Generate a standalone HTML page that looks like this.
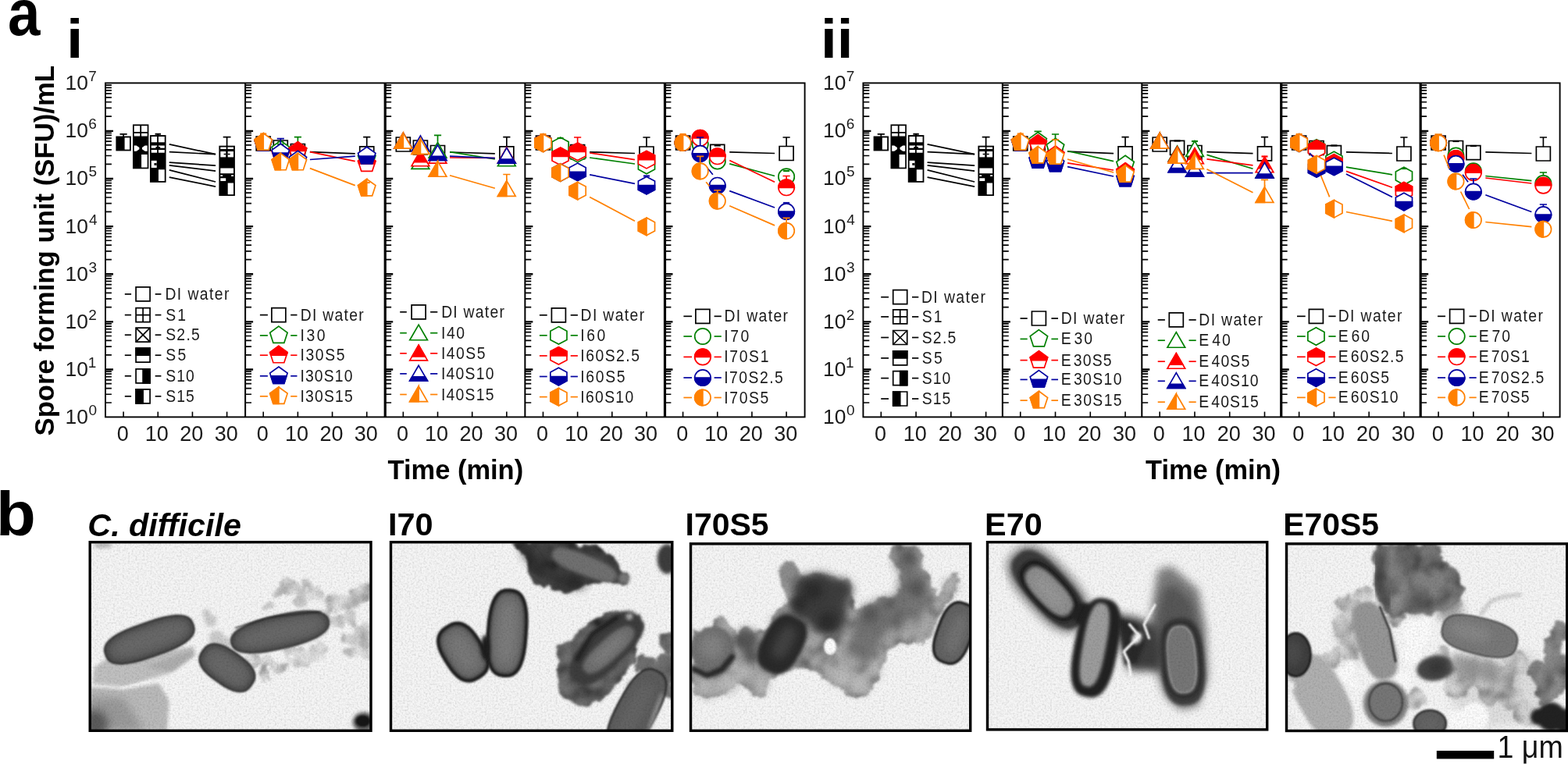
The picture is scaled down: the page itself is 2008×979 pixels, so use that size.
<!DOCTYPE html>
<html lang="en"><head><meta charset="utf-8"><title>Spore inactivation figure</title>
<style>html,body{margin:0;padding:0;background:#fff;overflow:hidden}svg{display:block;filter:blur(0.45px)}text{font-family:"Liberation Sans",sans-serif}</style>
</head><body>
<svg width="2008" height="979" viewBox="0 0 2008 979" font-family="Liberation Sans, sans-serif">
<rect width="2008" height="979" fill="#fff"/>
<text x="9.96" y="44.8" font-size="83" textLength="41.45" lengthAdjust="spacingAndGlyphs" fill="#000" style="font-weight:bold" xml:space="preserve">a</text>
<text x="-5.01" y="686.4" font-size="80" textLength="50.8" lengthAdjust="spacingAndGlyphs" fill="#000" style="font-weight:bold" xml:space="preserve">b</text>
<text x="85.11" y="74" font-size="71" textLength="21.41" lengthAdjust="spacingAndGlyphs" fill="#000" style="font-weight:bold" xml:space="preserve">i</text>
<text x="1050.97" y="74" font-size="71" textLength="41.51" lengthAdjust="spacingAndGlyphs" fill="#000" style="font-weight:bold" xml:space="preserve">ii</text>
<text x="-1.04" y="0" font-size="35.8" textLength="474.6" lengthAdjust="spacingAndGlyphs" fill="#000" style="font-weight:bold" transform="translate(68.6 557.5) rotate(-90)" xml:space="preserve">Spore forming unit (SFU)/mL</text>
<text x="496.56" y="614.3" font-size="35.3" textLength="173.59" lengthAdjust="spacingAndGlyphs" fill="#000" style="font-weight:bold" xml:space="preserve">Time (min)</text>
<text x="1467.06" y="614.3" font-size="35.3" textLength="172.98" lengthAdjust="spacingAndGlyphs" fill="#000" style="font-weight:bold" xml:space="preserve">Time (min)</text>
<text x="83.62" y="543.1" font-size="26.4" fill="#1a1a1a" xml:space="preserve">10<tspan x="113.57" y="532.2" font-size="19">0</tspan></text>
<text x="83.62" y="481.96" font-size="26.4" fill="#1a1a1a" xml:space="preserve">10<tspan x="112.69" y="471.06" font-size="19">1</tspan></text>
<text x="83.62" y="420.81" font-size="26.4" fill="#1a1a1a" xml:space="preserve">10<tspan x="113.32" y="409.91" font-size="19">2</tspan></text>
<text x="83.62" y="359.67" font-size="26.4" fill="#1a1a1a" xml:space="preserve">10<tspan x="113.57" y="348.77" font-size="19">3</tspan></text>
<text x="83.62" y="298.53" font-size="26.4" fill="#1a1a1a" xml:space="preserve">10<tspan x="113.91" y="287.63" font-size="19">4</tspan></text>
<text x="83.62" y="237.39" font-size="26.4" fill="#1a1a1a" xml:space="preserve">10<tspan x="113.57" y="226.49" font-size="19">5</tspan></text>
<text x="83.62" y="176.24" font-size="26.4" fill="#1a1a1a" xml:space="preserve">10<tspan x="113.33" y="165.34" font-size="19">6</tspan></text>
<text x="83.62" y="115.1" font-size="26.4" fill="#1a1a1a" xml:space="preserve">10<tspan x="113.32" y="104.2" font-size="19">7</tspan></text>
<g>
<line x1="216.77" y1="184.8" x2="276.11" y2="197.7" stroke="#000" stroke-width="1.7"/><line x1="216.77" y1="194.6" x2="276.11" y2="197.7" stroke="#000" stroke-width="1.7"/><line x1="216.77" y1="208.1" x2="276.11" y2="212.2" stroke="#000" stroke-width="1.7"/><line x1="216.77" y1="211.8" x2="276.11" y2="219.1" stroke="#000" stroke-width="1.7"/><line x1="216.77" y1="217.9" x2="276.11" y2="233" stroke="#000" stroke-width="1.7"/><line x1="216.77" y1="227.1" x2="276.11" y2="239.1" stroke="#000" stroke-width="1.7"/><path d="M158.1 175V171.8M153.5 171.8H162.7" stroke="#000" stroke-width="1.7" fill="none"/><rect x="148.4" y="174.5" width="19.4" height="18.9" fill="#000"/><rect x="159.6" y="176.4" width="6.4" height="15.2" fill="#fff"/><rect x="169.99" y="159.4" width="20.4" height="56.9" fill="#000"/><rect x="171.69" y="161.2" width="7.6" height="7.8" fill="#fff"/><rect x="171.69" y="170.8" width="7.6" height="3.7" fill="#fff"/><rect x="181.09" y="161.2" width="7.6" height="7.8" fill="#fff"/><rect x="181.09" y="170.8" width="7.6" height="3.7" fill="#fff"/><polygon points="171.69,186.5 174.69,186.5 178.38,189 178.38,191.3 174.69,193.8 171.69,193.8" fill="#fff"/><polygon points="188.69,186.5 185.69,186.5 181.99,189 181.99,191.3 185.69,193.8 188.69,193.8" fill="#fff"/><rect x="181.09" y="198" width="7.6" height="16.6" fill="#fff"/><path d="M202.27 174V171.8M198.57 171.8H205.97" stroke="#000" stroke-width="2" fill="none"/><rect x="191.97" y="173.1" width="20.6" height="60.7" fill="#000"/><rect x="193.77" y="175" width="7.4" height="7.3" fill="#fff"/><rect x="193.77" y="186.5" width="7.4" height="3.2" fill="#fff"/><rect x="193.77" y="192" width="7.4" height="3.7" fill="#fff"/><rect x="202.97" y="175" width="7.8" height="7.3" fill="#fff"/><rect x="202.97" y="186.5" width="7.8" height="3.2" fill="#fff"/><rect x="202.97" y="192" width="7.8" height="3.7" fill="#fff"/><path d="M200.27 188.1 Q202.27 192 204.27 188.1" stroke="#000" stroke-width="3" fill="none"/><rect x="193.77" y="205.8" width="6.9" height="9.2" fill="#fff"/><rect x="197.47" y="209" width="3.2" height="2.8" fill="#000"/><rect x="202.97" y="217.3" width="7.8" height="14.7" fill="#fff"/><path d="M290.61 188V175.6M285.71 175.6H295.51" stroke="#000" stroke-width="1.7" fill="none"/><rect x="280.41" y="186.7" width="20.5" height="64.3" fill="#000"/><rect x="282.31" y="188.5" width="16.7" height="2.5" fill="#fff"/><rect x="289.71" y="186.7" width="1.8" height="4.3" fill="#000"/><rect x="282.31" y="194" width="6.9" height="7.4" fill="#fff"/><rect x="291.71" y="194" width="7.3" height="7.4" fill="#fff"/><rect x="286.61" y="196.8" width="2.6" height="1.5" fill="#000"/><rect x="291.71" y="196.8" width="2.9" height="1.5" fill="#000"/><rect x="282.31" y="215.5" width="16.7" height="6.7" fill="#fff"/><rect x="282.31" y="224.3" width="2.8" height="1.7" fill="#fff"/><rect x="296.11" y="224.3" width="2.9" height="1.7" fill="#fff"/><rect x="282.31" y="228.3" width="6.9" height="3.7" fill="#fff"/><rect x="291.71" y="234.5" width="7.3" height="14.7" fill="#fff"/>
<line x1="159.8" y1="376.9" x2="168.1" y2="376.9" stroke="#000" stroke-width="1.7"/>
<line x1="198.7" y1="376.9" x2="206.4" y2="376.9" stroke="#000" stroke-width="1.7"/>
<polygon points="174.1,367.9 192.1,367.9 192.1,385.9 174.1,385.9" fill="#fff" stroke="#000" stroke-width="1.7"/>
<text transform="translate(213 383.9) scale(0.88 1)" x="-1.76" y="0" font-size="22" letter-spacing="1.594" fill="#1a1a1a" xml:space="preserve">DI water</text>
<line x1="159.8" y1="403.6" x2="168.1" y2="403.6" stroke="#000" stroke-width="1.7"/>
<line x1="198.7" y1="403.6" x2="206.4" y2="403.6" stroke="#000" stroke-width="1.7"/>
<polygon points="174.1,394.6 192.1,394.6 192.1,412.6 174.1,412.6" fill="#fff" stroke="#000" stroke-width="1.7"/><path d="M183.1 394.6V412.6M174.1 403.6H192.1" stroke="#000" stroke-width="1.7" fill="none"/>
<text transform="translate(213 410.6) scale(0.88 1)" x="-0.99" y="0" font-size="22" letter-spacing="2.413" fill="#1a1a1a" xml:space="preserve">S1</text>
<line x1="159.8" y1="429.2" x2="168.1" y2="429.2" stroke="#000" stroke-width="1.7"/>
<line x1="198.7" y1="429.2" x2="206.4" y2="429.2" stroke="#000" stroke-width="1.7"/>
<polygon points="174.1,420.2 192.1,420.2 192.1,438.2 174.1,438.2" fill="#fff" stroke="#000" stroke-width="1.7"/><path d="M174.1 420.2L192.1 438.2M192.1 420.2L174.1 438.2" stroke="#000" stroke-width="1.7" fill="none"/>
<text transform="translate(213 436.2) scale(0.88 1)" x="-0.99" y="0" font-size="22" letter-spacing="1.462" fill="#1a1a1a" xml:space="preserve">S2.5</text>
<line x1="159.8" y1="455.2" x2="168.1" y2="455.2" stroke="#000" stroke-width="1.7"/>
<line x1="198.7" y1="455.2" x2="206.4" y2="455.2" stroke="#000" stroke-width="1.7"/>
<polygon points="174.1,446.2 192.1,446.2 192.1,464.2 174.1,464.2" fill="#fff" stroke="#000" stroke-width="1.7"/><polygon points="174.1,446.2 192.1,446.2 192.1,455.2 174.1,455.2" fill="#000" stroke="#000" stroke-width="1.7" stroke-linejoin="miter"/>
<text transform="translate(213 462.2) scale(0.88 1)" x="-0.99" y="0" font-size="22" letter-spacing="2.871" fill="#1a1a1a" xml:space="preserve">S5</text>
<line x1="159.8" y1="481.8" x2="168.1" y2="481.8" stroke="#000" stroke-width="1.7"/>
<line x1="198.7" y1="481.8" x2="206.4" y2="481.8" stroke="#000" stroke-width="1.7"/>
<polygon points="174.1,472.8 192.1,472.8 192.1,490.8 174.1,490.8" fill="#fff" stroke="#000" stroke-width="1.7"/><polygon points="183.1,472.8 192.1,472.8 192.1,490.8 183.1,490.8" fill="#000" stroke="#000" stroke-width="1.7" stroke-linejoin="miter"/>
<text transform="translate(213 488.8) scale(0.88 1)" x="-0.99" y="0" font-size="22" letter-spacing="1.241" fill="#1a1a1a" xml:space="preserve">S10</text>
<line x1="159.8" y1="507.8" x2="168.1" y2="507.8" stroke="#000" stroke-width="1.7"/>
<line x1="198.7" y1="507.8" x2="206.4" y2="507.8" stroke="#000" stroke-width="1.7"/>
<polygon points="174.1,498.8 192.1,498.8 192.1,516.8 174.1,516.8" fill="#fff" stroke="#000" stroke-width="1.7"/><polygon points="174.1,498.8 183.1,498.8 183.1,516.8 174.1,516.8" fill="#000" stroke="#000" stroke-width="1.7" stroke-linejoin="miter"/>
<text transform="translate(213 514.8) scale(0.88 1)" x="-0.99" y="0" font-size="22" letter-spacing="1.241" fill="#1a1a1a" xml:space="preserve">S15</text>
</g>
<line x1="158.1" y1="534.4" x2="158.1" y2="527.6" stroke="#000" stroke-width="1.6"/>
<text x="149.71" y="564.5" font-size="27" textLength="15.02" lengthAdjust="spacingAndGlyphs" fill="#1a1a1a" xml:space="preserve">0</text>
<line x1="202.27" y1="534.4" x2="202.27" y2="527.6" stroke="#000" stroke-width="1.6"/>
<text x="185.84" y="564.5" font-size="27" textLength="30.03" lengthAdjust="spacingAndGlyphs" fill="#1a1a1a" xml:space="preserve">10</text>
<line x1="246.44" y1="534.4" x2="246.44" y2="527.6" stroke="#000" stroke-width="1.6"/>
<text x="230.35" y="564.5" font-size="27" textLength="30.03" lengthAdjust="spacingAndGlyphs" fill="#1a1a1a" xml:space="preserve">20</text>
<line x1="290.61" y1="534.4" x2="290.61" y2="527.6" stroke="#000" stroke-width="1.6"/>
<text x="274.66" y="564.5" font-size="27" textLength="30.03" lengthAdjust="spacingAndGlyphs" fill="#1a1a1a" xml:space="preserve">30</text>
<path d="M135 515.99h7.9M135 505.23h7.9M135 497.59h7.9M135 491.66h7.9M135 486.82h7.9M135 482.73h7.9M135 479.18h7.9M135 476.05h7.9M135 454.85h7.9M135 444.08h7.9M135 436.45h7.9M135 430.52h7.9M135 425.68h7.9M135 421.59h7.9M135 418.04h7.9M135 414.91h7.9M135 393.71h7.9M135 382.94h7.9M135 375.3h7.9M135 369.38h7.9M135 364.54h7.9M135 360.44h7.9M135 356.9h7.9M135 353.77h7.9M135 332.57h7.9M135 321.8h7.9M135 314.16h7.9M135 308.23h7.9M135 303.39h7.9M135 299.3h7.9M135 295.75h7.9M135 292.63h7.9M135 271.42h7.9M135 260.66h7.9M135 253.02h7.9M135 247.09h7.9M135 242.25h7.9M135 238.16h7.9M135 234.61h7.9M135 231.48h7.9M135 210.28h7.9M135 199.51h7.9M135 191.87h7.9M135 185.95h7.9M135 181.11h7.9M135 177.01h7.9M135 173.47h7.9M135 170.34h7.9M135 149.14h7.9M135 138.37h7.9M135 130.73h7.9M135 124.81h7.9M135 119.96h7.9M135 115.87h7.9M135 112.33h7.9M135 109.2h7.9" stroke="#000" stroke-width="1.7" fill="none"/>
<path d="M135 473.56h10M135 412.41h10M135 351.27h10M135 290.13h10M135 228.99h10M135 167.84h10" stroke="#000" stroke-width="2.4" fill="none"/>
<g>
<line x1="396.89" y1="194.7" x2="454.73" y2="196.8" stroke="#000" stroke-width="1.7"/>
<polygon points="328.22,175 346.22,175 346.22,193 328.22,193" fill="#fff" stroke="#000" stroke-width="1.7"/>
<polygon points="350.31,180 368.31,180 368.31,198 350.31,198" fill="#fff" stroke="#000" stroke-width="1.7"/>
<polygon points="372.39,184.5 390.39,184.5 390.39,202.5 372.39,202.5" fill="#fff" stroke="#000" stroke-width="1.7"/>
<polygon points="460.73,187.8 478.73,187.8 478.73,205.8 460.73,205.8" fill="#fff" stroke="#000" stroke-width="1.7"/>
<line x1="355.31" y1="182.5" x2="363.31" y2="182.5" stroke="#000" stroke-width="2.2"/>
<line x1="377.39" y1="187.5" x2="385.39" y2="187.5" stroke="#000" stroke-width="2.2"/>
<path d="M469.73 188V175.7M465.13 175.7H474.33" stroke="#000" stroke-width="1.7" fill="none"/>
<polygon points="337.22,171.2 348.44,179.35 344.16,192.55 330.28,192.55 326,179.35" fill="#fff" stroke="#008000" stroke-width="1.7"/>
<polygon points="359.31,180.2 370.53,188.35 366.24,201.55 352.37,201.55 348.08,188.35" fill="#fff" stroke="#008000" stroke-width="1.7"/>
<polygon points="381.39,182.2 392.61,190.35 388.33,203.55 374.45,203.55 370.17,190.35" fill="#fff" stroke="#008000" stroke-width="1.7"/>
<polygon points="469.73,191.2 480.95,199.35 476.67,212.55 462.79,212.55 458.51,199.35" fill="#fff" stroke="#008000" stroke-width="1.7"/>
<line x1="355.31" y1="185" x2="363.31" y2="185" stroke="#008000" stroke-width="2.2"/>
<path d="M381.39 182.4V175.7M376.79 175.7H385.99" stroke="#008000" stroke-width="1.7" fill="none"/>
<line x1="396.89" y1="194.7" x2="454.73" y2="206.6" stroke="#ff0000" stroke-width="1.7"/>
<polygon points="337.22,171.2 348.44,179.35 344.16,192.55 330.28,192.55 326,179.35" fill="#fff" stroke="#ff0000" stroke-width="1.7"/><polygon points="337.22,171.2 348.44,179.35 347.26,183 327.18,183 326,179.35" fill="#ff0000" stroke="#ff0000" stroke-width="1.7" stroke-linejoin="miter"/>
<polygon points="359.31,185.2 370.53,193.35 366.24,206.55 352.37,206.55 348.08,193.35" fill="#fff" stroke="#ff0000" stroke-width="1.7"/><polygon points="359.31,185.2 370.53,193.35 369.34,197 349.27,197 348.08,193.35" fill="#ff0000" stroke="#ff0000" stroke-width="1.7" stroke-linejoin="miter"/>
<polygon points="381.39,181.7 392.61,189.85 388.33,203.05 374.45,203.05 370.17,189.85" fill="#fff" stroke="#ff0000" stroke-width="1.7"/><polygon points="381.39,181.7 392.61,189.85 391.43,193.5 371.35,193.5 370.17,189.85" fill="#ff0000" stroke="#ff0000" stroke-width="1.7" stroke-linejoin="miter"/>
<polygon points="469.73,198.1 480.95,206.25 476.67,219.45 462.79,219.45 458.51,206.25" fill="#fff" stroke="#ff0000" stroke-width="1.7"/><polygon points="469.73,198.1 480.95,206.25 479.77,209.9 459.69,209.9 458.51,206.25" fill="#ff0000" stroke="#ff0000" stroke-width="1.7" stroke-linejoin="miter"/>
<line x1="355.31" y1="190" x2="363.31" y2="190" stroke="#ff0000" stroke-width="2.2"/>
<line x1="396.89" y1="204.5" x2="454.73" y2="200.2" stroke="#0000a0" stroke-width="1.7"/>
<polygon points="337.22,171.2 348.44,179.35 344.16,192.55 330.28,192.55 326,179.35" fill="#fff" stroke="#0000a0" stroke-width="1.7"/><polygon points="347.26,183 344.16,192.55 330.28,192.55 327.18,183" fill="#0000a0" stroke="#0000a0" stroke-width="1.7" stroke-linejoin="miter"/>
<polygon points="359.31,184.2 370.53,192.35 366.24,205.55 352.37,205.55 348.08,192.35" fill="#fff" stroke="#0000a0" stroke-width="1.7"/><polygon points="369.34,196 366.24,205.55 352.37,205.55 349.27,196" fill="#0000a0" stroke="#0000a0" stroke-width="1.7" stroke-linejoin="miter"/>
<polygon points="381.39,193.2 392.61,201.35 388.33,214.55 374.45,214.55 370.17,201.35" fill="#fff" stroke="#0000a0" stroke-width="1.7"/><polygon points="391.43,205 388.33,214.55 374.45,214.55 371.35,205" fill="#0000a0" stroke="#0000a0" stroke-width="1.7" stroke-linejoin="miter"/>
<polygon points="469.73,188.2 480.95,196.35 476.67,209.55 462.79,209.55 458.51,196.35" fill="#fff" stroke="#0000a0" stroke-width="1.7"/><polygon points="479.77,200 476.67,209.55 462.79,209.55 459.69,200" fill="#0000a0" stroke="#0000a0" stroke-width="1.7" stroke-linejoin="miter"/>
<path d="M359.31 184.4V177.6M354.7 177.6H363.91" stroke="#0000a0" stroke-width="1.7" fill="none"/>
<line x1="396.89" y1="215.6" x2="454.73" y2="237.6" stroke="#ff8000" stroke-width="1.7"/>
<polygon points="337.22,170.7 348.44,178.85 344.16,192.05 330.28,192.05 326,178.85" fill="#fff" stroke="#ff8000" stroke-width="1.7"/><polygon points="337.22,170.7 337.22,170.7 337.22,192.05 330.28,192.05 326,178.85" fill="#ff8000" stroke="#ff8000" stroke-width="1.7" stroke-linejoin="miter"/>
<polygon points="359.31,196.4 370.53,204.55 366.24,217.75 352.37,217.75 348.08,204.55" fill="#fff" stroke="#ff8000" stroke-width="1.7"/><polygon points="359.31,196.4 359.31,196.4 359.31,217.75 352.37,217.75 348.08,204.55" fill="#ff8000" stroke="#ff8000" stroke-width="1.7" stroke-linejoin="miter"/>
<polygon points="381.39,196.4 392.61,204.55 388.33,217.75 374.45,217.75 370.17,204.55" fill="#fff" stroke="#ff8000" stroke-width="1.7"/><polygon points="381.39,196.4 381.39,196.4 381.39,217.75 374.45,217.75 370.17,204.55" fill="#ff8000" stroke="#ff8000" stroke-width="1.7" stroke-linejoin="miter"/>
<polygon points="469.73,229.5 480.95,237.65 476.67,250.85 462.79,250.85 458.51,237.65" fill="#fff" stroke="#ff8000" stroke-width="1.7"/><polygon points="469.73,229.5 469.73,229.5 469.73,250.85 462.79,250.85 458.51,237.65" fill="#ff8000" stroke="#ff8000" stroke-width="1.7" stroke-linejoin="miter"/>
<line x1="333.22" y1="171.5" x2="341.22" y2="171.5" stroke="#ff8000" stroke-width="2.2"/>
<line x1="465.73" y1="234" x2="473.73" y2="234" stroke="#ff8000" stroke-width="2.2"/>
<line x1="332.9" y1="403.6" x2="342.9" y2="403.6" stroke="#000" stroke-width="1.7"/>
<line x1="372.2" y1="403.6" x2="380.5" y2="403.6" stroke="#000" stroke-width="1.7"/>
<polygon points="347.9,394.6 365.9,394.6 365.9,412.6 347.9,412.6" fill="#fff" stroke="#000" stroke-width="1.7"/>
<text transform="translate(386.2 410.6) scale(0.88 1)" x="-1.76" y="0" font-size="22" letter-spacing="1.464" fill="#1a1a1a" xml:space="preserve">DI water</text>
<line x1="332.9" y1="429.9" x2="342.9" y2="429.9" stroke="#008000" stroke-width="1.7"/>
<line x1="372.2" y1="429.9" x2="380.5" y2="429.9" stroke="#008000" stroke-width="1.7"/>
<polygon points="356.9,418.1 368.12,426.25 363.84,439.45 349.96,439.45 345.68,426.25" fill="#fff" stroke="#008000" stroke-width="1.7"/>
<text transform="translate(386.2 436.9) scale(0.88 1)" x="-1.98" y="0" font-size="22" letter-spacing="2.901" fill="#1a1a1a" xml:space="preserve">I30</text>
<line x1="332.9" y1="455.2" x2="342.9" y2="455.2" stroke="#ff0000" stroke-width="1.7"/>
<line x1="372.2" y1="455.2" x2="380.5" y2="455.2" stroke="#ff0000" stroke-width="1.7"/>
<polygon points="356.9,443.4 368.12,451.55 363.84,464.75 349.96,464.75 345.68,451.55" fill="#fff" stroke="#ff0000" stroke-width="1.7"/><polygon points="356.9,443.4 368.12,451.55 366.94,455.2 346.86,455.2 345.68,451.55" fill="#ff0000" stroke="#ff0000" stroke-width="1.7" stroke-linejoin="miter"/>
<text transform="translate(386.2 462.2) scale(0.88 1)" x="-1.98" y="0" font-size="22" letter-spacing="1.843" fill="#1a1a1a" xml:space="preserve">I30S5</text>
<line x1="332.9" y1="481.8" x2="342.9" y2="481.8" stroke="#0000a0" stroke-width="1.7"/>
<line x1="372.2" y1="481.8" x2="380.5" y2="481.8" stroke="#0000a0" stroke-width="1.7"/>
<polygon points="356.9,470 368.12,478.15 363.84,491.35 349.96,491.35 345.68,478.15" fill="#fff" stroke="#0000a0" stroke-width="1.7"/><polygon points="366.94,481.8 363.84,491.35 349.96,491.35 346.86,481.8" fill="#0000a0" stroke="#0000a0" stroke-width="1.7" stroke-linejoin="miter"/>
<text transform="translate(386.2 488.8) scale(0.88 1)" x="-1.98" y="0" font-size="22" letter-spacing="1.283" fill="#1a1a1a" xml:space="preserve">I30S10</text>
<line x1="332.9" y1="507.8" x2="342.9" y2="507.8" stroke="#ff8000" stroke-width="1.7"/>
<line x1="372.2" y1="507.8" x2="380.5" y2="507.8" stroke="#ff8000" stroke-width="1.7"/>
<polygon points="356.9,496 368.12,504.15 363.84,517.35 349.96,517.35 345.68,504.15" fill="#fff" stroke="#ff8000" stroke-width="1.7"/><polygon points="356.9,496 356.9,496 356.9,517.35 349.96,517.35 345.68,504.15" fill="#ff8000" stroke="#ff8000" stroke-width="1.7" stroke-linejoin="miter"/>
<text transform="translate(386.2 514.8) scale(0.88 1)" x="-1.98" y="0" font-size="22" letter-spacing="1.351" fill="#1a1a1a" xml:space="preserve">I30S15</text>
</g>
<line x1="337.22" y1="534.4" x2="337.22" y2="527.6" stroke="#000" stroke-width="1.6"/>
<text x="328.83" y="564.5" font-size="27" textLength="15.02" lengthAdjust="spacingAndGlyphs" fill="#1a1a1a" xml:space="preserve">0</text>
<line x1="381.39" y1="534.4" x2="381.39" y2="527.6" stroke="#000" stroke-width="1.6"/>
<text x="364.97" y="564.5" font-size="27" textLength="30.03" lengthAdjust="spacingAndGlyphs" fill="#1a1a1a" xml:space="preserve">10</text>
<line x1="425.56" y1="534.4" x2="425.56" y2="527.6" stroke="#000" stroke-width="1.6"/>
<text x="409.47" y="564.5" font-size="27" textLength="30.03" lengthAdjust="spacingAndGlyphs" fill="#1a1a1a" xml:space="preserve">20</text>
<line x1="469.73" y1="534.4" x2="469.73" y2="527.6" stroke="#000" stroke-width="1.6"/>
<text x="453.78" y="564.5" font-size="27" textLength="30.03" lengthAdjust="spacingAndGlyphs" fill="#1a1a1a" xml:space="preserve">30</text>
<path d="M314.12 515.99h7.9M314.12 505.23h7.9M314.12 497.59h7.9M314.12 491.66h7.9M314.12 486.82h7.9M314.12 482.73h7.9M314.12 479.18h7.9M314.12 476.05h7.9M314.12 454.85h7.9M314.12 444.08h7.9M314.12 436.45h7.9M314.12 430.52h7.9M314.12 425.68h7.9M314.12 421.59h7.9M314.12 418.04h7.9M314.12 414.91h7.9M314.12 393.71h7.9M314.12 382.94h7.9M314.12 375.3h7.9M314.12 369.38h7.9M314.12 364.54h7.9M314.12 360.44h7.9M314.12 356.9h7.9M314.12 353.77h7.9M314.12 332.57h7.9M314.12 321.8h7.9M314.12 314.16h7.9M314.12 308.23h7.9M314.12 303.39h7.9M314.12 299.3h7.9M314.12 295.75h7.9M314.12 292.63h7.9M314.12 271.42h7.9M314.12 260.66h7.9M314.12 253.02h7.9M314.12 247.09h7.9M314.12 242.25h7.9M314.12 238.16h7.9M314.12 234.61h7.9M314.12 231.48h7.9M314.12 210.28h7.9M314.12 199.51h7.9M314.12 191.87h7.9M314.12 185.95h7.9M314.12 181.11h7.9M314.12 177.01h7.9M314.12 173.47h7.9M314.12 170.34h7.9M314.12 149.14h7.9M314.12 138.37h7.9M314.12 130.73h7.9M314.12 124.81h7.9M314.12 119.96h7.9M314.12 115.87h7.9M314.12 112.33h7.9M314.12 109.2h7.9" stroke="#000" stroke-width="1.7" fill="none"/>
<path d="M314.12 473.56h10M314.12 412.41h10M314.12 351.27h10M314.12 290.13h10M314.12 228.99h10M314.12 167.84h10" stroke="#000" stroke-width="2.4" fill="none"/>
<line x1="314.12" y1="106.4" x2="314.12" y2="534.4" stroke="#000" stroke-width="2.0"/>
<g>
<line x1="576.01" y1="195" x2="633.85" y2="196.8" stroke="#000" stroke-width="1.7"/>
<polygon points="507.34,176 525.34,176 525.34,194 507.34,194" fill="#fff" stroke="#000" stroke-width="1.7"/>
<polygon points="529.43,180 547.43,180 547.43,198 529.43,198" fill="#fff" stroke="#000" stroke-width="1.7"/>
<polygon points="551.51,186.5 569.51,186.5 569.51,204.5 551.51,204.5" fill="#fff" stroke="#000" stroke-width="1.7"/>
<polygon points="639.85,187.8 657.85,187.8 657.85,205.8 639.85,205.8" fill="#fff" stroke="#000" stroke-width="1.7"/>
<path d="M648.85 188V175.7M644.25 175.7H653.45" stroke="#000" stroke-width="1.7" fill="none"/>
<line x1="576.01" y1="194.7" x2="633.85" y2="204" stroke="#008000" stroke-width="1.7"/>
<polygon points="516.34,170.4 527.68,190.05 505,190.05" fill="#fff" stroke="#008000" stroke-width="1.7"/>
<polygon points="538.43,196.8 549.77,216.45 527.08,216.45" fill="#fff" stroke="#008000" stroke-width="1.7"/>
<polygon points="560.51,182.5 571.85,202.15 549.17,202.15" fill="#fff" stroke="#008000" stroke-width="1.7"/>
<polygon points="648.85,193.1 660.19,212.75 637.51,212.75" fill="#fff" stroke="#008000" stroke-width="1.7"/>
<path d="M560.51 181.8V173.3M555.91 173.3H565.11" stroke="#008000" stroke-width="1.7" fill="none"/>
<line x1="534.43" y1="196" x2="542.43" y2="196" stroke="#008000" stroke-width="2.2"/>
<line x1="576.01" y1="202" x2="633.85" y2="202.5" stroke="#ff0000" stroke-width="1.7"/>
<polygon points="516.34,170.4 527.68,190.05 505,190.05" fill="#fff" stroke="#ff0000" stroke-width="1.7"/><polygon points="516.34,170.4 524.77,185 507.91,185" fill="#ff0000" stroke="#ff0000" stroke-width="1.7" stroke-linejoin="miter"/>
<polygon points="538.43,193.1 549.77,212.75 527.08,212.75" fill="#fff" stroke="#ff0000" stroke-width="1.7"/><polygon points="538.43,193.1 546.85,207.7 530,207.7" fill="#ff0000" stroke="#ff0000" stroke-width="1.7" stroke-linejoin="miter"/>
<polygon points="560.51,189.4 571.85,209.05 549.17,209.05" fill="#fff" stroke="#ff0000" stroke-width="1.7"/><polygon points="560.51,189.4 568.94,204 552.08,204" fill="#ff0000" stroke="#ff0000" stroke-width="1.7" stroke-linejoin="miter"/>
<polygon points="648.85,189.2 660.19,208.85 637.51,208.85" fill="#fff" stroke="#ff0000" stroke-width="1.7"/><polygon points="648.85,189.2 657.28,203.8 640.42,203.8" fill="#ff0000" stroke="#ff0000" stroke-width="1.7" stroke-linejoin="miter"/>
<line x1="534.43" y1="193" x2="542.43" y2="193" stroke="#ff0000" stroke-width="2.2"/>
<line x1="576.01" y1="200.2" x2="633.85" y2="202.7" stroke="#0000a0" stroke-width="1.7"/>
<polygon points="516.34,170.4 527.68,190.05 505,190.05" fill="#fff" stroke="#0000a0" stroke-width="1.7"/><polygon points="524.77,185 527.68,190.05 505,190.05 507.91,185" fill="#0000a0" stroke="#0000a0" stroke-width="1.7" stroke-linejoin="miter"/>
<polygon points="538.43,173.9 549.77,193.55 527.08,193.55" fill="#fff" stroke="#0000a0" stroke-width="1.7"/><polygon points="546.85,188.5 549.77,193.55 527.08,193.55 530,188.5" fill="#0000a0" stroke="#0000a0" stroke-width="1.7" stroke-linejoin="miter"/>
<polygon points="560.51,185.8 571.85,205.45 549.17,205.45" fill="#fff" stroke="#0000a0" stroke-width="1.7"/><polygon points="568.94,200.4 571.85,205.45 549.17,205.45 552.08,200.4" fill="#0000a0" stroke="#0000a0" stroke-width="1.7" stroke-linejoin="miter"/>
<polygon points="648.85,189.4 660.19,209.05 637.51,209.05" fill="#fff" stroke="#0000a0" stroke-width="1.7"/><polygon points="657.28,204 660.19,209.05 637.51,209.05 640.42,204" fill="#0000a0" stroke="#0000a0" stroke-width="1.7" stroke-linejoin="miter"/>
<line x1="576.01" y1="224.8" x2="633.85" y2="241.3" stroke="#ff8000" stroke-width="1.7"/>
<polygon points="516.34,170.4 527.68,190.05 505,190.05" fill="#fff" stroke="#ff8000" stroke-width="1.7"/><polygon points="516.34,170.4 516.34,170.4 516.34,190.05 505,190.05" fill="#ff8000" stroke="#ff8000" stroke-width="1.7" stroke-linejoin="miter"/>
<polygon points="538.43,177.8 549.77,197.45 527.08,197.45" fill="#fff" stroke="#ff8000" stroke-width="1.7"/><polygon points="538.43,177.8 538.43,177.8 538.43,197.45 527.08,197.45" fill="#ff8000" stroke="#ff8000" stroke-width="1.7" stroke-linejoin="miter"/>
<polygon points="560.51,206.6 571.85,226.25 549.17,226.25" fill="#fff" stroke="#ff8000" stroke-width="1.7"/><polygon points="560.51,206.6 560.51,206.6 560.51,226.25 549.17,226.25" fill="#ff8000" stroke="#ff8000" stroke-width="1.7" stroke-linejoin="miter"/>
<polygon points="648.85,231.7 660.19,251.35 637.51,251.35" fill="#fff" stroke="#ff8000" stroke-width="1.7"/><polygon points="648.85,231.7 648.85,231.7 648.85,251.35 637.51,251.35" fill="#ff8000" stroke="#ff8000" stroke-width="1.7" stroke-linejoin="miter"/>
<path d="M648.85 231V223.5M644.25 223.5H653.45" stroke="#ff8000" stroke-width="1.7" fill="none"/>
<line x1="512.2" y1="399.8" x2="520.8" y2="399.8" stroke="#000" stroke-width="1.7"/>
<line x1="551.1" y1="399.8" x2="560.3" y2="399.8" stroke="#000" stroke-width="1.7"/>
<polygon points="527.1,390.8 545.1,390.8 545.1,408.8 527.1,408.8" fill="#fff" stroke="#000" stroke-width="1.7"/>
<text transform="translate(566.7 406.8) scale(0.88 1)" x="-1.76" y="0" font-size="22" letter-spacing="1.399" fill="#1a1a1a" xml:space="preserve">DI water</text>
<line x1="512.2" y1="426.7" x2="520.8" y2="426.7" stroke="#008000" stroke-width="1.7"/>
<line x1="551.1" y1="426.7" x2="560.3" y2="426.7" stroke="#008000" stroke-width="1.7"/>
<polygon points="536.1,416.1 547.44,435.75 524.76,435.75" fill="#fff" stroke="#008000" stroke-width="1.7"/>
<text transform="translate(566.7 433.7) scale(0.88 1)" x="-1.98" y="0" font-size="22" letter-spacing="1.765" fill="#1a1a1a" xml:space="preserve">I40</text>
<line x1="512.2" y1="452.8" x2="520.8" y2="452.8" stroke="#ff0000" stroke-width="1.7"/>
<line x1="551.1" y1="452.8" x2="560.3" y2="452.8" stroke="#ff0000" stroke-width="1.7"/>
<polygon points="536.1,442.2 547.44,461.85 524.76,461.85" fill="#fff" stroke="#ff0000" stroke-width="1.7"/><polygon points="536.1,442.2 544.53,456.8 527.67,456.8" fill="#ff0000" stroke="#ff0000" stroke-width="1.7" stroke-linejoin="miter"/>
<text transform="translate(566.7 459.8) scale(0.88 1)" x="-1.98" y="0" font-size="22" letter-spacing="1.701" fill="#1a1a1a" xml:space="preserve">I40S5</text>
<line x1="512.2" y1="478.9" x2="520.8" y2="478.9" stroke="#0000a0" stroke-width="1.7"/>
<line x1="551.1" y1="478.9" x2="560.3" y2="478.9" stroke="#0000a0" stroke-width="1.7"/>
<polygon points="536.1,468.3 547.44,487.95 524.76,487.95" fill="#fff" stroke="#0000a0" stroke-width="1.7"/><polygon points="544.53,482.9 547.44,487.95 524.76,487.95 527.67,482.9" fill="#0000a0" stroke="#0000a0" stroke-width="1.7" stroke-linejoin="miter"/>
<text transform="translate(566.7 485.9) scale(0.88 1)" x="-1.98" y="0" font-size="22" letter-spacing="1.397" fill="#1a1a1a" xml:space="preserve">I40S10</text>
<line x1="512.2" y1="505.5" x2="520.8" y2="505.5" stroke="#ff8000" stroke-width="1.7"/>
<line x1="551.1" y1="505.5" x2="560.3" y2="505.5" stroke="#ff8000" stroke-width="1.7"/>
<polygon points="536.1,494.9 547.44,514.55 524.76,514.55" fill="#fff" stroke="#ff8000" stroke-width="1.7"/><polygon points="536.1,494.9 536.1,494.9 536.1,514.55 524.76,514.55" fill="#ff8000" stroke="#ff8000" stroke-width="1.7" stroke-linejoin="miter"/>
<text transform="translate(566.7 512.5) scale(0.88 1)" x="-1.98" y="0" font-size="22" letter-spacing="1.397" fill="#1a1a1a" xml:space="preserve">I40S15</text>
</g>
<line x1="516.34" y1="534.4" x2="516.34" y2="527.6" stroke="#000" stroke-width="1.6"/>
<text x="507.95" y="564.5" font-size="27" textLength="15.02" lengthAdjust="spacingAndGlyphs" fill="#1a1a1a" xml:space="preserve">0</text>
<line x1="560.51" y1="534.4" x2="560.51" y2="527.6" stroke="#000" stroke-width="1.6"/>
<text x="544.09" y="564.5" font-size="27" textLength="30.03" lengthAdjust="spacingAndGlyphs" fill="#1a1a1a" xml:space="preserve">10</text>
<line x1="604.68" y1="534.4" x2="604.68" y2="527.6" stroke="#000" stroke-width="1.6"/>
<text x="588.59" y="564.5" font-size="27" textLength="30.03" lengthAdjust="spacingAndGlyphs" fill="#1a1a1a" xml:space="preserve">20</text>
<line x1="648.85" y1="534.4" x2="648.85" y2="527.6" stroke="#000" stroke-width="1.6"/>
<text x="632.9" y="564.5" font-size="27" textLength="30.03" lengthAdjust="spacingAndGlyphs" fill="#1a1a1a" xml:space="preserve">30</text>
<path d="M493.24 515.99h7.9M493.24 505.23h7.9M493.24 497.59h7.9M493.24 491.66h7.9M493.24 486.82h7.9M493.24 482.73h7.9M493.24 479.18h7.9M493.24 476.05h7.9M493.24 454.85h7.9M493.24 444.08h7.9M493.24 436.45h7.9M493.24 430.52h7.9M493.24 425.68h7.9M493.24 421.59h7.9M493.24 418.04h7.9M493.24 414.91h7.9M493.24 393.71h7.9M493.24 382.94h7.9M493.24 375.3h7.9M493.24 369.38h7.9M493.24 364.54h7.9M493.24 360.44h7.9M493.24 356.9h7.9M493.24 353.77h7.9M493.24 332.57h7.9M493.24 321.8h7.9M493.24 314.16h7.9M493.24 308.23h7.9M493.24 303.39h7.9M493.24 299.3h7.9M493.24 295.75h7.9M493.24 292.63h7.9M493.24 271.42h7.9M493.24 260.66h7.9M493.24 253.02h7.9M493.24 247.09h7.9M493.24 242.25h7.9M493.24 238.16h7.9M493.24 234.61h7.9M493.24 231.48h7.9M493.24 210.28h7.9M493.24 199.51h7.9M493.24 191.87h7.9M493.24 185.95h7.9M493.24 181.11h7.9M493.24 177.01h7.9M493.24 173.47h7.9M493.24 170.34h7.9M493.24 149.14h7.9M493.24 138.37h7.9M493.24 130.73h7.9M493.24 124.81h7.9M493.24 119.96h7.9M493.24 115.87h7.9M493.24 112.33h7.9M493.24 109.2h7.9" stroke="#000" stroke-width="1.7" fill="none"/>
<path d="M493.24 473.56h10M493.24 412.41h10M493.24 351.27h10M493.24 290.13h10M493.24 228.99h10M493.24 167.84h10" stroke="#000" stroke-width="2.4" fill="none"/>
<line x1="493.24" y1="106.4" x2="493.24" y2="534.4" stroke="#000" stroke-width="3.2"/>
<g>
<line x1="755.13" y1="194.8" x2="812.97" y2="196.5" stroke="#000" stroke-width="1.7"/>
<polygon points="686.46,174 704.46,174 704.46,192 686.46,192" fill="#fff" stroke="#000" stroke-width="1.7"/>
<polygon points="708.55,181 726.55,181 726.55,199 708.55,199" fill="#fff" stroke="#000" stroke-width="1.7"/>
<polygon points="730.63,185.7 748.63,185.7 748.63,203.7 730.63,203.7" fill="#fff" stroke="#000" stroke-width="1.7"/>
<polygon points="818.97,188 836.97,188 836.97,206 818.97,206" fill="#fff" stroke="#000" stroke-width="1.7"/>
<path d="M827.97 188.2V176M823.37 176H832.57" stroke="#000" stroke-width="1.7" fill="none"/>
<line x1="735.63" y1="185.5" x2="743.63" y2="185.5" stroke="#000" stroke-width="2.2"/>
<line x1="755.13" y1="202" x2="812.97" y2="210" stroke="#008000" stroke-width="1.7"/>
<polygon points="695.46,171.8 706.03,177.4 706.03,188.6 695.46,194.2 684.89,188.6 684.89,177.4" fill="#fff" stroke="#008000" stroke-width="1.7"/>
<polygon points="717.55,176.1 728.11,181.7 728.11,192.9 717.55,198.5 706.98,192.9 706.98,181.7" fill="#fff" stroke="#008000" stroke-width="1.7"/>
<polygon points="739.63,185.5 750.2,191.1 750.2,202.3 739.63,207.9 729.06,202.3 729.06,191.1" fill="#fff" stroke="#008000" stroke-width="1.7"/>
<polygon points="827.97,200.3 838.54,205.9 838.54,217.1 827.97,222.7 817.4,217.1 817.4,205.9" fill="#fff" stroke="#008000" stroke-width="1.7"/>
<line x1="713.55" y1="177" x2="721.55" y2="177" stroke="#008000" stroke-width="2.2"/>
<line x1="823.97" y1="202" x2="831.97" y2="202" stroke="#008000" stroke-width="2.2"/>
<line x1="755.13" y1="196" x2="812.97" y2="204.7" stroke="#ff0000" stroke-width="1.7"/>
<polygon points="695.46,171.8 706.03,177.4 706.03,188.6 695.46,194.2 684.89,188.6 684.89,177.4" fill="#fff" stroke="#ff0000" stroke-width="1.7"/><polygon points="695.46,171.8 706.03,177.4 706.03,183 684.89,183 684.89,177.4" fill="#ff0000" stroke="#ff0000" stroke-width="1.7" stroke-linejoin="miter"/>
<polygon points="717.55,189.1 728.11,194.7 728.11,205.9 717.55,211.5 706.98,205.9 706.98,194.7" fill="#fff" stroke="#ff0000" stroke-width="1.7"/><polygon points="717.55,189.1 728.11,194.7 728.11,200.3 706.98,200.3 706.98,194.7" fill="#ff0000" stroke="#ff0000" stroke-width="1.7" stroke-linejoin="miter"/>
<polygon points="739.63,183.1 750.2,188.7 750.2,199.9 739.63,205.5 729.06,199.9 729.06,188.7" fill="#fff" stroke="#ff0000" stroke-width="1.7"/><polygon points="739.63,183.1 750.2,188.7 750.2,194.3 729.06,194.3 729.06,188.7" fill="#ff0000" stroke="#ff0000" stroke-width="1.7" stroke-linejoin="miter"/>
<polygon points="827.97,193.5 838.54,199.1 838.54,210.3 827.97,215.9 817.4,210.3 817.4,199.1" fill="#fff" stroke="#ff0000" stroke-width="1.7"/><polygon points="827.97,193.5 838.54,199.1 838.54,204.7 817.4,204.7 817.4,199.1" fill="#ff0000" stroke="#ff0000" stroke-width="1.7" stroke-linejoin="miter"/>
<path d="M739.63 182.7V176M735.03 176H744.23" stroke="#ff0000" stroke-width="1.7" fill="none"/>
<line x1="755.13" y1="223.8" x2="812.97" y2="235.4" stroke="#0000a0" stroke-width="1.7"/>
<polygon points="695.46,171.8 706.03,177.4 706.03,188.6 695.46,194.2 684.89,188.6 684.89,177.4" fill="#fff" stroke="#0000a0" stroke-width="1.7"/><polygon points="706.03,183 706.03,188.6 695.46,194.2 684.89,188.6 684.89,183" fill="#0000a0" stroke="#0000a0" stroke-width="1.7" stroke-linejoin="miter"/>
<polygon points="717.55,209.8 728.11,215.4 728.11,226.6 717.55,232.2 706.98,226.6 706.98,215.4" fill="#fff" stroke="#0000a0" stroke-width="1.7"/><polygon points="728.11,221 728.11,226.6 717.55,232.2 706.98,226.6 706.98,221" fill="#0000a0" stroke="#0000a0" stroke-width="1.7" stroke-linejoin="miter"/>
<polygon points="739.63,209.1 750.2,214.7 750.2,225.9 739.63,231.5 729.06,225.9 729.06,214.7" fill="#fff" stroke="#0000a0" stroke-width="1.7"/><polygon points="750.2,220.3 750.2,225.9 739.63,231.5 729.06,225.9 729.06,220.3" fill="#0000a0" stroke="#0000a0" stroke-width="1.7" stroke-linejoin="miter"/>
<polygon points="827.97,226.5 838.54,232.1 838.54,243.3 827.97,248.9 817.4,243.3 817.4,232.1" fill="#fff" stroke="#0000a0" stroke-width="1.7"/><polygon points="838.54,237.7 838.54,243.3 827.97,248.9 817.4,243.3 817.4,237.7" fill="#0000a0" stroke="#0000a0" stroke-width="1.7" stroke-linejoin="miter"/>
<line x1="823.97" y1="225.5" x2="831.97" y2="225.5" stroke="#0000a0" stroke-width="2.2"/>
<line x1="755.13" y1="252.4" x2="812.97" y2="283.3" stroke="#ff8000" stroke-width="1.7"/>
<polygon points="695.46,172.1 706.03,177.7 706.03,188.9 695.46,194.5 684.89,188.9 684.89,177.7" fill="#fff" stroke="#ff8000" stroke-width="1.7"/><polygon points="695.46,172.1 695.46,172.1 695.46,194.5 695.46,194.5 684.89,188.9 684.89,177.7" fill="#ff8000" stroke="#ff8000" stroke-width="1.7" stroke-linejoin="miter"/>
<polygon points="717.55,210 728.11,215.6 728.11,226.8 717.55,232.4 706.98,226.8 706.98,215.6" fill="#fff" stroke="#ff8000" stroke-width="1.7"/><polygon points="717.55,210 717.55,210 717.55,232.4 717.55,232.4 706.98,226.8 706.98,215.6" fill="#ff8000" stroke="#ff8000" stroke-width="1.7" stroke-linejoin="miter"/>
<polygon points="739.63,233.4 750.2,239 750.2,250.2 739.63,255.8 729.06,250.2 729.06,239" fill="#fff" stroke="#ff8000" stroke-width="1.7"/><polygon points="739.63,233.4 739.63,233.4 739.63,255.8 739.63,255.8 729.06,250.2 729.06,239" fill="#ff8000" stroke="#ff8000" stroke-width="1.7" stroke-linejoin="miter"/>
<polygon points="827.97,279.1 838.54,284.7 838.54,295.9 827.97,301.5 817.4,295.9 817.4,284.7" fill="#fff" stroke="#ff8000" stroke-width="1.7"/><polygon points="827.97,279.1 827.97,279.1 827.97,301.5 827.97,301.5 817.4,295.9 817.4,284.7" fill="#ff8000" stroke="#ff8000" stroke-width="1.7" stroke-linejoin="miter"/>
<line x1="691.46" y1="172" x2="699.46" y2="172" stroke="#ff8000" stroke-width="2.2"/>
<line x1="690.9" y1="403.8" x2="700.7" y2="403.8" stroke="#000" stroke-width="1.7"/>
<line x1="730.7" y1="403.8" x2="739.9" y2="403.8" stroke="#000" stroke-width="1.7"/>
<polygon points="706.4,394.8 724.4,394.8 724.4,412.8 706.4,412.8" fill="#fff" stroke="#000" stroke-width="1.7"/>
<text transform="translate(745.1 410.8) scale(0.88 1)" x="-1.76" y="0" font-size="22" letter-spacing="1.545" fill="#1a1a1a" xml:space="preserve">DI water</text>
<line x1="690.9" y1="429.8" x2="700.7" y2="429.8" stroke="#008000" stroke-width="1.7"/>
<line x1="730.7" y1="429.8" x2="739.9" y2="429.8" stroke="#008000" stroke-width="1.7"/>
<polygon points="715.4,418.6 725.97,424.2 725.97,435.4 715.4,441 704.83,435.4 704.83,424.2" fill="#fff" stroke="#008000" stroke-width="1.7"/>
<text transform="translate(745.1 436.8) scale(0.88 1)" x="-1.98" y="0" font-size="22" letter-spacing="2.901" fill="#1a1a1a" xml:space="preserve">I60</text>
<line x1="690.9" y1="455.9" x2="700.7" y2="455.9" stroke="#ff0000" stroke-width="1.7"/>
<line x1="730.7" y1="455.9" x2="739.9" y2="455.9" stroke="#ff0000" stroke-width="1.7"/>
<polygon points="715.4,444.7 725.97,450.3 725.97,461.5 715.4,467.1 704.83,461.5 704.83,450.3" fill="#fff" stroke="#ff0000" stroke-width="1.7"/><polygon points="715.4,444.7 725.97,450.3 725.97,455.9 704.83,455.9 704.83,450.3" fill="#ff0000" stroke="#ff0000" stroke-width="1.7" stroke-linejoin="miter"/>
<text transform="translate(745.1 462.9) scale(0.88 1)" x="-1.98" y="0" font-size="22" letter-spacing="1.671" fill="#1a1a1a" xml:space="preserve">I60S2.5</text>
<line x1="690.9" y1="482.5" x2="700.7" y2="482.5" stroke="#0000a0" stroke-width="1.7"/>
<line x1="730.7" y1="482.5" x2="739.9" y2="482.5" stroke="#0000a0" stroke-width="1.7"/>
<polygon points="715.4,471.3 725.97,476.9 725.97,488.1 715.4,493.7 704.83,488.1 704.83,476.9" fill="#fff" stroke="#0000a0" stroke-width="1.7"/><polygon points="725.97,482.5 725.97,488.1 715.4,493.7 704.83,488.1 704.83,482.5" fill="#0000a0" stroke="#0000a0" stroke-width="1.7" stroke-linejoin="miter"/>
<text transform="translate(745.1 489.5) scale(0.88 1)" x="-1.98" y="0" font-size="22" letter-spacing="1.843" fill="#1a1a1a" xml:space="preserve">I60S5</text>
<line x1="690.9" y1="508.6" x2="700.7" y2="508.6" stroke="#ff8000" stroke-width="1.7"/>
<line x1="730.7" y1="508.6" x2="739.9" y2="508.6" stroke="#ff8000" stroke-width="1.7"/>
<polygon points="715.4,497.4 725.97,503 725.97,514.2 715.4,519.8 704.83,514.2 704.83,503" fill="#fff" stroke="#ff8000" stroke-width="1.7"/><polygon points="715.4,497.4 715.4,497.4 715.4,519.8 715.4,519.8 704.83,514.2 704.83,503" fill="#ff8000" stroke="#ff8000" stroke-width="1.7" stroke-linejoin="miter"/>
<text transform="translate(745.1 515.6) scale(0.88 1)" x="-1.98" y="0" font-size="22" letter-spacing="1.465" fill="#1a1a1a" xml:space="preserve">I60S10</text>
</g>
<line x1="695.46" y1="534.4" x2="695.46" y2="527.6" stroke="#000" stroke-width="1.6"/>
<text x="687.07" y="564.5" font-size="27" textLength="15.02" lengthAdjust="spacingAndGlyphs" fill="#1a1a1a" xml:space="preserve">0</text>
<line x1="739.63" y1="534.4" x2="739.63" y2="527.6" stroke="#000" stroke-width="1.6"/>
<text x="723.21" y="564.5" font-size="27" textLength="30.03" lengthAdjust="spacingAndGlyphs" fill="#1a1a1a" xml:space="preserve">10</text>
<line x1="783.8" y1="534.4" x2="783.8" y2="527.6" stroke="#000" stroke-width="1.6"/>
<text x="767.71" y="564.5" font-size="27" textLength="30.03" lengthAdjust="spacingAndGlyphs" fill="#1a1a1a" xml:space="preserve">20</text>
<line x1="827.97" y1="534.4" x2="827.97" y2="527.6" stroke="#000" stroke-width="1.6"/>
<text x="812.02" y="564.5" font-size="27" textLength="30.03" lengthAdjust="spacingAndGlyphs" fill="#1a1a1a" xml:space="preserve">30</text>
<path d="M672.36 515.99h7.9M672.36 505.23h7.9M672.36 497.59h7.9M672.36 491.66h7.9M672.36 486.82h7.9M672.36 482.73h7.9M672.36 479.18h7.9M672.36 476.05h7.9M672.36 454.85h7.9M672.36 444.08h7.9M672.36 436.45h7.9M672.36 430.52h7.9M672.36 425.68h7.9M672.36 421.59h7.9M672.36 418.04h7.9M672.36 414.91h7.9M672.36 393.71h7.9M672.36 382.94h7.9M672.36 375.3h7.9M672.36 369.38h7.9M672.36 364.54h7.9M672.36 360.44h7.9M672.36 356.9h7.9M672.36 353.77h7.9M672.36 332.57h7.9M672.36 321.8h7.9M672.36 314.16h7.9M672.36 308.23h7.9M672.36 303.39h7.9M672.36 299.3h7.9M672.36 295.75h7.9M672.36 292.63h7.9M672.36 271.42h7.9M672.36 260.66h7.9M672.36 253.02h7.9M672.36 247.09h7.9M672.36 242.25h7.9M672.36 238.16h7.9M672.36 234.61h7.9M672.36 231.48h7.9M672.36 210.28h7.9M672.36 199.51h7.9M672.36 191.87h7.9M672.36 185.95h7.9M672.36 181.11h7.9M672.36 177.01h7.9M672.36 173.47h7.9M672.36 170.34h7.9M672.36 149.14h7.9M672.36 138.37h7.9M672.36 130.73h7.9M672.36 124.81h7.9M672.36 119.96h7.9M672.36 115.87h7.9M672.36 112.33h7.9M672.36 109.2h7.9" stroke="#000" stroke-width="1.7" fill="none"/>
<path d="M672.36 473.56h10M672.36 412.41h10M672.36 351.27h10M672.36 290.13h10M672.36 228.99h10M672.36 167.84h10" stroke="#000" stroke-width="2.4" fill="none"/>
<line x1="672.36" y1="106.4" x2="672.36" y2="534.4" stroke="#000" stroke-width="2.0"/>
<g>
<line x1="934.25" y1="194.8" x2="992.09" y2="196.5" stroke="#000" stroke-width="1.7"/>
<polygon points="865.58,174 883.58,174 883.58,192 865.58,192" fill="#fff" stroke="#000" stroke-width="1.7"/>
<polygon points="887.67,172 905.67,172 905.67,190 887.67,190" fill="#fff" stroke="#000" stroke-width="1.7"/>
<polygon points="909.75,185.3 927.75,185.3 927.75,203.3 909.75,203.3" fill="#fff" stroke="#000" stroke-width="1.7"/>
<polygon points="998.09,187.5 1016.09,187.5 1016.09,205.5 998.09,205.5" fill="#fff" stroke="#000" stroke-width="1.7"/>
<path d="M1007.09 187.7V176M1002.49 176H1011.69" stroke="#000" stroke-width="1.7" fill="none"/>
<line x1="914.75" y1="186.5" x2="922.75" y2="186.5" stroke="#000" stroke-width="2.2"/>
<line x1="934.25" y1="209.9" x2="992.09" y2="225.5" stroke="#008000" stroke-width="1.7"/>
<circle cx="874.58" cy="183" r="10.2" fill="#fff" stroke="#008000" stroke-width="1.7"/>
<circle cx="896.67" cy="184.7" r="10.2" fill="#fff" stroke="#008000" stroke-width="1.7"/>
<circle cx="918.75" cy="206.4" r="10.2" fill="#fff" stroke="#008000" stroke-width="1.7"/>
<circle cx="1007.09" cy="226.4" r="10.2" fill="#fff" stroke="#008000" stroke-width="1.7"/>
<path d="M918.75 196.4V193.5M914.15 193.5H923.35" stroke="#008000" stroke-width="1.7" fill="none"/>
<line x1="1003.09" y1="219" x2="1011.09" y2="219" stroke="#008000" stroke-width="2.2"/>
<line x1="934.25" y1="205.6" x2="992.09" y2="233.3" stroke="#ff0000" stroke-width="1.7"/>
<circle cx="874.58" cy="183" r="10.2" fill="#fff" stroke="#ff0000" stroke-width="1.7"/><polygon points="874.58,172.8 876.18,172.93 877.73,173.3 879.21,173.91 880.58,174.75 881.79,175.79 882.83,177 883.67,178.37 884.28,179.85 884.65,181.4 884.78,183 884.78,183 864.38,183 864.38,183 864.51,181.4 864.88,179.85 865.49,178.37 866.33,177 867.37,175.79 868.58,174.75 869.95,173.91 871.43,173.3 872.98,172.93" fill="#ff0000" stroke="#ff0000" stroke-width="1.7" stroke-linejoin="miter"/>
<circle cx="896.67" cy="176.9" r="10.2" fill="#fff" stroke="#ff0000" stroke-width="1.7"/><polygon points="896.67,166.7 898.26,166.83 899.82,167.2 901.3,167.81 902.66,168.65 903.88,169.69 904.92,170.9 905.75,172.27 906.37,173.75 906.74,175.3 906.87,176.9 906.87,176.9 886.47,176.9 886.47,176.9 886.59,175.3 886.96,173.75 887.58,172.27 888.41,170.9 889.45,169.69 890.67,168.65 892.03,167.81 893.51,167.2 895.07,166.83" fill="#ff0000" stroke="#ff0000" stroke-width="1.7" stroke-linejoin="miter"/>
<circle cx="918.75" cy="200.3" r="10.2" fill="#fff" stroke="#ff0000" stroke-width="1.7"/><polygon points="918.75,190.1 920.35,190.23 921.9,190.6 923.38,191.21 924.75,192.05 925.96,193.09 927,194.3 927.84,195.67 928.45,197.15 928.82,198.7 928.95,200.3 928.95,200.3 908.55,200.3 908.55,200.3 908.68,198.7 909.05,197.15 909.66,195.67 910.5,194.3 911.54,193.09 912.75,192.05 914.12,191.21 915.6,190.6 917.15,190.23" fill="#ff0000" stroke="#ff0000" stroke-width="1.7" stroke-linejoin="miter"/>
<circle cx="1007.09" cy="240.3" r="10.2" fill="#fff" stroke="#ff0000" stroke-width="1.7"/><polygon points="1007.09,230.1 1008.69,230.23 1010.24,230.6 1011.72,231.21 1013.09,232.05 1014.3,233.09 1015.34,234.3 1016.18,235.67 1016.79,237.15 1017.16,238.7 1017.29,240.3 1017.29,240.3 996.89,240.3 996.89,240.3 997.02,238.7 997.39,237.15 998,235.67 998.84,234.3 999.88,233.09 1001.09,232.05 1002.46,231.21 1003.94,230.6 1005.49,230.23" fill="#ff0000" stroke="#ff0000" stroke-width="1.7" stroke-linejoin="miter"/>
<path d="M1007.09 230.3V225.5M1002.49 225.5H1011.69" stroke="#ff0000" stroke-width="1.7" fill="none"/>
<line x1="934.25" y1="244.6" x2="992.09" y2="266" stroke="#0000a0" stroke-width="1.7"/>
<line x1="905.08" y1="214.2" x2="912.88" y2="223.8" stroke="#0000a0" stroke-width="1.7"/>
<circle cx="874.58" cy="183" r="10.2" fill="#fff" stroke="#0000a0" stroke-width="1.7"/><polygon points="884.78,183 884.78,183 884.65,184.6 884.28,186.15 883.67,187.63 882.83,189 881.79,190.21 880.58,191.25 879.21,192.09 877.73,192.7 876.18,193.07 874.58,193.2 872.98,193.07 871.43,192.7 869.95,192.09 868.58,191.25 867.37,190.21 866.33,189 865.49,187.63 864.88,186.15 864.51,184.6 864.38,183 864.38,183" fill="#0000a0" stroke="#0000a0" stroke-width="1.7" stroke-linejoin="miter"/>
<circle cx="896.67" cy="196.9" r="10.2" fill="#fff" stroke="#0000a0" stroke-width="1.7"/><polygon points="906.87,196.9 906.87,196.9 906.74,198.5 906.37,200.05 905.75,201.53 904.92,202.9 903.88,204.11 902.66,205.15 901.3,205.99 899.82,206.6 898.26,206.97 896.67,207.1 895.07,206.97 893.51,206.6 892.03,205.99 890.67,205.15 889.45,204.11 888.41,202.9 887.58,201.53 886.96,200.05 886.59,198.5 886.47,196.9 886.47,196.9" fill="#0000a0" stroke="#0000a0" stroke-width="1.7" stroke-linejoin="miter"/>
<circle cx="918.75" cy="237.7" r="10.2" fill="#fff" stroke="#0000a0" stroke-width="1.7"/><polygon points="928.95,237.7 928.95,237.7 928.82,239.3 928.45,240.85 927.84,242.33 927,243.7 925.96,244.91 924.75,245.95 923.38,246.79 921.9,247.4 920.35,247.77 918.75,247.9 917.15,247.77 915.6,247.4 914.12,246.79 912.75,245.95 911.54,244.91 910.5,243.7 909.66,242.33 909.05,240.85 908.68,239.3 908.55,237.7 908.55,237.7" fill="#0000a0" stroke="#0000a0" stroke-width="1.7" stroke-linejoin="miter"/>
<circle cx="1007.09" cy="271" r="10.2" fill="#fff" stroke="#0000a0" stroke-width="1.7"/><polygon points="1017.29,271 1017.29,271 1017.16,272.6 1016.79,274.15 1016.18,275.63 1015.34,277 1014.3,278.21 1013.09,279.25 1011.72,280.09 1010.24,280.7 1008.69,281.07 1007.09,281.2 1005.49,281.07 1003.94,280.7 1002.46,280.09 1001.09,279.25 999.88,278.21 998.84,277 998,275.63 997.39,274.15 997.02,272.6 996.89,271 996.89,271" fill="#0000a0" stroke="#0000a0" stroke-width="1.7" stroke-linejoin="miter"/>
<path d="M896.67 186.9V176M892.07 176H901.27" stroke="#0000a0" stroke-width="1.7" fill="none"/>
<line x1="1003.09" y1="260" x2="1011.09" y2="260" stroke="#0000a0" stroke-width="2.2"/>
<line x1="934.25" y1="263.7" x2="992.09" y2="288.9" stroke="#ff8000" stroke-width="1.7"/>
<line x1="904.18" y1="233.3" x2="908.58" y2="238.5" stroke="#ff8000" stroke-width="1.7"/>
<circle cx="874.58" cy="183" r="10.2" fill="#fff" stroke="#ff8000" stroke-width="1.7"/><polygon points="874.58,172.8 874.58,172.8 874.58,193.2 874.58,193.2 872.98,193.07 871.43,192.7 869.95,192.09 868.58,191.25 867.37,190.21 866.33,189 865.49,187.63 864.88,186.15 864.51,184.6 864.38,183 864.51,181.4 864.88,179.85 865.49,178.37 866.33,177 867.37,175.79 868.58,174.75 869.95,173.91 871.43,173.3 872.98,172.93" fill="#ff8000" stroke="#ff8000" stroke-width="1.7" stroke-linejoin="miter"/>
<circle cx="896.67" cy="219.4" r="10.2" fill="#fff" stroke="#ff8000" stroke-width="1.7"/><polygon points="896.67,209.2 896.67,209.2 896.67,229.6 896.67,229.6 895.07,229.47 893.51,229.1 892.03,228.49 890.67,227.65 889.45,226.61 888.41,225.4 887.58,224.03 886.96,222.55 886.59,221 886.47,219.4 886.59,217.8 886.96,216.25 887.58,214.77 888.41,213.4 889.45,212.19 890.67,211.15 892.03,210.31 893.51,209.7 895.07,209.33" fill="#ff8000" stroke="#ff8000" stroke-width="1.7" stroke-linejoin="miter"/>
<circle cx="918.75" cy="257.6" r="10.2" fill="#fff" stroke="#ff8000" stroke-width="1.7"/><polygon points="918.75,247.4 918.75,247.4 918.75,267.8 918.75,267.8 917.15,267.67 915.6,267.3 914.12,266.69 912.75,265.85 911.54,264.81 910.5,263.6 909.66,262.23 909.05,260.75 908.68,259.2 908.55,257.6 908.68,256 909.05,254.45 909.66,252.97 910.5,251.6 911.54,250.39 912.75,249.35 914.12,248.51 915.6,247.9 917.15,247.53" fill="#ff8000" stroke="#ff8000" stroke-width="1.7" stroke-linejoin="miter"/>
<circle cx="1007.09" cy="295.8" r="10.2" fill="#fff" stroke="#ff8000" stroke-width="1.7"/><polygon points="1007.09,285.6 1007.09,285.6 1007.09,306 1007.09,306 1005.49,305.87 1003.94,305.5 1002.46,304.89 1001.09,304.05 999.88,303.01 998.84,301.8 998,300.43 997.39,298.95 997.02,297.4 996.89,295.8 997.02,294.2 997.39,292.65 998,291.17 998.84,289.8 999.88,288.59 1001.09,287.55 1002.46,286.71 1003.94,286.1 1005.49,285.73" fill="#ff8000" stroke="#ff8000" stroke-width="1.7" stroke-linejoin="miter"/>
<line x1="870.58" y1="172" x2="878.58" y2="172" stroke="#ff8000" stroke-width="2.2"/>
<path d="M896.67 209.4V200.3M892.07 200.3H901.27" stroke="#ff8000" stroke-width="1.7" fill="none"/>
<path d="M918.75 247.6V243.75M914.15 243.75H923.35" stroke="#ff8000" stroke-width="1.7" fill="none"/>
<path d="M1007.09 285.8V279.3M1002.49 279.3H1011.69" stroke="#ff8000" stroke-width="1.7" fill="none"/>
<line x1="875.4" y1="405.3" x2="886.1" y2="405.3" stroke="#000" stroke-width="1.7"/>
<line x1="914.6" y1="405.3" x2="923.8" y2="405.3" stroke="#000" stroke-width="1.7"/>
<polygon points="890.9,396.3 908.9,396.3 908.9,414.3 890.9,414.3" fill="#fff" stroke="#000" stroke-width="1.7"/>
<text transform="translate(929 412.3) scale(0.88 1)" x="-1.76" y="0" font-size="22" letter-spacing="1.545" fill="#1a1a1a" xml:space="preserve">DI water</text>
<line x1="875.4" y1="431" x2="886.1" y2="431" stroke="#008000" stroke-width="1.7"/>
<line x1="914.6" y1="431" x2="923.8" y2="431" stroke="#008000" stroke-width="1.7"/>
<circle cx="899.9" cy="431" r="10.2" fill="#fff" stroke="#008000" stroke-width="1.7"/>
<text transform="translate(929 438) scale(0.88 1)" x="-1.98" y="0" font-size="22" letter-spacing="2.901" fill="#1a1a1a" xml:space="preserve">I70</text>
<line x1="875.4" y1="457.4" x2="886.1" y2="457.4" stroke="#ff0000" stroke-width="1.7"/>
<line x1="914.6" y1="457.4" x2="923.8" y2="457.4" stroke="#ff0000" stroke-width="1.7"/>
<circle cx="899.9" cy="457.4" r="10.2" fill="#fff" stroke="#ff0000" stroke-width="1.7"/><polygon points="899.9,447.2 901.5,447.33 903.05,447.7 904.53,448.31 905.9,449.15 907.11,450.19 908.15,451.4 908.99,452.77 909.6,454.25 909.97,455.8 910.1,457.4 910.1,457.4 889.7,457.4 889.7,457.4 889.83,455.8 890.2,454.25 890.81,452.77 891.65,451.4 892.69,450.19 893.9,449.15 895.27,448.31 896.75,447.7 898.3,447.33" fill="#ff0000" stroke="#ff0000" stroke-width="1.7" stroke-linejoin="miter"/>
<text transform="translate(929 464.4) scale(0.88 1)" x="-1.98" y="0" font-size="22" letter-spacing="1.870" fill="#1a1a1a" xml:space="preserve">I70S1</text>
<line x1="875.4" y1="484" x2="886.1" y2="484" stroke="#0000a0" stroke-width="1.7"/>
<line x1="914.6" y1="484" x2="923.8" y2="484" stroke="#0000a0" stroke-width="1.7"/>
<circle cx="899.9" cy="484" r="10.2" fill="#fff" stroke="#0000a0" stroke-width="1.7"/><polygon points="910.1,484 910.1,484 909.97,485.6 909.6,487.15 908.99,488.63 908.15,490 907.11,491.21 905.9,492.25 904.53,493.09 903.05,493.7 901.5,494.07 899.9,494.2 898.3,494.07 896.75,493.7 895.27,493.09 893.9,492.25 892.69,491.21 891.65,490 890.81,488.63 890.2,487.15 889.83,485.6 889.7,484 889.7,484" fill="#0000a0" stroke="#0000a0" stroke-width="1.7" stroke-linejoin="miter"/>
<text transform="translate(929 491) scale(0.88 1)" x="-1.98" y="0" font-size="22" letter-spacing="1.671" fill="#1a1a1a" xml:space="preserve">I70S2.5</text>
<line x1="875.4" y1="509.5" x2="886.1" y2="509.5" stroke="#ff8000" stroke-width="1.7"/>
<line x1="914.6" y1="509.5" x2="923.8" y2="509.5" stroke="#ff8000" stroke-width="1.7"/>
<circle cx="899.9" cy="509.5" r="10.2" fill="#fff" stroke="#ff8000" stroke-width="1.7"/><polygon points="899.9,499.3 899.9,499.3 899.9,519.7 899.9,519.7 898.3,519.57 896.75,519.2 895.27,518.59 893.9,517.75 892.69,516.71 891.65,515.5 890.81,514.13 890.2,512.65 889.83,511.1 889.7,509.5 889.83,507.9 890.2,506.35 890.81,504.87 891.65,503.5 892.69,502.29 893.9,501.25 895.27,500.41 896.75,499.8 898.3,499.43" fill="#ff8000" stroke="#ff8000" stroke-width="1.7" stroke-linejoin="miter"/>
<text transform="translate(929 516.5) scale(0.88 1)" x="-1.98" y="0" font-size="22" letter-spacing="1.843" fill="#1a1a1a" xml:space="preserve">I70S5</text>
</g>
<line x1="874.58" y1="534.4" x2="874.58" y2="527.6" stroke="#000" stroke-width="1.6"/>
<text x="866.19" y="564.5" font-size="27" textLength="15.02" lengthAdjust="spacingAndGlyphs" fill="#1a1a1a" xml:space="preserve">0</text>
<line x1="918.75" y1="534.4" x2="918.75" y2="527.6" stroke="#000" stroke-width="1.6"/>
<text x="902.33" y="564.5" font-size="27" textLength="30.03" lengthAdjust="spacingAndGlyphs" fill="#1a1a1a" xml:space="preserve">10</text>
<line x1="962.92" y1="534.4" x2="962.92" y2="527.6" stroke="#000" stroke-width="1.6"/>
<text x="946.83" y="564.5" font-size="27" textLength="30.03" lengthAdjust="spacingAndGlyphs" fill="#1a1a1a" xml:space="preserve">20</text>
<line x1="1007.09" y1="534.4" x2="1007.09" y2="527.6" stroke="#000" stroke-width="1.6"/>
<text x="991.14" y="564.5" font-size="27" textLength="30.03" lengthAdjust="spacingAndGlyphs" fill="#1a1a1a" xml:space="preserve">30</text>
<path d="M851.48 515.99h7.9M851.48 505.23h7.9M851.48 497.59h7.9M851.48 491.66h7.9M851.48 486.82h7.9M851.48 482.73h7.9M851.48 479.18h7.9M851.48 476.05h7.9M851.48 454.85h7.9M851.48 444.08h7.9M851.48 436.45h7.9M851.48 430.52h7.9M851.48 425.68h7.9M851.48 421.59h7.9M851.48 418.04h7.9M851.48 414.91h7.9M851.48 393.71h7.9M851.48 382.94h7.9M851.48 375.3h7.9M851.48 369.38h7.9M851.48 364.54h7.9M851.48 360.44h7.9M851.48 356.9h7.9M851.48 353.77h7.9M851.48 332.57h7.9M851.48 321.8h7.9M851.48 314.16h7.9M851.48 308.23h7.9M851.48 303.39h7.9M851.48 299.3h7.9M851.48 295.75h7.9M851.48 292.63h7.9M851.48 271.42h7.9M851.48 260.66h7.9M851.48 253.02h7.9M851.48 247.09h7.9M851.48 242.25h7.9M851.48 238.16h7.9M851.48 234.61h7.9M851.48 231.48h7.9M851.48 210.28h7.9M851.48 199.51h7.9M851.48 191.87h7.9M851.48 185.95h7.9M851.48 181.11h7.9M851.48 177.01h7.9M851.48 173.47h7.9M851.48 170.34h7.9M851.48 149.14h7.9M851.48 138.37h7.9M851.48 130.73h7.9M851.48 124.81h7.9M851.48 119.96h7.9M851.48 115.87h7.9M851.48 112.33h7.9M851.48 109.2h7.9" stroke="#000" stroke-width="1.7" fill="none"/>
<path d="M851.48 473.56h10M851.48 412.41h10M851.48 351.27h10M851.48 290.13h10M851.48 228.99h10M851.48 167.84h10" stroke="#000" stroke-width="2.4" fill="none"/>
<line x1="851.48" y1="106.4" x2="851.48" y2="534.4" stroke="#000" stroke-width="3.2"/>
<rect x="135" y="106.4" width="895.6" height="428" fill="none" stroke="#000" stroke-width="1.9"/>
<text x="1054.02" y="543.1" font-size="26.4" fill="#1a1a1a" xml:space="preserve">10<tspan x="1083.97" y="532.2" font-size="19">0</tspan></text>
<text x="1054.02" y="481.96" font-size="26.4" fill="#1a1a1a" xml:space="preserve">10<tspan x="1083.09" y="471.06" font-size="19">1</tspan></text>
<text x="1054.02" y="420.81" font-size="26.4" fill="#1a1a1a" xml:space="preserve">10<tspan x="1083.72" y="409.91" font-size="19">2</tspan></text>
<text x="1054.02" y="359.67" font-size="26.4" fill="#1a1a1a" xml:space="preserve">10<tspan x="1083.97" y="348.77" font-size="19">3</tspan></text>
<text x="1054.02" y="298.53" font-size="26.4" fill="#1a1a1a" xml:space="preserve">10<tspan x="1084.31" y="287.63" font-size="19">4</tspan></text>
<text x="1054.02" y="237.39" font-size="26.4" fill="#1a1a1a" xml:space="preserve">10<tspan x="1083.97" y="226.49" font-size="19">5</tspan></text>
<text x="1054.02" y="176.24" font-size="26.4" fill="#1a1a1a" xml:space="preserve">10<tspan x="1083.73" y="165.34" font-size="19">6</tspan></text>
<text x="1054.02" y="115.1" font-size="26.4" fill="#1a1a1a" xml:space="preserve">10<tspan x="1083.72" y="104.2" font-size="19">7</tspan></text>
<g>
<line x1="1187.57" y1="184.8" x2="1248.11" y2="197.7" stroke="#000" stroke-width="1.7"/><line x1="1187.57" y1="194.6" x2="1248.11" y2="197.7" stroke="#000" stroke-width="1.7"/><line x1="1187.57" y1="208.1" x2="1248.11" y2="212.2" stroke="#000" stroke-width="1.7"/><line x1="1187.57" y1="211.8" x2="1248.11" y2="219.1" stroke="#000" stroke-width="1.7"/><line x1="1187.57" y1="217.9" x2="1248.11" y2="233" stroke="#000" stroke-width="1.7"/><line x1="1187.57" y1="227.1" x2="1248.11" y2="239.1" stroke="#000" stroke-width="1.7"/><path d="M1128.3 175V171.8M1123.7 171.8H1132.9" stroke="#000" stroke-width="1.7" fill="none"/><rect x="1118.6" y="174.5" width="19.4" height="18.9" fill="#000"/><rect x="1129.8" y="176.4" width="6.4" height="15.2" fill="#fff"/><rect x="1140.49" y="159.4" width="20.4" height="56.9" fill="#000"/><rect x="1142.19" y="161.2" width="7.6" height="7.8" fill="#fff"/><rect x="1142.19" y="170.8" width="7.6" height="3.7" fill="#fff"/><rect x="1151.59" y="161.2" width="7.6" height="7.8" fill="#fff"/><rect x="1151.59" y="170.8" width="7.6" height="3.7" fill="#fff"/><polygon points="1142.19,186.5 1145.19,186.5 1148.89,189 1148.89,191.3 1145.19,193.8 1142.19,193.8" fill="#fff"/><polygon points="1159.19,186.5 1156.19,186.5 1152.49,189 1152.49,191.3 1156.19,193.8 1159.19,193.8" fill="#fff"/><rect x="1151.59" y="198" width="7.6" height="16.6" fill="#fff"/><path d="M1173.07 174V171.8M1169.37 171.8H1176.77" stroke="#000" stroke-width="2" fill="none"/><rect x="1162.77" y="173.1" width="20.6" height="60.7" fill="#000"/><rect x="1164.57" y="175" width="7.4" height="7.3" fill="#fff"/><rect x="1164.57" y="186.5" width="7.4" height="3.2" fill="#fff"/><rect x="1164.57" y="192" width="7.4" height="3.7" fill="#fff"/><rect x="1173.77" y="175" width="7.8" height="7.3" fill="#fff"/><rect x="1173.77" y="186.5" width="7.8" height="3.2" fill="#fff"/><rect x="1173.77" y="192" width="7.8" height="3.7" fill="#fff"/><path d="M1171.07 188.1 Q1173.07 192 1175.07 188.1" stroke="#000" stroke-width="3" fill="none"/><rect x="1164.57" y="205.8" width="6.9" height="9.2" fill="#fff"/><rect x="1168.27" y="209" width="3.2" height="2.8" fill="#000"/><rect x="1173.77" y="217.3" width="7.8" height="14.7" fill="#fff"/><path d="M1262.61 188V175.6M1257.71 175.6H1267.51" stroke="#000" stroke-width="1.7" fill="none"/><rect x="1252.41" y="186.7" width="20.5" height="64.3" fill="#000"/><rect x="1254.31" y="188.5" width="16.7" height="2.5" fill="#fff"/><rect x="1261.71" y="186.7" width="1.8" height="4.3" fill="#000"/><rect x="1254.31" y="194" width="6.9" height="7.4" fill="#fff"/><rect x="1263.71" y="194" width="7.3" height="7.4" fill="#fff"/><rect x="1258.61" y="196.8" width="2.6" height="1.5" fill="#000"/><rect x="1263.71" y="196.8" width="2.9" height="1.5" fill="#000"/><rect x="1254.31" y="215.5" width="16.7" height="6.7" fill="#fff"/><rect x="1254.31" y="224.3" width="2.8" height="1.7" fill="#fff"/><rect x="1268.11" y="224.3" width="2.9" height="1.7" fill="#fff"/><rect x="1254.31" y="228.3" width="6.9" height="3.7" fill="#fff"/><rect x="1263.71" y="234.5" width="7.3" height="14.7" fill="#fff"/>
<line x1="1128.2" y1="380.7" x2="1138" y2="380.7" stroke="#000" stroke-width="1.7"/>
<line x1="1168" y1="380.7" x2="1176.3" y2="380.7" stroke="#000" stroke-width="1.7"/>
<polygon points="1143.7,371.7 1161.7,371.7 1161.7,389.7 1143.7,389.7" fill="#fff" stroke="#000" stroke-width="1.7"/>
<text transform="translate(1181.5 387.7) scale(0.88 1)" x="-1.76" y="0" font-size="22" letter-spacing="1.594" fill="#1a1a1a" xml:space="preserve">DI water</text>
<line x1="1128.2" y1="405.9" x2="1138" y2="405.9" stroke="#000" stroke-width="1.7"/>
<line x1="1168" y1="405.9" x2="1176.3" y2="405.9" stroke="#000" stroke-width="1.7"/>
<polygon points="1143.7,396.9 1161.7,396.9 1161.7,414.9 1143.7,414.9" fill="#fff" stroke="#000" stroke-width="1.7"/><path d="M1152.7 396.9V414.9M1143.7 405.9H1161.7" stroke="#000" stroke-width="1.7" fill="none"/>
<text transform="translate(1181.5 412.9) scale(0.88 1)" x="-0.99" y="0" font-size="22" letter-spacing="2.413" fill="#1a1a1a" xml:space="preserve">S1</text>
<line x1="1128.2" y1="432.5" x2="1138" y2="432.5" stroke="#000" stroke-width="1.7"/>
<line x1="1168" y1="432.5" x2="1176.3" y2="432.5" stroke="#000" stroke-width="1.7"/>
<polygon points="1143.7,423.5 1161.7,423.5 1161.7,441.5 1143.7,441.5" fill="#fff" stroke="#000" stroke-width="1.7"/><path d="M1143.7 423.5L1161.7 441.5M1161.7 423.5L1143.7 441.5" stroke="#000" stroke-width="1.7" fill="none"/>
<text transform="translate(1181.5 439.5) scale(0.88 1)" x="-0.99" y="0" font-size="22" letter-spacing="1.462" fill="#1a1a1a" xml:space="preserve">S2.5</text>
<line x1="1128.2" y1="458.9" x2="1138" y2="458.9" stroke="#000" stroke-width="1.7"/>
<line x1="1168" y1="458.9" x2="1176.3" y2="458.9" stroke="#000" stroke-width="1.7"/>
<polygon points="1143.7,449.9 1161.7,449.9 1161.7,467.9 1143.7,467.9" fill="#fff" stroke="#000" stroke-width="1.7"/><polygon points="1143.7,449.9 1161.7,449.9 1161.7,458.9 1143.7,458.9" fill="#000" stroke="#000" stroke-width="1.7" stroke-linejoin="miter"/>
<text transform="translate(1181.5 465.9) scale(0.88 1)" x="-0.99" y="0" font-size="22" letter-spacing="2.871" fill="#1a1a1a" xml:space="preserve">S5</text>
<line x1="1128.2" y1="484.6" x2="1138" y2="484.6" stroke="#000" stroke-width="1.7"/>
<line x1="1168" y1="484.6" x2="1176.3" y2="484.6" stroke="#000" stroke-width="1.7"/>
<polygon points="1143.7,475.6 1161.7,475.6 1161.7,493.6 1143.7,493.6" fill="#fff" stroke="#000" stroke-width="1.7"/><polygon points="1152.7,475.6 1161.7,475.6 1161.7,493.6 1152.7,493.6" fill="#000" stroke="#000" stroke-width="1.7" stroke-linejoin="miter"/>
<text transform="translate(1181.5 491.6) scale(0.88 1)" x="-0.99" y="0" font-size="22" letter-spacing="1.241" fill="#1a1a1a" xml:space="preserve">S10</text>
<line x1="1128.2" y1="511" x2="1138" y2="511" stroke="#000" stroke-width="1.7"/>
<line x1="1168" y1="511" x2="1176.3" y2="511" stroke="#000" stroke-width="1.7"/>
<polygon points="1143.7,502 1161.7,502 1161.7,520 1143.7,520" fill="#fff" stroke="#000" stroke-width="1.7"/><polygon points="1143.7,502 1152.7,502 1152.7,520 1143.7,520" fill="#000" stroke="#000" stroke-width="1.7" stroke-linejoin="miter"/>
<text transform="translate(1181.5 518) scale(0.88 1)" x="-0.99" y="0" font-size="22" letter-spacing="1.241" fill="#1a1a1a" xml:space="preserve">S15</text>
</g>
<line x1="1128.3" y1="534.4" x2="1128.3" y2="527.6" stroke="#000" stroke-width="1.6"/>
<text x="1119.91" y="564.5" font-size="27" textLength="15.02" lengthAdjust="spacingAndGlyphs" fill="#1a1a1a" xml:space="preserve">0</text>
<line x1="1173.07" y1="534.4" x2="1173.07" y2="527.6" stroke="#000" stroke-width="1.6"/>
<text x="1156.64" y="564.5" font-size="27" textLength="30.03" lengthAdjust="spacingAndGlyphs" fill="#1a1a1a" xml:space="preserve">10</text>
<line x1="1217.84" y1="534.4" x2="1217.84" y2="527.6" stroke="#000" stroke-width="1.6"/>
<text x="1201.75" y="564.5" font-size="27" textLength="30.03" lengthAdjust="spacingAndGlyphs" fill="#1a1a1a" xml:space="preserve">20</text>
<line x1="1262.61" y1="534.4" x2="1262.61" y2="527.6" stroke="#000" stroke-width="1.6"/>
<text x="1246.66" y="564.5" font-size="27" textLength="30.03" lengthAdjust="spacingAndGlyphs" fill="#1a1a1a" xml:space="preserve">30</text>
<path d="M1105.4 515.99h7.9M1105.4 505.23h7.9M1105.4 497.59h7.9M1105.4 491.66h7.9M1105.4 486.82h7.9M1105.4 482.73h7.9M1105.4 479.18h7.9M1105.4 476.05h7.9M1105.4 454.85h7.9M1105.4 444.08h7.9M1105.4 436.45h7.9M1105.4 430.52h7.9M1105.4 425.68h7.9M1105.4 421.59h7.9M1105.4 418.04h7.9M1105.4 414.91h7.9M1105.4 393.71h7.9M1105.4 382.94h7.9M1105.4 375.3h7.9M1105.4 369.38h7.9M1105.4 364.54h7.9M1105.4 360.44h7.9M1105.4 356.9h7.9M1105.4 353.77h7.9M1105.4 332.57h7.9M1105.4 321.8h7.9M1105.4 314.16h7.9M1105.4 308.23h7.9M1105.4 303.39h7.9M1105.4 299.3h7.9M1105.4 295.75h7.9M1105.4 292.63h7.9M1105.4 271.42h7.9M1105.4 260.66h7.9M1105.4 253.02h7.9M1105.4 247.09h7.9M1105.4 242.25h7.9M1105.4 238.16h7.9M1105.4 234.61h7.9M1105.4 231.48h7.9M1105.4 210.28h7.9M1105.4 199.51h7.9M1105.4 191.87h7.9M1105.4 185.95h7.9M1105.4 181.11h7.9M1105.4 177.01h7.9M1105.4 173.47h7.9M1105.4 170.34h7.9M1105.4 149.14h7.9M1105.4 138.37h7.9M1105.4 130.73h7.9M1105.4 124.81h7.9M1105.4 119.96h7.9M1105.4 115.87h7.9M1105.4 112.33h7.9M1105.4 109.2h7.9" stroke="#000" stroke-width="1.7" fill="none"/>
<path d="M1105.4 473.56h10M1105.4 412.41h10M1105.4 351.27h10M1105.4 290.13h10M1105.4 228.99h10M1105.4 167.84h10" stroke="#000" stroke-width="2.4" fill="none"/>
<g>
<line x1="1367.01" y1="194.1" x2="1426.05" y2="196.6" stroke="#000" stroke-width="1.7"/>
<polygon points="1297.74,175 1315.74,175 1315.74,193 1297.74,193" fill="#fff" stroke="#000" stroke-width="1.7"/>
<polygon points="1320.13,180 1338.13,180 1338.13,198 1320.13,198" fill="#fff" stroke="#000" stroke-width="1.7"/>
<polygon points="1342.51,186 1360.51,186 1360.51,204 1342.51,204" fill="#fff" stroke="#000" stroke-width="1.7"/>
<polygon points="1432.05,187.8 1450.05,187.8 1450.05,205.8 1432.05,205.8" fill="#fff" stroke="#000" stroke-width="1.7"/>
<path d="M1441.05 188V175.7M1436.45 175.7H1445.65" stroke="#000" stroke-width="1.7" fill="none"/>
<line x1="1347.51" y1="187" x2="1355.51" y2="187" stroke="#000" stroke-width="2.2"/>
<line x1="1367.01" y1="193.5" x2="1426.05" y2="206.6" stroke="#008000" stroke-width="1.7"/>
<polygon points="1306.74,171.2 1317.96,179.35 1313.68,192.55 1299.8,192.55 1295.52,179.35" fill="#fff" stroke="#008000" stroke-width="1.7"/>
<polygon points="1329.13,169.5 1340.35,177.65 1336.06,190.85 1322.19,190.85 1317.9,177.65" fill="#fff" stroke="#008000" stroke-width="1.7"/>
<polygon points="1351.51,177.2 1362.73,185.35 1358.45,198.55 1344.57,198.55 1340.29,185.35" fill="#fff" stroke="#008000" stroke-width="1.7"/>
<polygon points="1441.05,199.2 1452.27,207.35 1447.99,220.55 1434.11,220.55 1429.83,207.35" fill="#fff" stroke="#008000" stroke-width="1.7"/>
<path d="M1329.13 169.7V168.4M1324.53 168.4H1333.73" stroke="#008000" stroke-width="1.7" fill="none"/>
<path d="M1351.51 177.4V172M1346.91 172H1356.11" stroke="#008000" stroke-width="1.7" fill="none"/>
<line x1="1367.01" y1="208.8" x2="1426.05" y2="218" stroke="#ff0000" stroke-width="1.7"/>
<polygon points="1306.74,171.2 1317.96,179.35 1313.68,192.55 1299.8,192.55 1295.52,179.35" fill="#fff" stroke="#ff0000" stroke-width="1.7"/><polygon points="1306.74,171.2 1317.96,179.35 1316.78,183 1296.7,183 1295.52,179.35" fill="#ff0000" stroke="#ff0000" stroke-width="1.7" stroke-linejoin="miter"/>
<polygon points="1329.13,172.7 1340.35,180.85 1336.06,194.05 1322.19,194.05 1317.9,180.85" fill="#fff" stroke="#ff0000" stroke-width="1.7"/><polygon points="1329.13,172.7 1340.35,180.85 1339.16,184.5 1319.09,184.5 1317.9,180.85" fill="#ff0000" stroke="#ff0000" stroke-width="1.7" stroke-linejoin="miter"/>
<polygon points="1351.51,187.2 1362.73,195.35 1358.45,208.55 1344.57,208.55 1340.29,195.35" fill="#fff" stroke="#ff0000" stroke-width="1.7"/><polygon points="1351.51,187.2 1362.73,195.35 1361.55,199 1341.47,199 1340.29,195.35" fill="#ff0000" stroke="#ff0000" stroke-width="1.7" stroke-linejoin="miter"/>
<polygon points="1441.05,208.8 1452.27,216.95 1447.99,230.15 1434.11,230.15 1429.83,216.95" fill="#fff" stroke="#ff0000" stroke-width="1.7"/><polygon points="1441.05,208.8 1452.27,216.95 1451.09,220.6 1431.01,220.6 1429.83,216.95" fill="#ff0000" stroke="#ff0000" stroke-width="1.7" stroke-linejoin="miter"/>
<line x1="1325.13" y1="181.5" x2="1333.13" y2="181.5" stroke="#ff0000" stroke-width="2.2"/>
<line x1="1347.51" y1="193" x2="1355.51" y2="193" stroke="#ff0000" stroke-width="2.2"/>
<line x1="1367.01" y1="213.7" x2="1426.05" y2="226" stroke="#0000a0" stroke-width="1.7"/>
<polygon points="1306.74,171.2 1317.96,179.35 1313.68,192.55 1299.8,192.55 1295.52,179.35" fill="#fff" stroke="#0000a0" stroke-width="1.7"/><polygon points="1316.78,183 1313.68,192.55 1299.8,192.55 1296.7,183" fill="#0000a0" stroke="#0000a0" stroke-width="1.7" stroke-linejoin="miter"/>
<polygon points="1329.13,193.9 1340.35,202.05 1336.06,215.25 1322.19,215.25 1317.9,202.05" fill="#fff" stroke="#0000a0" stroke-width="1.7"/><polygon points="1339.16,205.7 1336.06,215.25 1322.19,215.25 1319.09,205.7" fill="#0000a0" stroke="#0000a0" stroke-width="1.7" stroke-linejoin="miter"/>
<polygon points="1351.51,198.2 1362.73,206.35 1358.45,219.55 1344.57,219.55 1340.29,206.35" fill="#fff" stroke="#0000a0" stroke-width="1.7"/><polygon points="1361.55,210 1358.45,219.55 1344.57,219.55 1341.47,210" fill="#0000a0" stroke="#0000a0" stroke-width="1.7" stroke-linejoin="miter"/>
<polygon points="1441.05,217.2 1452.27,225.35 1447.99,238.55 1434.11,238.55 1429.83,225.35" fill="#fff" stroke="#0000a0" stroke-width="1.7"/><polygon points="1451.09,229 1447.99,238.55 1434.11,238.55 1431.01,229" fill="#0000a0" stroke="#0000a0" stroke-width="1.7" stroke-linejoin="miter"/>
<path d="M1329.13 194.1V193M1324.53 193H1333.73" stroke="#0000a0" stroke-width="1.7" fill="none"/>
<line x1="1347.51" y1="199" x2="1355.51" y2="199" stroke="#0000a0" stroke-width="2.2"/>
<line x1="1367.01" y1="204" x2="1426.05" y2="221" stroke="#ff8000" stroke-width="1.7"/>
<polygon points="1306.74,170.7 1317.96,178.85 1313.68,192.05 1299.8,192.05 1295.52,178.85" fill="#fff" stroke="#ff8000" stroke-width="1.7"/><polygon points="1306.74,170.7 1306.74,170.7 1306.74,192.05 1299.8,192.05 1295.52,178.85" fill="#ff8000" stroke="#ff8000" stroke-width="1.7" stroke-linejoin="miter"/>
<polygon points="1329.13,187.6 1340.35,195.75 1336.06,208.95 1322.19,208.95 1317.9,195.75" fill="#fff" stroke="#ff8000" stroke-width="1.7"/><polygon points="1329.13,187.6 1329.13,187.6 1329.13,208.95 1322.19,208.95 1317.9,195.75" fill="#ff8000" stroke="#ff8000" stroke-width="1.7" stroke-linejoin="miter"/>
<polygon points="1351.51,188.8 1362.73,196.95 1358.45,210.15 1344.57,210.15 1340.29,196.95" fill="#fff" stroke="#ff8000" stroke-width="1.7"/><polygon points="1351.51,188.8 1351.51,188.8 1351.51,210.15 1344.57,210.15 1340.29,196.95" fill="#ff8000" stroke="#ff8000" stroke-width="1.7" stroke-linejoin="miter"/>
<polygon points="1441.05,211.7 1452.27,219.85 1447.99,233.05 1434.11,233.05 1429.83,219.85" fill="#fff" stroke="#ff8000" stroke-width="1.7"/><polygon points="1441.05,211.7 1441.05,211.7 1441.05,233.05 1434.11,233.05 1429.83,219.85" fill="#ff8000" stroke="#ff8000" stroke-width="1.7" stroke-linejoin="miter"/>
<line x1="1302.74" y1="171.5" x2="1310.74" y2="171.5" stroke="#ff8000" stroke-width="2.2"/>
<path d="M1351.51 189V179M1346.91 179H1356.11" stroke="#ff8000" stroke-width="1.7" fill="none"/>
<line x1="1306.5" y1="408" x2="1315.7" y2="408" stroke="#000" stroke-width="1.7"/>
<line x1="1346.4" y1="408" x2="1355" y2="408" stroke="#000" stroke-width="1.7"/>
<polygon points="1321.4,399 1339.4,399 1339.4,417 1321.4,417" fill="#fff" stroke="#000" stroke-width="1.7"/>
<text transform="translate(1360.2 415) scale(0.88 1)" x="-1.76" y="0" font-size="22" letter-spacing="1.529" fill="#1a1a1a" xml:space="preserve">DI water</text>
<line x1="1306.5" y1="434.4" x2="1315.7" y2="434.4" stroke="#008000" stroke-width="1.7"/>
<line x1="1346.4" y1="434.4" x2="1355" y2="434.4" stroke="#008000" stroke-width="1.7"/>
<polygon points="1330.4,422.6 1341.62,430.75 1337.34,443.95 1323.46,443.95 1319.18,430.75" fill="#fff" stroke="#008000" stroke-width="1.7"/>
<text transform="translate(1360.2 441.4) scale(0.88 1)" x="-1.76" y="0" font-size="22" letter-spacing="2.195" fill="#1a1a1a" xml:space="preserve">E<tspan dx="2.27">30</tspan></text>
<line x1="1306.5" y1="461.6" x2="1315.7" y2="461.6" stroke="#ff0000" stroke-width="1.7"/>
<line x1="1346.4" y1="461.6" x2="1355" y2="461.6" stroke="#ff0000" stroke-width="1.7"/>
<polygon points="1330.4,449.8 1341.62,457.95 1337.34,471.15 1323.46,471.15 1319.18,457.95" fill="#fff" stroke="#ff0000" stroke-width="1.7"/><polygon points="1330.4,449.8 1341.62,457.95 1340.44,461.6 1320.36,461.6 1319.18,457.95" fill="#ff0000" stroke="#ff0000" stroke-width="1.7" stroke-linejoin="miter"/>
<text transform="translate(1360.2 468.6) scale(0.88 1)" x="-1.76" y="0" font-size="22" letter-spacing="1.347" fill="#1a1a1a" xml:space="preserve">E<tspan dx="2.27">30S5</tspan></text>
<line x1="1306.5" y1="486.4" x2="1315.7" y2="486.4" stroke="#0000a0" stroke-width="1.7"/>
<line x1="1346.4" y1="486.4" x2="1355" y2="486.4" stroke="#0000a0" stroke-width="1.7"/>
<polygon points="1330.4,474.6 1341.62,482.75 1337.34,495.95 1323.46,495.95 1319.18,482.75" fill="#fff" stroke="#0000a0" stroke-width="1.7"/><polygon points="1340.44,486.4 1337.34,495.95 1323.46,495.95 1320.36,486.4" fill="#0000a0" stroke="#0000a0" stroke-width="1.7" stroke-linejoin="miter"/>
<text transform="translate(1360.2 493.4) scale(0.88 1)" x="-1.76" y="0" font-size="22" letter-spacing="1.569" fill="#1a1a1a" xml:space="preserve">E<tspan dx="2.27">30S10</tspan></text>
<line x1="1306.5" y1="513.1" x2="1315.7" y2="513.1" stroke="#ff8000" stroke-width="1.7"/>
<line x1="1346.4" y1="513.1" x2="1355" y2="513.1" stroke="#ff8000" stroke-width="1.7"/>
<polygon points="1330.4,501.3 1341.62,509.45 1337.34,522.65 1323.46,522.65 1319.18,509.45" fill="#fff" stroke="#ff8000" stroke-width="1.7"/><polygon points="1330.4,501.3 1330.4,501.3 1330.4,522.65 1323.46,522.65 1319.18,509.45" fill="#ff8000" stroke="#ff8000" stroke-width="1.7" stroke-linejoin="miter"/>
<text transform="translate(1360.2 520.1) scale(0.88 1)" x="-1.76" y="0" font-size="22" letter-spacing="1.613" fill="#1a1a1a" xml:space="preserve">E<tspan dx="2.27">30S15</tspan></text>
</g>
<line x1="1306.74" y1="534.4" x2="1306.74" y2="527.6" stroke="#000" stroke-width="1.6"/>
<text x="1298.35" y="564.5" font-size="27" textLength="15.02" lengthAdjust="spacingAndGlyphs" fill="#1a1a1a" xml:space="preserve">0</text>
<line x1="1351.51" y1="534.4" x2="1351.51" y2="527.6" stroke="#000" stroke-width="1.6"/>
<text x="1335.09" y="564.5" font-size="27" textLength="30.03" lengthAdjust="spacingAndGlyphs" fill="#1a1a1a" xml:space="preserve">10</text>
<line x1="1396.28" y1="534.4" x2="1396.28" y2="527.6" stroke="#000" stroke-width="1.6"/>
<text x="1380.19" y="564.5" font-size="27" textLength="30.03" lengthAdjust="spacingAndGlyphs" fill="#1a1a1a" xml:space="preserve">20</text>
<line x1="1441.05" y1="534.4" x2="1441.05" y2="527.6" stroke="#000" stroke-width="1.6"/>
<text x="1425.1" y="564.5" font-size="27" textLength="30.03" lengthAdjust="spacingAndGlyphs" fill="#1a1a1a" xml:space="preserve">30</text>
<path d="M1283.84 515.99h7.9M1283.84 505.23h7.9M1283.84 497.59h7.9M1283.84 491.66h7.9M1283.84 486.82h7.9M1283.84 482.73h7.9M1283.84 479.18h7.9M1283.84 476.05h7.9M1283.84 454.85h7.9M1283.84 444.08h7.9M1283.84 436.45h7.9M1283.84 430.52h7.9M1283.84 425.68h7.9M1283.84 421.59h7.9M1283.84 418.04h7.9M1283.84 414.91h7.9M1283.84 393.71h7.9M1283.84 382.94h7.9M1283.84 375.3h7.9M1283.84 369.38h7.9M1283.84 364.54h7.9M1283.84 360.44h7.9M1283.84 356.9h7.9M1283.84 353.77h7.9M1283.84 332.57h7.9M1283.84 321.8h7.9M1283.84 314.16h7.9M1283.84 308.23h7.9M1283.84 303.39h7.9M1283.84 299.3h7.9M1283.84 295.75h7.9M1283.84 292.63h7.9M1283.84 271.42h7.9M1283.84 260.66h7.9M1283.84 253.02h7.9M1283.84 247.09h7.9M1283.84 242.25h7.9M1283.84 238.16h7.9M1283.84 234.61h7.9M1283.84 231.48h7.9M1283.84 210.28h7.9M1283.84 199.51h7.9M1283.84 191.87h7.9M1283.84 185.95h7.9M1283.84 181.11h7.9M1283.84 177.01h7.9M1283.84 173.47h7.9M1283.84 170.34h7.9M1283.84 149.14h7.9M1283.84 138.37h7.9M1283.84 130.73h7.9M1283.84 124.81h7.9M1283.84 119.96h7.9M1283.84 115.87h7.9M1283.84 112.33h7.9M1283.84 109.2h7.9" stroke="#000" stroke-width="1.7" fill="none"/>
<path d="M1283.84 473.56h10M1283.84 412.41h10M1283.84 351.27h10M1283.84 290.13h10M1283.84 228.99h10M1283.84 167.84h10" stroke="#000" stroke-width="2.4" fill="none"/>
<line x1="1283.84" y1="106.4" x2="1283.84" y2="534.4" stroke="#000" stroke-width="2.0"/>
<g>
<line x1="1545.45" y1="194.7" x2="1604.49" y2="196.6" stroke="#000" stroke-width="1.7"/>
<polygon points="1476.18,176 1494.18,176 1494.18,194 1476.18,194" fill="#fff" stroke="#000" stroke-width="1.7"/>
<polygon points="1498.57,180.4 1516.57,180.4 1516.57,198.4 1498.57,198.4" fill="#fff" stroke="#000" stroke-width="1.7"/>
<polygon points="1520.95,186.5 1538.95,186.5 1538.95,204.5 1520.95,204.5" fill="#fff" stroke="#000" stroke-width="1.7"/>
<polygon points="1610.49,187.8 1628.49,187.8 1628.49,205.8 1610.49,205.8" fill="#fff" stroke="#000" stroke-width="1.7"/>
<path d="M1619.49 188V175.7M1614.89 175.7H1624.09" stroke="#000" stroke-width="1.7" fill="none"/>
<line x1="1503.57" y1="180.5" x2="1511.57" y2="180.5" stroke="#000" stroke-width="2.2"/>
<line x1="1545.45" y1="198.4" x2="1604.49" y2="216.2" stroke="#008000" stroke-width="1.7"/>
<polygon points="1485.18,170.4 1496.52,190.05 1473.84,190.05" fill="#fff" stroke="#008000" stroke-width="1.7"/>
<polygon points="1507.57,186.9 1518.91,206.55 1496.22,206.55" fill="#fff" stroke="#008000" stroke-width="1.7"/>
<polygon points="1529.95,180.7 1541.29,200.35 1518.61,200.35" fill="#fff" stroke="#008000" stroke-width="1.7"/>
<polygon points="1619.49,207.9 1630.83,227.55 1608.15,227.55" fill="#fff" stroke="#008000" stroke-width="1.7"/>
<line x1="1525.95" y1="181" x2="1533.95" y2="181" stroke="#008000" stroke-width="2.2"/>
<line x1="1545.45" y1="203.9" x2="1604.49" y2="211.9" stroke="#ff0000" stroke-width="1.7"/>
<polygon points="1485.18,170.4 1496.52,190.05 1473.84,190.05" fill="#fff" stroke="#ff0000" stroke-width="1.7"/><polygon points="1485.18,170.4 1493.61,185 1476.75,185" fill="#ff0000" stroke="#ff0000" stroke-width="1.7" stroke-linejoin="miter"/>
<polygon points="1507.57,188.1 1518.91,207.75 1496.22,207.75" fill="#fff" stroke="#ff0000" stroke-width="1.7"/><polygon points="1507.57,188.1 1515.99,202.7 1499.14,202.7" fill="#ff0000" stroke="#ff0000" stroke-width="1.7" stroke-linejoin="miter"/>
<polygon points="1529.95,189.9 1541.29,209.55 1518.61,209.55" fill="#fff" stroke="#ff0000" stroke-width="1.7"/><polygon points="1529.95,189.9 1538.38,204.5 1521.52,204.5" fill="#ff0000" stroke="#ff0000" stroke-width="1.7" stroke-linejoin="miter"/>
<polygon points="1619.49,201.1 1630.83,220.75 1608.15,220.75" fill="#fff" stroke="#ff0000" stroke-width="1.7"/><polygon points="1619.49,201.1 1627.92,215.7 1611.06,215.7" fill="#ff0000" stroke="#ff0000" stroke-width="1.7" stroke-linejoin="miter"/>
<line x1="1615.49" y1="200.5" x2="1623.49" y2="200.5" stroke="#ff0000" stroke-width="2.2"/>
<line x1="1545.45" y1="221.7" x2="1604.49" y2="221.7" stroke="#0000a0" stroke-width="1.7"/>
<polygon points="1485.18,170.4 1496.52,190.05 1473.84,190.05" fill="#fff" stroke="#0000a0" stroke-width="1.7"/><polygon points="1493.61,185 1496.52,190.05 1473.84,190.05 1476.75,185" fill="#0000a0" stroke="#0000a0" stroke-width="1.7" stroke-linejoin="miter"/>
<polygon points="1507.57,201.1 1518.91,220.75 1496.22,220.75" fill="#fff" stroke="#0000a0" stroke-width="1.7"/><polygon points="1515.99,215.7 1518.91,220.75 1496.22,220.75 1499.14,215.7" fill="#0000a0" stroke="#0000a0" stroke-width="1.7" stroke-linejoin="miter"/>
<polygon points="1529.95,206.6 1541.29,226.25 1518.61,226.25" fill="#fff" stroke="#0000a0" stroke-width="1.7"/><polygon points="1538.38,221.2 1541.29,226.25 1518.61,226.25 1521.52,221.2" fill="#0000a0" stroke="#0000a0" stroke-width="1.7" stroke-linejoin="miter"/>
<polygon points="1619.49,208.4 1630.83,228.05 1608.15,228.05" fill="#fff" stroke="#0000a0" stroke-width="1.7"/><polygon points="1627.92,223 1630.83,228.05 1608.15,228.05 1611.06,223" fill="#0000a0" stroke="#0000a0" stroke-width="1.7" stroke-linejoin="miter"/>
<line x1="1503.57" y1="206" x2="1511.57" y2="206" stroke="#0000a0" stroke-width="2.2"/>
<line x1="1525.95" y1="212" x2="1533.95" y2="212" stroke="#0000a0" stroke-width="2.2"/>
<line x1="1545.45" y1="216.8" x2="1604.49" y2="246.8" stroke="#ff8000" stroke-width="1.7"/>
<polygon points="1485.18,170.4 1496.52,190.05 1473.84,190.05" fill="#fff" stroke="#ff8000" stroke-width="1.7"/><polygon points="1485.18,170.4 1485.18,170.4 1485.18,190.05 1473.84,190.05" fill="#ff8000" stroke="#ff8000" stroke-width="1.7" stroke-linejoin="miter"/>
<polygon points="1507.57,189.4 1518.91,209.05 1496.22,209.05" fill="#fff" stroke="#ff8000" stroke-width="1.7"/><polygon points="1507.57,189.4 1507.57,189.4 1507.57,209.05 1496.22,209.05" fill="#ff8000" stroke="#ff8000" stroke-width="1.7" stroke-linejoin="miter"/>
<polygon points="1529.95,196.8 1541.29,216.45 1518.61,216.45" fill="#fff" stroke="#ff8000" stroke-width="1.7"/><polygon points="1529.95,196.8 1529.95,196.8 1529.95,216.45 1518.61,216.45" fill="#ff8000" stroke="#ff8000" stroke-width="1.7" stroke-linejoin="miter"/>
<polygon points="1619.49,239.7 1630.83,259.35 1608.15,259.35" fill="#fff" stroke="#ff8000" stroke-width="1.7"/><polygon points="1619.49,239.7 1619.49,239.7 1619.49,259.35 1608.15,259.35" fill="#ff8000" stroke="#ff8000" stroke-width="1.7" stroke-linejoin="miter"/>
<path d="M1619.49 239V230.3M1614.89 230.3H1624.09" stroke="#ff8000" stroke-width="1.7" fill="none"/>
<line x1="1482.7" y1="409.9" x2="1491.9" y2="409.9" stroke="#000" stroke-width="1.7"/>
<line x1="1522.5" y1="409.9" x2="1531.7" y2="409.9" stroke="#000" stroke-width="1.7"/>
<polygon points="1497.3,400.9 1515.3,400.9 1515.3,418.9 1497.3,418.9" fill="#fff" stroke="#000" stroke-width="1.7"/>
<text transform="translate(1536.9 416.9) scale(0.88 1)" x="-1.76" y="0" font-size="22" letter-spacing="1.529" fill="#1a1a1a" xml:space="preserve">DI water</text>
<line x1="1482.7" y1="436.2" x2="1491.9" y2="436.2" stroke="#008000" stroke-width="1.7"/>
<line x1="1522.5" y1="436.2" x2="1531.7" y2="436.2" stroke="#008000" stroke-width="1.7"/>
<polygon points="1506.3,425.6 1517.64,445.25 1494.96,445.25" fill="#fff" stroke="#008000" stroke-width="1.7"/>
<text transform="translate(1536.9 443.2) scale(0.88 1)" x="-1.76" y="0" font-size="22" letter-spacing="2.195" fill="#1a1a1a" xml:space="preserve">E<tspan dx="2.27">40</tspan></text>
<line x1="1482.7" y1="463.2" x2="1491.9" y2="463.2" stroke="#ff0000" stroke-width="1.7"/>
<line x1="1522.5" y1="463.2" x2="1531.7" y2="463.2" stroke="#ff0000" stroke-width="1.7"/>
<polygon points="1506.3,452.6 1517.64,472.25 1494.96,472.25" fill="#fff" stroke="#ff0000" stroke-width="1.7"/><polygon points="1506.3,452.6 1514.73,467.2 1497.87,467.2" fill="#ff0000" stroke="#ff0000" stroke-width="1.7" stroke-linejoin="miter"/>
<text transform="translate(1536.9 470.2) scale(0.88 1)" x="-1.76" y="0" font-size="22" letter-spacing="1.347" fill="#1a1a1a" xml:space="preserve">E<tspan dx="2.27">40S5</tspan></text>
<line x1="1482.7" y1="488.3" x2="1491.9" y2="488.3" stroke="#0000a0" stroke-width="1.7"/>
<line x1="1522.5" y1="488.3" x2="1531.7" y2="488.3" stroke="#0000a0" stroke-width="1.7"/>
<polygon points="1506.3,477.7 1517.64,497.35 1494.96,497.35" fill="#fff" stroke="#0000a0" stroke-width="1.7"/><polygon points="1514.73,492.3 1517.64,497.35 1494.96,497.35 1497.87,492.3" fill="#0000a0" stroke="#0000a0" stroke-width="1.7" stroke-linejoin="miter"/>
<text transform="translate(1536.9 495.3) scale(0.88 1)" x="-1.76" y="0" font-size="22" letter-spacing="1.228" fill="#1a1a1a" xml:space="preserve">E<tspan dx="2.27">40S10</tspan></text>
<line x1="1482.7" y1="515.2" x2="1491.9" y2="515.2" stroke="#ff8000" stroke-width="1.7"/>
<line x1="1522.5" y1="515.2" x2="1531.7" y2="515.2" stroke="#ff8000" stroke-width="1.7"/>
<polygon points="1506.3,504.6 1517.64,524.25 1494.96,524.25" fill="#fff" stroke="#ff8000" stroke-width="1.7"/><polygon points="1506.3,504.6 1506.3,504.6 1506.3,524.25 1494.96,524.25" fill="#ff8000" stroke="#ff8000" stroke-width="1.7" stroke-linejoin="miter"/>
<text transform="translate(1536.9 522.2) scale(0.88 1)" x="-1.76" y="0" font-size="22" letter-spacing="1.250" fill="#1a1a1a" xml:space="preserve">E<tspan dx="2.27">40S15</tspan></text>
</g>
<line x1="1485.18" y1="534.4" x2="1485.18" y2="527.6" stroke="#000" stroke-width="1.6"/>
<text x="1476.79" y="564.5" font-size="27" textLength="15.02" lengthAdjust="spacingAndGlyphs" fill="#1a1a1a" xml:space="preserve">0</text>
<line x1="1529.95" y1="534.4" x2="1529.95" y2="527.6" stroke="#000" stroke-width="1.6"/>
<text x="1513.53" y="564.5" font-size="27" textLength="30.03" lengthAdjust="spacingAndGlyphs" fill="#1a1a1a" xml:space="preserve">10</text>
<line x1="1574.72" y1="534.4" x2="1574.72" y2="527.6" stroke="#000" stroke-width="1.6"/>
<text x="1558.63" y="564.5" font-size="27" textLength="30.03" lengthAdjust="spacingAndGlyphs" fill="#1a1a1a" xml:space="preserve">20</text>
<line x1="1619.49" y1="534.4" x2="1619.49" y2="527.6" stroke="#000" stroke-width="1.6"/>
<text x="1603.54" y="564.5" font-size="27" textLength="30.03" lengthAdjust="spacingAndGlyphs" fill="#1a1a1a" xml:space="preserve">30</text>
<path d="M1462.28 515.99h7.9M1462.28 505.23h7.9M1462.28 497.59h7.9M1462.28 491.66h7.9M1462.28 486.82h7.9M1462.28 482.73h7.9M1462.28 479.18h7.9M1462.28 476.05h7.9M1462.28 454.85h7.9M1462.28 444.08h7.9M1462.28 436.45h7.9M1462.28 430.52h7.9M1462.28 425.68h7.9M1462.28 421.59h7.9M1462.28 418.04h7.9M1462.28 414.91h7.9M1462.28 393.71h7.9M1462.28 382.94h7.9M1462.28 375.3h7.9M1462.28 369.38h7.9M1462.28 364.54h7.9M1462.28 360.44h7.9M1462.28 356.9h7.9M1462.28 353.77h7.9M1462.28 332.57h7.9M1462.28 321.8h7.9M1462.28 314.16h7.9M1462.28 308.23h7.9M1462.28 303.39h7.9M1462.28 299.3h7.9M1462.28 295.75h7.9M1462.28 292.63h7.9M1462.28 271.42h7.9M1462.28 260.66h7.9M1462.28 253.02h7.9M1462.28 247.09h7.9M1462.28 242.25h7.9M1462.28 238.16h7.9M1462.28 234.61h7.9M1462.28 231.48h7.9M1462.28 210.28h7.9M1462.28 199.51h7.9M1462.28 191.87h7.9M1462.28 185.95h7.9M1462.28 181.11h7.9M1462.28 177.01h7.9M1462.28 173.47h7.9M1462.28 170.34h7.9M1462.28 149.14h7.9M1462.28 138.37h7.9M1462.28 130.73h7.9M1462.28 124.81h7.9M1462.28 119.96h7.9M1462.28 115.87h7.9M1462.28 112.33h7.9M1462.28 109.2h7.9" stroke="#000" stroke-width="1.7" fill="none"/>
<path d="M1462.28 473.56h10M1462.28 412.41h10M1462.28 351.27h10M1462.28 290.13h10M1462.28 228.99h10M1462.28 167.84h10" stroke="#000" stroke-width="2.4" fill="none"/>
<line x1="1462.28" y1="106.4" x2="1462.28" y2="534.4" stroke="#000" stroke-width="2.0"/>
<g>
<line x1="1723.89" y1="194.8" x2="1782.93" y2="196.5" stroke="#000" stroke-width="1.7"/>
<polygon points="1654.62,174 1672.62,174 1672.62,192 1654.62,192" fill="#fff" stroke="#000" stroke-width="1.7"/>
<polygon points="1677.01,180.5 1695.01,180.5 1695.01,198.5 1677.01,198.5" fill="#fff" stroke="#000" stroke-width="1.7"/>
<polygon points="1699.39,186.6 1717.39,186.6 1717.39,204.6 1699.39,204.6" fill="#fff" stroke="#000" stroke-width="1.7"/>
<polygon points="1788.93,188 1806.93,188 1806.93,206 1788.93,206" fill="#fff" stroke="#000" stroke-width="1.7"/>
<path d="M1797.93 188.2V176M1793.33 176H1802.53" stroke="#000" stroke-width="1.7" fill="none"/>
<line x1="1704.39" y1="186.5" x2="1712.39" y2="186.5" stroke="#000" stroke-width="2.2"/>
<line x1="1723.89" y1="214.2" x2="1782.93" y2="223.8" stroke="#008000" stroke-width="1.7"/>
<polygon points="1663.62,171.8 1674.19,177.4 1674.19,188.6 1663.62,194.2 1653.05,188.6 1653.05,177.4" fill="#fff" stroke="#008000" stroke-width="1.7"/>
<polygon points="1686.01,178.8 1696.57,184.4 1696.57,195.6 1686.01,201.2 1675.44,195.6 1675.44,184.4" fill="#fff" stroke="#008000" stroke-width="1.7"/>
<polygon points="1708.39,194.3 1718.96,199.9 1718.96,211.1 1708.39,216.7 1697.82,211.1 1697.82,199.9" fill="#fff" stroke="#008000" stroke-width="1.7"/>
<polygon points="1797.93,214.3 1808.5,219.9 1808.5,231.1 1797.93,236.7 1787.36,231.1 1787.36,219.9" fill="#fff" stroke="#008000" stroke-width="1.7"/>
<line x1="1682.01" y1="182.5" x2="1690.01" y2="182.5" stroke="#008000" stroke-width="2.2"/>
<line x1="1793.93" y1="216" x2="1801.93" y2="216" stroke="#008000" stroke-width="2.2"/>
<line x1="1723.89" y1="219.4" x2="1782.93" y2="240.3" stroke="#ff0000" stroke-width="1.7"/>
<polygon points="1663.62,171.8 1674.19,177.4 1674.19,188.6 1663.62,194.2 1653.05,188.6 1653.05,177.4" fill="#fff" stroke="#ff0000" stroke-width="1.7"/><polygon points="1663.62,171.8 1674.19,177.4 1674.19,183 1653.05,183 1653.05,177.4" fill="#ff0000" stroke="#ff0000" stroke-width="1.7" stroke-linejoin="miter"/>
<polygon points="1686.01,179.6 1696.57,185.2 1696.57,196.4 1686.01,202 1675.44,196.4 1675.44,185.2" fill="#fff" stroke="#ff0000" stroke-width="1.7"/><polygon points="1686.01,179.6 1696.57,185.2 1696.57,190.8 1675.44,190.8 1675.44,185.2" fill="#ff0000" stroke="#ff0000" stroke-width="1.7" stroke-linejoin="miter"/>
<polygon points="1708.39,197.8 1718.96,203.4 1718.96,214.6 1708.39,220.2 1697.82,214.6 1697.82,203.4" fill="#fff" stroke="#ff0000" stroke-width="1.7"/><polygon points="1708.39,197.8 1718.96,203.4 1718.96,209 1697.82,209 1697.82,203.4" fill="#ff0000" stroke="#ff0000" stroke-width="1.7" stroke-linejoin="miter"/>
<polygon points="1797.93,233.4 1808.5,239 1808.5,250.2 1797.93,255.8 1787.36,250.2 1787.36,239" fill="#fff" stroke="#ff0000" stroke-width="1.7"/><polygon points="1797.93,233.4 1808.5,239 1808.5,244.6 1787.36,244.6 1787.36,239" fill="#ff0000" stroke="#ff0000" stroke-width="1.7" stroke-linejoin="miter"/>
<line x1="1682.01" y1="181" x2="1690.01" y2="181" stroke="#ff0000" stroke-width="2.2"/>
<line x1="1723.89" y1="222.9" x2="1782.93" y2="252.4" stroke="#0000a0" stroke-width="1.7"/>
<line x1="1677.12" y1="196" x2="1682.12" y2="202" stroke="#0000a0" stroke-width="1.7"/>
<polygon points="1663.62,171.8 1674.19,177.4 1674.19,188.6 1663.62,194.2 1653.05,188.6 1653.05,177.4" fill="#fff" stroke="#0000a0" stroke-width="1.7"/><polygon points="1674.19,183 1674.19,188.6 1663.62,194.2 1653.05,188.6 1653.05,183" fill="#0000a0" stroke="#0000a0" stroke-width="1.7" stroke-linejoin="miter"/>
<polygon points="1686.01,204.6 1696.57,210.2 1696.57,221.4 1686.01,227 1675.44,221.4 1675.44,210.2" fill="#fff" stroke="#0000a0" stroke-width="1.7"/><polygon points="1696.57,215.8 1696.57,221.4 1686.01,227 1675.44,221.4 1675.44,215.8" fill="#0000a0" stroke="#0000a0" stroke-width="1.7" stroke-linejoin="miter"/>
<polygon points="1708.39,202.2 1718.96,207.8 1718.96,219 1708.39,224.6 1697.82,219 1697.82,207.8" fill="#fff" stroke="#0000a0" stroke-width="1.7"/><polygon points="1718.96,213.4 1718.96,219 1708.39,224.6 1697.82,219 1697.82,213.4" fill="#0000a0" stroke="#0000a0" stroke-width="1.7" stroke-linejoin="miter"/>
<polygon points="1797.93,247.3 1808.5,252.9 1808.5,264.1 1797.93,269.7 1787.36,264.1 1787.36,252.9" fill="#fff" stroke="#0000a0" stroke-width="1.7"/><polygon points="1808.5,258.5 1808.5,264.1 1797.93,269.7 1787.36,264.1 1787.36,258.5" fill="#0000a0" stroke="#0000a0" stroke-width="1.7" stroke-linejoin="miter"/>
<line x1="1682.01" y1="206" x2="1690.01" y2="206" stroke="#0000a0" stroke-width="2.2"/>
<line x1="1723.89" y1="271.5" x2="1782.93" y2="283.3" stroke="#ff8000" stroke-width="1.7"/>
<line x1="1691.42" y1="224.7" x2="1702.62" y2="252.4" stroke="#ff8000" stroke-width="1.7"/>
<polygon points="1663.62,171.8 1674.19,177.4 1674.19,188.6 1663.62,194.2 1653.05,188.6 1653.05,177.4" fill="#fff" stroke="#ff8000" stroke-width="1.7"/><polygon points="1663.62,171.8 1663.62,171.8 1663.62,194.2 1663.62,194.2 1653.05,188.6 1653.05,177.4" fill="#ff8000" stroke="#ff8000" stroke-width="1.7" stroke-linejoin="miter"/>
<polygon points="1686.01,199.6 1696.57,205.2 1696.57,216.4 1686.01,222 1675.44,216.4 1675.44,205.2" fill="#fff" stroke="#ff8000" stroke-width="1.7"/><polygon points="1686.01,199.6 1686.01,199.6 1686.01,222 1686.01,222 1675.44,216.4 1675.44,205.2" fill="#ff8000" stroke="#ff8000" stroke-width="1.7" stroke-linejoin="miter"/>
<polygon points="1708.39,256.5 1718.96,262.1 1718.96,273.3 1708.39,278.9 1697.82,273.3 1697.82,262.1" fill="#fff" stroke="#ff8000" stroke-width="1.7"/><polygon points="1708.39,256.5 1708.39,256.5 1708.39,278.9 1708.39,278.9 1697.82,273.3 1697.82,262.1" fill="#ff8000" stroke="#ff8000" stroke-width="1.7" stroke-linejoin="miter"/>
<polygon points="1797.93,275.1 1808.5,280.7 1808.5,291.9 1797.93,297.5 1787.36,291.9 1787.36,280.7" fill="#fff" stroke="#ff8000" stroke-width="1.7"/><polygon points="1797.93,275.1 1797.93,275.1 1797.93,297.5 1797.93,297.5 1787.36,291.9 1787.36,280.7" fill="#ff8000" stroke="#ff8000" stroke-width="1.7" stroke-linejoin="miter"/>
<line x1="1659.62" y1="172" x2="1667.62" y2="172" stroke="#ff8000" stroke-width="2.2"/>
<line x1="1661" y1="405.3" x2="1671.7" y2="405.3" stroke="#000" stroke-width="1.7"/>
<line x1="1701.4" y1="405.3" x2="1710.6" y2="405.3" stroke="#000" stroke-width="1.7"/>
<polygon points="1676.4,396.3 1694.4,396.3 1694.4,414.3 1676.4,414.3" fill="#fff" stroke="#000" stroke-width="1.7"/>
<text transform="translate(1715.2 412.3) scale(0.88 1)" x="-1.76" y="0" font-size="22" letter-spacing="1.578" fill="#1a1a1a" xml:space="preserve">DI water</text>
<line x1="1661" y1="431" x2="1671.7" y2="431" stroke="#008000" stroke-width="1.7"/>
<line x1="1701.4" y1="431" x2="1710.6" y2="431" stroke="#008000" stroke-width="1.7"/>
<polygon points="1685.4,419.8 1695.97,425.4 1695.97,436.6 1685.4,442.2 1674.83,436.6 1674.83,425.4" fill="#fff" stroke="#008000" stroke-width="1.7"/>
<text transform="translate(1715.2 438) scale(0.88 1)" x="-1.76" y="0" font-size="22" letter-spacing="2.195" fill="#1a1a1a" xml:space="preserve">E<tspan dx="2.27">60</tspan></text>
<line x1="1661" y1="457.3" x2="1671.7" y2="457.3" stroke="#ff0000" stroke-width="1.7"/>
<line x1="1701.4" y1="457.3" x2="1710.6" y2="457.3" stroke="#ff0000" stroke-width="1.7"/>
<polygon points="1685.4,446.1 1695.97,451.7 1695.97,462.9 1685.4,468.5 1674.83,462.9 1674.83,451.7" fill="#fff" stroke="#ff0000" stroke-width="1.7"/><polygon points="1685.4,446.1 1695.97,451.7 1695.97,457.3 1674.83,457.3 1674.83,451.7" fill="#ff0000" stroke="#ff0000" stroke-width="1.7" stroke-linejoin="miter"/>
<text transform="translate(1715.2 464.3) scale(0.88 1)" x="-1.76" y="0" font-size="22" letter-spacing="1.435" fill="#1a1a1a" xml:space="preserve">E<tspan dx="2.27">60S2.5</tspan></text>
<line x1="1661" y1="484" x2="1671.7" y2="484" stroke="#0000a0" stroke-width="1.7"/>
<line x1="1701.4" y1="484" x2="1710.6" y2="484" stroke="#0000a0" stroke-width="1.7"/>
<polygon points="1685.4,472.8 1695.97,478.4 1695.97,489.6 1685.4,495.2 1674.83,489.6 1674.83,478.4" fill="#fff" stroke="#0000a0" stroke-width="1.7"/><polygon points="1695.97,484 1695.97,489.6 1685.4,495.2 1674.83,489.6 1674.83,484" fill="#0000a0" stroke="#0000a0" stroke-width="1.7" stroke-linejoin="miter"/>
<text transform="translate(1715.2 491) scale(0.88 1)" x="-1.76" y="0" font-size="22" letter-spacing="1.490" fill="#1a1a1a" xml:space="preserve">E<tspan dx="2.27">60S5</tspan></text>
<line x1="1661" y1="509.4" x2="1671.7" y2="509.4" stroke="#ff8000" stroke-width="1.7"/>
<line x1="1701.4" y1="509.4" x2="1710.6" y2="509.4" stroke="#ff8000" stroke-width="1.7"/>
<polygon points="1685.4,498.2 1695.97,503.8 1695.97,515 1685.4,520.6 1674.83,515 1674.83,503.8" fill="#fff" stroke="#ff8000" stroke-width="1.7"/><polygon points="1685.4,498.2 1685.4,498.2 1685.4,520.6 1685.4,520.6 1674.83,515 1674.83,503.8" fill="#ff8000" stroke="#ff8000" stroke-width="1.7" stroke-linejoin="miter"/>
<text transform="translate(1715.2 516.4) scale(0.88 1)" x="-1.76" y="0" font-size="22" letter-spacing="1.341" fill="#1a1a1a" xml:space="preserve">E<tspan dx="2.27">60S10</tspan></text>
</g>
<line x1="1663.62" y1="534.4" x2="1663.62" y2="527.6" stroke="#000" stroke-width="1.6"/>
<text x="1655.23" y="564.5" font-size="27" textLength="15.02" lengthAdjust="spacingAndGlyphs" fill="#1a1a1a" xml:space="preserve">0</text>
<line x1="1708.39" y1="534.4" x2="1708.39" y2="527.6" stroke="#000" stroke-width="1.6"/>
<text x="1691.96" y="564.5" font-size="27" textLength="30.03" lengthAdjust="spacingAndGlyphs" fill="#1a1a1a" xml:space="preserve">10</text>
<line x1="1753.16" y1="534.4" x2="1753.16" y2="527.6" stroke="#000" stroke-width="1.6"/>
<text x="1737.07" y="564.5" font-size="27" textLength="30.03" lengthAdjust="spacingAndGlyphs" fill="#1a1a1a" xml:space="preserve">20</text>
<line x1="1797.93" y1="534.4" x2="1797.93" y2="527.6" stroke="#000" stroke-width="1.6"/>
<text x="1781.98" y="564.5" font-size="27" textLength="30.03" lengthAdjust="spacingAndGlyphs" fill="#1a1a1a" xml:space="preserve">30</text>
<path d="M1640.72 515.99h7.9M1640.72 505.23h7.9M1640.72 497.59h7.9M1640.72 491.66h7.9M1640.72 486.82h7.9M1640.72 482.73h7.9M1640.72 479.18h7.9M1640.72 476.05h7.9M1640.72 454.85h7.9M1640.72 444.08h7.9M1640.72 436.45h7.9M1640.72 430.52h7.9M1640.72 425.68h7.9M1640.72 421.59h7.9M1640.72 418.04h7.9M1640.72 414.91h7.9M1640.72 393.71h7.9M1640.72 382.94h7.9M1640.72 375.3h7.9M1640.72 369.38h7.9M1640.72 364.54h7.9M1640.72 360.44h7.9M1640.72 356.9h7.9M1640.72 353.77h7.9M1640.72 332.57h7.9M1640.72 321.8h7.9M1640.72 314.16h7.9M1640.72 308.23h7.9M1640.72 303.39h7.9M1640.72 299.3h7.9M1640.72 295.75h7.9M1640.72 292.63h7.9M1640.72 271.42h7.9M1640.72 260.66h7.9M1640.72 253.02h7.9M1640.72 247.09h7.9M1640.72 242.25h7.9M1640.72 238.16h7.9M1640.72 234.61h7.9M1640.72 231.48h7.9M1640.72 210.28h7.9M1640.72 199.51h7.9M1640.72 191.87h7.9M1640.72 185.95h7.9M1640.72 181.11h7.9M1640.72 177.01h7.9M1640.72 173.47h7.9M1640.72 170.34h7.9M1640.72 149.14h7.9M1640.72 138.37h7.9M1640.72 130.73h7.9M1640.72 124.81h7.9M1640.72 119.96h7.9M1640.72 115.87h7.9M1640.72 112.33h7.9M1640.72 109.2h7.9" stroke="#000" stroke-width="1.7" fill="none"/>
<path d="M1640.72 473.56h10M1640.72 412.41h10M1640.72 351.27h10M1640.72 290.13h10M1640.72 228.99h10M1640.72 167.84h10" stroke="#000" stroke-width="2.4" fill="none"/>
<line x1="1640.72" y1="106.4" x2="1640.72" y2="534.4" stroke="#000" stroke-width="3.2"/>
<g>
<line x1="1902.33" y1="194.8" x2="1961.37" y2="196.5" stroke="#000" stroke-width="1.7"/>
<polygon points="1833.06,174 1851.06,174 1851.06,192 1833.06,192" fill="#fff" stroke="#000" stroke-width="1.7"/>
<polygon points="1855.45,180.5 1873.45,180.5 1873.45,198.5 1855.45,198.5" fill="#fff" stroke="#000" stroke-width="1.7"/>
<polygon points="1877.83,186.6 1895.83,186.6 1895.83,204.6 1877.83,204.6" fill="#fff" stroke="#000" stroke-width="1.7"/>
<polygon points="1967.37,188 1985.37,188 1985.37,206 1967.37,206" fill="#fff" stroke="#000" stroke-width="1.7"/>
<path d="M1976.37 188.2V176M1971.77 176H1980.97" stroke="#000" stroke-width="1.7" fill="none"/>
<line x1="1860.45" y1="181" x2="1868.45" y2="181" stroke="#000" stroke-width="2.2"/>
<line x1="1882.83" y1="187" x2="1890.83" y2="187" stroke="#000" stroke-width="2.2"/>
<line x1="1902.33" y1="225.5" x2="1961.37" y2="231.6" stroke="#008000" stroke-width="1.7"/>
<circle cx="1842.06" cy="183" r="10.2" fill="#fff" stroke="#008000" stroke-width="1.7"/>
<circle cx="1864.45" cy="199.5" r="10.2" fill="#fff" stroke="#008000" stroke-width="1.7"/>
<circle cx="1886.83" cy="219.4" r="10.2" fill="#fff" stroke="#008000" stroke-width="1.7"/>
<circle cx="1976.37" cy="235" r="10.2" fill="#fff" stroke="#008000" stroke-width="1.7"/>
<line x1="1860.45" y1="194" x2="1868.45" y2="194" stroke="#008000" stroke-width="2.2"/>
<path d="M1976.37 225V221M1971.77 221H1980.97" stroke="#008000" stroke-width="1.7" fill="none"/>
<line x1="1902.33" y1="228" x2="1961.37" y2="235" stroke="#ff0000" stroke-width="1.7"/>
<circle cx="1842.06" cy="183" r="10.2" fill="#fff" stroke="#ff0000" stroke-width="1.7"/><polygon points="1842.06,172.8 1843.66,172.93 1845.21,173.3 1846.69,173.91 1848.06,174.75 1849.27,175.79 1850.31,177 1851.15,178.37 1851.76,179.85 1852.13,181.4 1852.26,183 1852.26,183 1831.86,183 1831.86,183 1831.99,181.4 1832.36,179.85 1832.97,178.37 1833.81,177 1834.85,175.79 1836.06,174.75 1837.43,173.91 1838.91,173.3 1840.46,172.93" fill="#ff0000" stroke="#ff0000" stroke-width="1.7" stroke-linejoin="miter"/>
<circle cx="1864.45" cy="203" r="10.2" fill="#fff" stroke="#ff0000" stroke-width="1.7"/><polygon points="1864.45,192.8 1866.04,192.93 1867.6,193.3 1869.08,193.91 1870.44,194.75 1871.66,195.79 1872.7,197 1873.53,198.37 1874.15,199.85 1874.52,201.4 1874.65,203 1874.65,203 1854.25,203 1854.25,203 1854.37,201.4 1854.74,199.85 1855.36,198.37 1856.19,197 1857.23,195.79 1858.45,194.75 1859.81,193.91 1861.29,193.3 1862.85,192.93" fill="#ff0000" stroke="#ff0000" stroke-width="1.7" stroke-linejoin="miter"/>
<circle cx="1886.83" cy="221.2" r="10.2" fill="#fff" stroke="#ff0000" stroke-width="1.7"/><polygon points="1886.83,211 1888.43,211.13 1889.98,211.5 1891.46,212.11 1892.83,212.95 1894.04,213.99 1895.08,215.2 1895.92,216.57 1896.53,218.05 1896.9,219.6 1897.03,221.2 1897.03,221.2 1876.63,221.2 1876.63,221.2 1876.76,219.6 1877.13,218.05 1877.74,216.57 1878.58,215.2 1879.62,213.99 1880.83,212.95 1882.2,212.11 1883.68,211.5 1885.23,211.13" fill="#ff0000" stroke="#ff0000" stroke-width="1.7" stroke-linejoin="miter"/>
<circle cx="1976.37" cy="237.7" r="10.2" fill="#fff" stroke="#ff0000" stroke-width="1.7"/><polygon points="1976.37,227.5 1977.97,227.63 1979.52,228 1981,228.61 1982.37,229.45 1983.58,230.49 1984.62,231.7 1985.46,233.07 1986.07,234.55 1986.44,236.1 1986.57,237.7 1986.57,237.7 1966.17,237.7 1966.17,237.7 1966.3,236.1 1966.67,234.55 1967.28,233.07 1968.12,231.7 1969.16,230.49 1970.37,229.45 1971.74,228.61 1973.22,228 1974.77,227.63" fill="#ff0000" stroke="#ff0000" stroke-width="1.7" stroke-linejoin="miter"/>
<line x1="1882.83" y1="211" x2="1890.83" y2="211" stroke="#ff0000" stroke-width="2.2"/>
<line x1="1902.33" y1="249.8" x2="1961.37" y2="271.5" stroke="#0000a0" stroke-width="1.7"/>
<line x1="1873.06" y1="223.8" x2="1880.06" y2="233.3" stroke="#0000a0" stroke-width="1.7"/>
<circle cx="1842.06" cy="183" r="10.2" fill="#fff" stroke="#0000a0" stroke-width="1.7"/><polygon points="1852.26,183 1852.26,183 1852.13,184.6 1851.76,186.15 1851.15,187.63 1850.31,189 1849.27,190.21 1848.06,191.25 1846.69,192.09 1845.21,192.7 1843.66,193.07 1842.06,193.2 1840.46,193.07 1838.91,192.7 1837.43,192.09 1836.06,191.25 1834.85,190.21 1833.81,189 1832.97,187.63 1832.36,186.15 1831.99,184.6 1831.86,183 1831.86,183" fill="#0000a0" stroke="#0000a0" stroke-width="1.7" stroke-linejoin="miter"/>
<circle cx="1864.45" cy="209.9" r="10.2" fill="#fff" stroke="#0000a0" stroke-width="1.7"/><polygon points="1874.65,209.9 1874.65,209.9 1874.52,211.5 1874.15,213.05 1873.53,214.53 1872.7,215.9 1871.66,217.11 1870.44,218.15 1869.08,218.99 1867.6,219.6 1866.04,219.97 1864.45,220.1 1862.85,219.97 1861.29,219.6 1859.81,218.99 1858.45,218.15 1857.23,217.11 1856.19,215.9 1855.36,214.53 1854.74,213.05 1854.37,211.5 1854.25,209.9 1854.25,209.9" fill="#0000a0" stroke="#0000a0" stroke-width="1.7" stroke-linejoin="miter"/>
<circle cx="1886.83" cy="245.5" r="10.2" fill="#fff" stroke="#0000a0" stroke-width="1.7"/><polygon points="1897.03,245.5 1897.03,245.5 1896.9,247.1 1896.53,248.65 1895.92,250.13 1895.08,251.5 1894.04,252.71 1892.83,253.75 1891.46,254.59 1889.98,255.2 1888.43,255.57 1886.83,255.7 1885.23,255.57 1883.68,255.2 1882.2,254.59 1880.83,253.75 1879.62,252.71 1878.58,251.5 1877.74,250.13 1877.13,248.65 1876.76,247.1 1876.63,245.5 1876.63,245.5" fill="#0000a0" stroke="#0000a0" stroke-width="1.7" stroke-linejoin="miter"/>
<circle cx="1976.37" cy="275" r="10.2" fill="#fff" stroke="#0000a0" stroke-width="1.7"/><polygon points="1986.57,275 1986.57,275 1986.44,276.6 1986.07,278.15 1985.46,279.63 1984.62,281 1983.58,282.21 1982.37,283.25 1981,284.09 1979.52,284.7 1977.97,285.07 1976.37,285.2 1974.77,285.07 1973.22,284.7 1971.74,284.09 1970.37,283.25 1969.16,282.21 1968.12,281 1967.28,279.63 1966.67,278.15 1966.3,276.6 1966.17,275 1966.17,275" fill="#0000a0" stroke="#0000a0" stroke-width="1.7" stroke-linejoin="miter"/>
<path d="M1886.83 235.5V229M1882.23 229H1891.43" stroke="#0000a0" stroke-width="1.7" fill="none"/>
<path d="M1976.37 265V262M1971.77 262H1980.97" stroke="#0000a0" stroke-width="1.7" fill="none"/>
<line x1="1902.33" y1="284.5" x2="1961.37" y2="290.6" stroke="#ff8000" stroke-width="1.7"/>
<line x1="1849.06" y1="198.6" x2="1856.06" y2="216" stroke="#ff8000" stroke-width="1.7"/>
<line x1="1870.56" y1="245.5" x2="1881.56" y2="268" stroke="#ff8000" stroke-width="1.7"/>
<circle cx="1842.06" cy="183.3" r="10.2" fill="#fff" stroke="#ff8000" stroke-width="1.7"/><polygon points="1842.06,173.1 1842.06,173.1 1842.06,193.5 1842.06,193.5 1840.46,193.37 1838.91,193 1837.43,192.39 1836.06,191.55 1834.85,190.51 1833.81,189.3 1832.97,187.93 1832.36,186.45 1831.99,184.9 1831.86,183.3 1831.99,181.7 1832.36,180.15 1832.97,178.67 1833.81,177.3 1834.85,176.09 1836.06,175.05 1837.43,174.21 1838.91,173.6 1840.46,173.23" fill="#ff8000" stroke="#ff8000" stroke-width="1.7" stroke-linejoin="miter"/>
<circle cx="1864.45" cy="232.5" r="10.2" fill="#fff" stroke="#ff8000" stroke-width="1.7"/><polygon points="1864.45,222.3 1864.45,222.3 1864.45,242.7 1864.45,242.7 1862.85,242.57 1861.29,242.2 1859.81,241.59 1858.45,240.75 1857.23,239.71 1856.19,238.5 1855.36,237.13 1854.74,235.65 1854.37,234.1 1854.25,232.5 1854.37,230.9 1854.74,229.35 1855.36,227.87 1856.19,226.5 1857.23,225.29 1858.45,224.25 1859.81,223.41 1861.29,222.8 1862.85,222.43" fill="#ff8000" stroke="#ff8000" stroke-width="1.7" stroke-linejoin="miter"/>
<circle cx="1886.83" cy="282" r="10.2" fill="#fff" stroke="#ff8000" stroke-width="1.7"/><polygon points="1886.83,271.8 1886.83,271.8 1886.83,292.2 1886.83,292.2 1885.23,292.07 1883.68,291.7 1882.2,291.09 1880.83,290.25 1879.62,289.21 1878.58,288 1877.74,286.63 1877.13,285.15 1876.76,283.6 1876.63,282 1876.76,280.4 1877.13,278.85 1877.74,277.37 1878.58,276 1879.62,274.79 1880.83,273.75 1882.2,272.91 1883.68,272.3 1885.23,271.93" fill="#ff8000" stroke="#ff8000" stroke-width="1.7" stroke-linejoin="miter"/>
<circle cx="1976.37" cy="293.75" r="10.2" fill="#fff" stroke="#ff8000" stroke-width="1.7"/><polygon points="1976.37,283.55 1976.37,283.55 1976.37,303.95 1976.37,303.95 1974.77,303.82 1973.22,303.45 1971.74,302.84 1970.37,302 1969.16,300.96 1968.12,299.75 1967.28,298.38 1966.67,296.9 1966.3,295.35 1966.17,293.75 1966.3,292.15 1966.67,290.6 1967.28,289.12 1968.12,287.75 1969.16,286.54 1970.37,285.5 1971.74,284.66 1973.22,284.05 1974.77,283.68" fill="#ff8000" stroke="#ff8000" stroke-width="1.7" stroke-linejoin="miter"/>
<path d="M1842.06 173.3V172M1837.46 172H1846.66" stroke="#ff8000" stroke-width="1.7" fill="none"/>
<line x1="1841" y1="405.3" x2="1851" y2="405.3" stroke="#000" stroke-width="1.7"/>
<line x1="1881.5" y1="405.3" x2="1890.7" y2="405.3" stroke="#000" stroke-width="1.7"/>
<polygon points="1856.6,396.3 1874.6,396.3 1874.6,414.3 1856.6,414.3" fill="#fff" stroke="#000" stroke-width="1.7"/>
<text transform="translate(1895.3 412.3) scale(0.88 1)" x="-1.76" y="0" font-size="22" letter-spacing="1.643" fill="#1a1a1a" xml:space="preserve">DI water</text>
<line x1="1841" y1="431" x2="1851" y2="431" stroke="#008000" stroke-width="1.7"/>
<line x1="1881.5" y1="431" x2="1890.7" y2="431" stroke="#008000" stroke-width="1.7"/>
<circle cx="1865.6" cy="431" r="10.2" fill="#fff" stroke="#008000" stroke-width="1.7"/>
<text transform="translate(1895.3 438) scale(0.88 1)" x="-1.76" y="0" font-size="22" letter-spacing="2.195" fill="#1a1a1a" xml:space="preserve">E<tspan dx="2.27">70</tspan></text>
<line x1="1841" y1="457.3" x2="1851" y2="457.3" stroke="#ff0000" stroke-width="1.7"/>
<line x1="1881.5" y1="457.3" x2="1890.7" y2="457.3" stroke="#ff0000" stroke-width="1.7"/>
<circle cx="1865.6" cy="457.3" r="10.2" fill="#fff" stroke="#ff0000" stroke-width="1.7"/><polygon points="1865.6,447.1 1867.2,447.23 1868.75,447.6 1870.23,448.21 1871.6,449.05 1872.81,450.09 1873.85,451.3 1874.69,452.67 1875.3,454.15 1875.67,455.7 1875.8,457.3 1875.8,457.3 1855.4,457.3 1855.4,457.3 1855.53,455.7 1855.9,454.15 1856.51,452.67 1857.35,451.3 1858.39,450.09 1859.6,449.05 1860.97,448.21 1862.45,447.6 1864,447.23" fill="#ff0000" stroke="#ff0000" stroke-width="1.7" stroke-linejoin="miter"/>
<text transform="translate(1895.3 464.3) scale(0.88 1)" x="-1.76" y="0" font-size="22" letter-spacing="1.375" fill="#1a1a1a" xml:space="preserve">E<tspan dx="2.27">70S1</tspan></text>
<line x1="1841" y1="484" x2="1851" y2="484" stroke="#0000a0" stroke-width="1.7"/>
<line x1="1881.5" y1="484" x2="1890.7" y2="484" stroke="#0000a0" stroke-width="1.7"/>
<circle cx="1865.6" cy="484" r="10.2" fill="#fff" stroke="#0000a0" stroke-width="1.7"/><polygon points="1875.8,484 1875.8,484 1875.67,485.6 1875.3,487.15 1874.69,488.63 1873.85,490 1872.81,491.21 1871.6,492.25 1870.23,493.09 1868.75,493.7 1867.2,494.07 1865.6,494.2 1864,494.07 1862.45,493.7 1860.97,493.09 1859.6,492.25 1858.39,491.21 1857.35,490 1856.51,488.63 1855.9,487.15 1855.53,485.6 1855.4,484 1855.4,484" fill="#0000a0" stroke="#0000a0" stroke-width="1.7" stroke-linejoin="miter"/>
<text transform="translate(1895.3 491) scale(0.88 1)" x="-1.76" y="0" font-size="22" letter-spacing="1.378" fill="#1a1a1a" xml:space="preserve">E<tspan dx="2.27">70S2.5</tspan></text>
<line x1="1841" y1="509.4" x2="1851" y2="509.4" stroke="#ff8000" stroke-width="1.7"/>
<line x1="1881.5" y1="509.4" x2="1890.7" y2="509.4" stroke="#ff8000" stroke-width="1.7"/>
<circle cx="1865.6" cy="509.4" r="10.2" fill="#fff" stroke="#ff8000" stroke-width="1.7"/><polygon points="1865.6,499.2 1865.6,499.2 1865.6,519.6 1865.6,519.6 1864,519.47 1862.45,519.1 1860.97,518.49 1859.6,517.65 1858.39,516.61 1857.35,515.4 1856.51,514.03 1855.9,512.55 1855.53,511 1855.4,509.4 1855.53,507.8 1855.9,506.25 1856.51,504.77 1857.35,503.4 1858.39,502.19 1859.6,501.15 1860.97,500.31 1862.45,499.7 1864,499.33" fill="#ff8000" stroke="#ff8000" stroke-width="1.7" stroke-linejoin="miter"/>
<text transform="translate(1895.3 516.4) scale(0.88 1)" x="-1.76" y="0" font-size="22" letter-spacing="1.347" fill="#1a1a1a" xml:space="preserve">E<tspan dx="2.27">70S5</tspan></text>
</g>
<line x1="1842.06" y1="534.4" x2="1842.06" y2="527.6" stroke="#000" stroke-width="1.6"/>
<text x="1833.67" y="564.5" font-size="27" textLength="15.02" lengthAdjust="spacingAndGlyphs" fill="#1a1a1a" xml:space="preserve">0</text>
<line x1="1886.83" y1="534.4" x2="1886.83" y2="527.6" stroke="#000" stroke-width="1.6"/>
<text x="1870.4" y="564.5" font-size="27" textLength="30.03" lengthAdjust="spacingAndGlyphs" fill="#1a1a1a" xml:space="preserve">10</text>
<line x1="1931.6" y1="534.4" x2="1931.6" y2="527.6" stroke="#000" stroke-width="1.6"/>
<text x="1915.51" y="564.5" font-size="27" textLength="30.03" lengthAdjust="spacingAndGlyphs" fill="#1a1a1a" xml:space="preserve">20</text>
<line x1="1976.37" y1="534.4" x2="1976.37" y2="527.6" stroke="#000" stroke-width="1.6"/>
<text x="1960.42" y="564.5" font-size="27" textLength="30.03" lengthAdjust="spacingAndGlyphs" fill="#1a1a1a" xml:space="preserve">30</text>
<path d="M1819.16 515.99h7.9M1819.16 505.23h7.9M1819.16 497.59h7.9M1819.16 491.66h7.9M1819.16 486.82h7.9M1819.16 482.73h7.9M1819.16 479.18h7.9M1819.16 476.05h7.9M1819.16 454.85h7.9M1819.16 444.08h7.9M1819.16 436.45h7.9M1819.16 430.52h7.9M1819.16 425.68h7.9M1819.16 421.59h7.9M1819.16 418.04h7.9M1819.16 414.91h7.9M1819.16 393.71h7.9M1819.16 382.94h7.9M1819.16 375.3h7.9M1819.16 369.38h7.9M1819.16 364.54h7.9M1819.16 360.44h7.9M1819.16 356.9h7.9M1819.16 353.77h7.9M1819.16 332.57h7.9M1819.16 321.8h7.9M1819.16 314.16h7.9M1819.16 308.23h7.9M1819.16 303.39h7.9M1819.16 299.3h7.9M1819.16 295.75h7.9M1819.16 292.63h7.9M1819.16 271.42h7.9M1819.16 260.66h7.9M1819.16 253.02h7.9M1819.16 247.09h7.9M1819.16 242.25h7.9M1819.16 238.16h7.9M1819.16 234.61h7.9M1819.16 231.48h7.9M1819.16 210.28h7.9M1819.16 199.51h7.9M1819.16 191.87h7.9M1819.16 185.95h7.9M1819.16 181.11h7.9M1819.16 177.01h7.9M1819.16 173.47h7.9M1819.16 170.34h7.9M1819.16 149.14h7.9M1819.16 138.37h7.9M1819.16 130.73h7.9M1819.16 124.81h7.9M1819.16 119.96h7.9M1819.16 115.87h7.9M1819.16 112.33h7.9M1819.16 109.2h7.9" stroke="#000" stroke-width="1.7" fill="none"/>
<path d="M1819.16 473.56h10M1819.16 412.41h10M1819.16 351.27h10M1819.16 290.13h10M1819.16 228.99h10M1819.16 167.84h10" stroke="#000" stroke-width="2.4" fill="none"/>
<line x1="1819.16" y1="106.4" x2="1819.16" y2="534.4" stroke="#000" stroke-width="3.2"/>
<rect x="1105.4" y="106.4" width="892.2" height="428" fill="none" stroke="#000" stroke-width="1.9"/>
<defs><filter id="b1" x="-20%" y="-20%" width="140%" height="140%"><feGaussianBlur stdDeviation="4"/></filter><filter id="b2" x="-30%" y="-30%" width="160%" height="160%"><feGaussianBlur stdDeviation="9"/></filter><filter id="b3" x="-40%" y="-40%" width="180%" height="180%"><feGaussianBlur stdDeviation="20"/></filter><filter id="cl" x="-20%" y="-20%" width="140%" height="140%"><feTurbulence type="fractalNoise" baseFrequency="0.014" numOctaves="3" seed="5" result="t"/><feDisplacementMap in="SourceGraphic" in2="t" scale="70" xChannelSelector="R" yChannelSelector="G" result="d"/><feGaussianBlur in="d" stdDeviation="6" result="db"/><feTurbulence type="fractalNoise" baseFrequency="0.011" numOctaves="2" seed="11" result="t2"/><feColorMatrix in="t2" type="matrix" values="0 0 0 0 0  0 0 0 0 0  0 0 0 0 0  1.5 0 0 0 -0.52" result="m"/><feComposite in="m" in2="db" operator="in" result="mm"/><feMerge><feMergeNode in="db"/><feMergeNode in="mm"/></feMerge></filter><filter id="nz" x="0" y="0" width="100%" height="100%"><feTurbulence type="fractalNoise" baseFrequency="0.42" numOctaves="2" seed="7"/><feColorMatrix type="matrix" values="0 0 0 0 0  0 0 0 0 0  0 0 0 0 0  0.17 0.17 0 0 -0.145"/></filter></defs>
<text x="112.34" y="686.9" font-size="40.5" textLength="196.52" lengthAdjust="spacingAndGlyphs" fill="#000" style="font-weight:bold;font-style:italic" xml:space="preserve">C. difficile</text>
<text x="497" y="685.9" font-size="40.8" textLength="57.66" lengthAdjust="spacingAndGlyphs" fill="#000" style="font-weight:bold" xml:space="preserve">I70</text>
<text x="877.54" y="685.9" font-size="40.8" textLength="107.02" lengthAdjust="spacingAndGlyphs" fill="#000" style="font-weight:bold" xml:space="preserve">I70S5</text>
<text x="1261.11" y="685.9" font-size="40.8" textLength="73.62" lengthAdjust="spacingAndGlyphs" fill="#000" style="font-weight:bold" xml:space="preserve">E70</text>
<text x="1643.24" y="685.9" font-size="40.8" textLength="122.78" lengthAdjust="spacingAndGlyphs" fill="#000" style="font-weight:bold" xml:space="preserve">E70S5</text>
<clipPath id="c0"><rect x="114.5" y="694" width="361.2" height="243"/></clipPath>
<g clip-path="url(#c0)"><rect x="113.5" y="693" width="363.2" height="245" fill="#f5f5f5"/><g transform="translate(105 685) scale(0.26553)"><polygon points="40,735 200,748 370,718 420,800 410,945 40,945" fill="#bababa" filter="url(#b2)" stroke-linejoin="round"/><polygon points="40,780 200,790 300,945 40,945" fill="#969696" opacity="0.9" filter="url(#b3)" stroke-linejoin="round"/><circle cx="55" cy="915" r="70" fill="#505050" opacity="0.85" filter="url(#b3)"/><polygon points="60,640 120,600 540,540 545,580 420,670 200,735 50,720" fill="#c0c0c0" filter="url(#b2)" stroke-linejoin="round"/><polygon points="300,640 520,560 545,580 440,660" fill="#aaaaaa" opacity="0.8" filter="url(#b2)" stroke-linejoin="round"/><polyline points="180,742 260,725 340,700" fill="none" stroke="#fcfcfc" stroke-width="5" filter="url(#b1)" stroke-linecap="round" stroke-linejoin="round"/><ellipse cx="100" cy="52" rx="45" ry="14" fill="#b9b9b9" filter="url(#b2)"/><g fill="#dedede" opacity="0.9" filter="url(#cl)"><circle cx="1000" cy="250" r="40"/><circle cx="1060" cy="300" r="40"/><circle cx="1130" cy="285" r="35"/><circle cx="1200" cy="320" r="40"/><circle cx="1260" cy="335" r="40"/><circle cx="1330" cy="300" r="45"/><circle cx="1375" cy="250" r="30"/><circle cx="1300" cy="400" r="35"/><circle cx="1350" cy="470" r="45"/><circle cx="1380" cy="560" r="40"/><circle cx="1310" cy="560" r="40"/><circle cx="1290" cy="500" r="30"/><circle cx="900" cy="345" r="25"/><circle cx="1230" cy="420" r="35"/><circle cx="1180" cy="380" r="30"/><circle cx="1080" cy="240" r="30"/><circle cx="950" cy="280" r="30"/></g><g fill="#a0a0a0" opacity="0.7" filter="url(#b2)"><circle cx="1320" cy="330" r="20"/><circle cx="1290" cy="350" r="15"/><circle cx="1365" cy="300" r="18"/><circle cx="1360" cy="520" r="25"/><circle cx="1380" cy="260" r="20"/></g><g fill="#c8c8c8" opacity="0.9" filter="url(#b2)"><circle cx="620" cy="415" r="30"/><circle cx="650" cy="500" r="38"/><circle cx="690" cy="525" r="30"/><circle cx="600" cy="380" r="20"/></g><g fill="#dcdcdc" opacity="0.9" filter="url(#cl)"><circle cx="900" cy="625" r="40"/><circle cx="960" cy="640" r="35"/><circle cx="1050" cy="600" r="45"/><circle cx="1120" cy="570" r="40"/><circle cx="880" cy="680" r="28"/><circle cx="1000" cy="570" r="40"/><circle cx="830" cy="600" r="30"/><circle cx="1150" cy="540" r="30"/></g><g fill="#f5f5f5" filter="url(#b1)"><circle cx="940" cy="600" r="12"/><circle cx="1010" cy="590" r="10"/><circle cx="900" cy="640" r="10"/></g><ellipse cx="1360" cy="905" rx="55" ry="48" fill="#5f5f5f" filter="url(#b2)"/><ellipse cx="1355" cy="900" rx="36" ry="28" fill="#141414" filter="url(#b1)"/><polygon points="535.4,434.6 540.2,456.3 537.8,472.4 529.9,487.7 516.7,502.7 498.3,517.7 474.6,532.5 445.2,547.4 408.6,562.9 351.4,583.6 293.6,602.5 255.2,612.9 222.8,619.2 195,622.1 171.3,621.7 151.7,617.9 136,610.8 124.2,599.6 114.6,579.4 109.8,557.7 112.2,541.6 120.1,526.3 133.3,511.3 151.7,496.3 175.4,481.5 204.8,466.6 241.4,451.1 298.6,430.4 356.4,411.5 394.8,401.1 427.2,394.8 455,391.9 478.7,392.3 498.3,396.1 514,403.2 525.8,414.4" fill="#5c5c5c" stroke="#282828" stroke-width="9" filter="url(#b1)"/><polygon points="525.9,437.8 530,457 527.3,471.3 519.4,485 506.6,498.6 488.8,512.2 466,525.9 437.8,539.9 402.8,554.5 348.1,574.1 292.9,592.3 256.3,602.4 225.5,608.7 199.1,612 176.7,612.2 158.2,609.4 143.6,603.4 132.7,593.8 124.1,576.2 120,557 122.7,542.7 130.6,529 143.4,515.4 161.2,501.8 184,488.1 212.2,474.1 247.2,459.5 301.9,439.9 357.1,421.7 393.7,411.6 424.5,405.3 450.9,402 473.3,401.8 491.8,404.6 506.4,410.6 517.3,420.2" fill="none" stroke="#3c3c3c" stroke-width="20" opacity="0.5" filter="url(#b2)"/><polygon points="500.2,443.4 502.3,455.7 499.1,465.3 491.8,474.8 480.3,484.6 464.7,494.7 445,505.2 420.9,516.2 391,528 344.7,544.5 298,560.1 267.1,569.1 241.3,575.3 219.3,579.2 200.9,580.8 185.8,580.1 174.1,577.2 165.7,571.6 159.8,560.6 157.7,548.3 160.9,538.7 168.2,529.2 179.7,519.4 195.3,509.3 215,498.8 239.1,487.8 269,476 315.3,459.5 362,443.9 392.9,434.9 418.7,428.7 440.7,424.8 459.1,423.2 474.2,423.9 485.9,426.8 494.3,432.4" fill="#6c6c6c" opacity="0.8" filter="url(#b3)"/><polygon points="1188.8,416 1190,434.6 1184.3,450.2 1172.4,465.3 1154.6,480 1131,494.3 1102,508 1067.5,521 1026.9,533.4 972.8,547 918.2,558.6 876.2,565.2 839.5,568.6 807.4,569 780,566.5 757.5,561.1 740.2,552.7 728.2,541.2 721.2,524 720,505.4 725.7,489.8 737.6,474.7 755.4,460 779,445.7 808,432 842.5,419 883.1,406.6 937.2,393 991.8,381.4 1033.8,374.8 1070.5,371.4 1102.6,371 1130,373.5 1152.5,378.9 1169.8,387.3 1181.8,398.8" fill="#5c5c5c" stroke="#282828" stroke-width="8" filter="url(#b1)"/><polygon points="1179.1,418.3 1180.8,437.2 1176,451 1165.7,463.7 1150.1,476 1129.3,487.9 1103.1,499.5 1071.1,510.8 1031.6,522.3 970.5,537.2 909.1,550.6 868.6,557.6 834.8,561.4 806.2,562.5 782.2,560.9 762.8,556.7 748,549.8 737.7,539.5 730.9,521.7 729.2,502.8 734,489 744.3,476.3 759.9,464 780.7,452.1 806.9,440.5 838.9,429.2 878.4,417.7 939.5,402.8 1000.9,389.4 1041.4,382.4 1075.2,378.6 1103.8,377.5 1127.8,379.1 1147.2,383.3 1162,390.2 1172.3,400.5" fill="none" stroke="#3c3c3c" stroke-width="20" opacity="0.5" filter="url(#b2)"/><polygon points="1150,426.1 1150.5,438 1145.8,446.8 1136.5,455.3 1122.9,463.8 1104.8,472.4 1082.3,481 1055,489.7 1021.4,499 969.6,511.4 917.5,522.9 883.3,529.4 854.9,533.5 830.9,535.6 810.9,535.9 794.9,534.2 782.9,530.6 774.8,524.7 770,513.9 769.5,502 774.2,493.2 783.5,484.7 797.1,476.2 815.2,467.6 837.7,459 865,450.3 898.6,441 950.4,428.6 1002.5,417.1 1036.7,410.6 1065.1,406.5 1089.1,404.4 1109.1,404.1 1125.1,405.8 1137.1,409.4 1145.2,415.3" fill="#6c6c6c" opacity="0.8" filter="url(#b3)"/><polyline points="740,450 900,400 1150,372" fill="none" stroke="#1e1e1e" stroke-width="6" opacity="0.8" filter="url(#b1)" stroke-linecap="round" stroke-linejoin="round"/><polygon points="816.7,724.7 802.9,741.7 790.7,750.7 777.5,755.7 762.7,757.3 746.5,755.7 728.6,750.8 708.9,742.5 686.5,730.1 654.1,708.5 622.7,685.4 603.5,668.7 588.9,653 578.2,637.9 571.1,623.1 567.6,608.7 567.8,594.5 572,580.1 583.3,561.3 597.1,544.3 609.3,535.3 622.5,530.3 637.3,528.7 653.5,530.3 671.4,535.2 691.1,543.5 713.5,555.9 745.9,577.5 777.3,600.6 796.5,617.3 811.1,633 821.8,648.1 828.9,662.9 832.4,677.3 832.2,691.5 828,705.9" fill="#606060" stroke="#262626" stroke-width="9" filter="url(#b1)"/><polygon points="808.5,719 796.3,733.8 785.5,741.5 773.5,745.6 760.2,746.7 745.3,744.8 728.9,740 710.7,732.1 690,720.5 659.8,700.3 630.6,678.9 612.6,663.4 599,649.1 588.8,635.3 582,621.9 578.4,609 578.2,596.3 581.7,583.5 591.5,567 603.7,552.2 614.5,544.5 626.5,540.4 639.8,539.3 654.7,541.2 671.1,546 689.3,553.9 710,565.5 740.2,585.7 769.4,607.1 787.4,622.6 801,636.9 811.2,650.7 818,664.1 821.6,677 821.8,689.7 818.3,702.5" fill="none" stroke="#373737" stroke-width="20" opacity="0.5" filter="url(#b2)"/><polygon points="777.8,697.5 769.9,707 762.7,711.7 754.5,714 745.3,714.3 734.9,712.5 723.4,708.7 710.5,702.8 695.8,694.3 674.2,679.9 653.2,664.5 640.2,653.6 630.2,643.5 622.7,634 617.5,624.8 614.6,616.1 614,607.6 616,599.2 622.2,588.5 630.1,579 637.3,574.3 645.5,572 654.7,571.7 665.1,573.5 676.6,577.3 689.5,583.2 704.2,591.7 725.8,606.1 746.8,621.5 759.8,632.4 769.8,642.5 777.3,652 782.5,661.2 785.4,669.9 786,678.4 784,686.8" fill="#6a6a6a" opacity="0.8" filter="url(#b3)"/></g><rect x="113.5" y="693" width="363.2" height="245" filter="url(#nz)"/></g>
<rect x="115.2" y="694.7" width="359.8" height="241.6" fill="none" stroke="#000" stroke-width="3.4"/>
<clipPath id="c1"><rect x="499.8" y="694" width="361.7" height="243"/></clipPath>
<g clip-path="url(#c1)"><rect x="498.8" y="693" width="363.7" height="245" fill="#f5f5f5"/><g transform="translate(490 685) scale(0.26553)"><polygon points="630,40 1010,40 1100,110 1185,195 1190,240 1140,245 1080,225 930,265 830,285 720,215 680,130" fill="#464646" filter="url(#cl)" stroke-linejoin="round"/><polyline points="690,80 760,170 880,235 960,240" fill="none" stroke="#2d2d2d" stroke-width="40" opacity="0.9" filter="url(#b3)" stroke-linecap="round" stroke-linejoin="round"/><polygon points="1126,208.8 1119.4,220.2 1111.1,225.9 1099.9,228.9 1085.8,229.5 1068.7,227.7 1048.6,223.6 1025.1,217 997.2,207.4 955.2,191 913.6,173.6 886.9,161.1 865.5,149.6 848.1,138.6 834.6,128 824.8,117.8 818.9,107.9 816.9,97.9 820,85.2 826.6,73.8 834.9,68.1 846.1,65.1 860.2,64.5 877.3,66.3 897.4,70.4 920.9,77 948.8,86.6 990.8,103 1032.4,120.4 1059.1,132.9 1080.5,144.4 1097.9,155.4 1111.4,166 1121.2,176.2 1127.1,186.1 1129.1,196.1" fill="#707070" filter="url(#b2)"/><circle cx="1165" cy="212" r="28" fill="#787878" filter="url(#b2)"/><ellipse cx="1372" cy="118" rx="48" ry="72" fill="#3e3e3e" filter="url(#b2)"/><g fill="#707070" opacity="0.95" filter="url(#cl)"><circle cx="1370" cy="520" r="50"/><circle cx="1380" cy="620" r="50"/><circle cx="1350" cy="700" r="50"/><circle cx="1300" cy="640" r="40"/><circle cx="1250" cy="620" r="40"/><circle cx="1390" cy="760" r="40"/></g><g fill="#d7d7d7" filter="url(#b2)"><circle cx="1200" cy="730" r="30"/><circle cx="1250" cy="700" r="20"/></g><polygon points="835,560 900,520 1000,420 1150,370 1245,385 1250,480 1215,600 1150,700 1060,790 960,820 880,790 835,690" fill="#707070" filter="url(#cl)" stroke-linejoin="round"/><polygon points="1233.6,392.4 1250.2,412.6 1256.9,429.8 1258,448.4 1254.1,468.7 1245.3,491 1231.5,515.3 1212.4,541.9 1186.9,571.9 1145.2,615.2 1101.9,656.9 1071.9,682.4 1045.3,701.5 1021,715.3 998.7,724.1 978.4,728 959.8,726.9 942.6,720.2 922.4,703.6 905.8,683.4 899.1,666.2 898,647.6 901.9,627.3 910.7,605 924.5,580.7 943.6,554.1 969.1,524.1 1010.8,480.8 1054.1,439.1 1084.1,413.6 1110.7,394.5 1135,380.7 1157.3,371.9 1177.6,368 1196.2,369.1 1213.4,375.8" fill="#3c3c3c" filter="url(#b2)"/><polyline points="940,600 1010,480 1130,400" fill="none" stroke="#1e1e1e" stroke-width="22" opacity="0.9" filter="url(#b2)" stroke-linecap="round" stroke-linejoin="round"/><polygon points="1205.2,452.3 1213,463.6 1215.1,473.7 1213.6,485 1208.7,497.6 1200.5,511.7 1189,527.3 1174,544.6 1154.6,564.4 1123.5,593.2 1091.6,621.1 1069.9,638.3 1051.1,651.5 1034.4,661.3 1019.6,667.9 1006.5,671.5 995.1,671.8 985.3,668.7 974.8,659.7 967,648.4 964.9,638.3 966.4,627 971.3,614.4 979.5,600.3 991,584.7 1006,567.4 1025.4,547.6 1056.5,518.8 1088.4,490.9 1110.1,473.7 1128.9,460.5 1145.6,450.7 1160.4,444.1 1173.5,440.5 1184.9,440.2 1194.7,443.3" fill="#6c6c6c" filter="url(#b2)"/><polygon points="1171.7,482.4 1175.4,488.3 1175.6,494.1 1173.5,501 1169.2,509 1162.7,518.2 1154,528.7 1142.9,540.5 1128.9,554.2 1106.7,574.6 1084.2,594.5 1069.1,607 1056.1,616.7 1044.8,624.3 1035,629.8 1026.5,633.3 1019.5,634.7 1013.7,633.9 1008.3,629.6 1004.6,623.7 1004.4,617.9 1006.5,611 1010.8,603 1017.3,593.8 1026,583.3 1037.1,571.5 1051.1,557.8 1073.3,537.4 1095.8,517.5 1110.9,505 1123.9,495.3 1135.2,487.7 1145,482.2 1153.5,478.7 1160.5,477.3 1166.3,478.1" fill="#848484" opacity="0.8" filter="url(#b3)"/><circle cx="1190" cy="395" r="16" fill="#b4b4b4" filter="url(#b2)"/><polygon points="1325.9,660.2 1347.5,674.4 1358.9,688.6 1365.4,705.8 1367.7,726 1365.9,749.4 1360,776.1 1349.9,806.4 1334.7,841.7 1308,894.1 1279.5,945.5 1258.7,977.9 1239.2,1003.3 1220.4,1023.1 1202,1037.6 1183.9,1047.1 1166.1,1051.2 1147.9,1049.8 1124.1,1039.8 1102.5,1025.6 1091.1,1011.4 1084.6,994.2 1082.3,974 1084.1,950.6 1090,923.9 1100.1,893.6 1115.3,858.3 1142,805.9 1170.5,754.5 1191.3,722.1 1210.8,696.7 1229.6,676.9 1248,662.4 1266.1,652.9 1283.9,648.8 1302.1,650.2" fill="#5c5c5c" stroke="#2d2d2d" stroke-width="10" filter="url(#b1)"/><polygon points="1285.4,717.6 1295.5,724.8 1300.2,733.1 1302.1,743.6 1301.4,756.5 1298.4,771.9 1292.9,789.7 1284.8,810.4 1273.5,834.7 1254.7,871.1 1235,907.1 1221.1,930 1208.6,948.2 1196.9,962.8 1185.8,973.9 1175.5,981.7 1165.7,986 1156.2,986.7 1144.6,982.4 1134.5,975.2 1129.8,966.9 1127.9,956.4 1128.6,943.5 1131.6,928.1 1137.1,910.3 1145.2,889.6 1156.5,865.3 1175.3,828.9 1195,792.9 1208.9,770 1221.4,751.8 1233.1,737.2 1244.2,726.1 1254.5,718.3 1264.3,714 1273.8,713.3" fill="#666666" opacity="0.8" filter="url(#b3)"/><polygon points="1349.5,762.8 1351.3,765.1 1351.3,769.7 1350,777 1347.6,786.9 1344,799.5 1339.2,814.7 1333.2,832.8 1325.5,854.6 1313.5,888.1 1301.2,921.4 1293,943.1 1286,960.9 1279.9,975.6 1274.6,987.5 1270.1,996.7 1266.4,1003 1263.4,1006.6 1260.5,1007.2 1258.7,1004.9 1258.7,1000.3 1260,993 1262.4,983.1 1266,970.5 1270.8,955.3 1276.8,937.2 1284.5,915.4 1296.5,881.9 1308.8,848.6 1317,826.9 1324,809.1 1330.1,794.4 1335.4,782.5 1339.9,773.3 1343.6,767 1346.6,763.4" fill="#a5a5a5" opacity="0.8" filter="url(#b2)"/><polygon points="463.2,687.4 441.1,699.4 424.6,704 409,704.4 393.5,701 378.2,693.8 362.9,682.9 347.5,668 331.4,648.1 310,615.8 290.3,582.3 279.5,559.2 272.8,538.8 269.7,520.2 270,503.3 273.7,487.9 280.9,474 292.3,461.3 312.8,446.6 334.9,434.6 351.4,430 367,429.6 382.5,433 397.8,440.2 413.1,451.1 428.5,466 444.6,485.9 466,518.2 485.7,551.7 496.5,574.8 503.2,595.2 506.3,613.8 506,630.7 502.3,646.1 495.1,660 483.7,672.7" fill="#6a6a6a" stroke="#181818" stroke-width="19" filter="url(#b1)"/><polygon points="459.5,681.5 439,692.5 423.8,696.7 409.2,696.9 394.8,693.4 380.4,686.5 366,676 351.5,661.7 336.3,642.8 315.9,612 297.2,580.2 286.8,558.3 280.4,539 277.3,521.4 277.3,505.5 280.6,491 287.1,478 297.6,466.1 316.5,452.5 337,441.5 352.2,437.3 366.8,437.1 381.2,440.6 395.6,447.5 410,458 424.5,472.3 439.7,491.2 460.1,522 478.8,553.8 489.2,575.7 495.6,595 498.7,612.6 498.7,628.5 495.4,643 488.9,656 478.4,667.9" fill="none" stroke="#3c3c3c" stroke-width="22" opacity="0.5" filter="url(#b2)"/><polygon points="438.3,647.6 426.2,653.9 416.9,655.9 407.9,655.3 398.8,652.2 389.5,646.8 380,639 370.2,628.7 359.8,615.2 345.6,593.5 332.3,571.2 324.8,555.9 319.8,542.6 316.9,530.7 316.1,520 317.4,510.4 320.8,502 326.6,494.6 337.7,486.4 349.8,480.1 359.1,478.1 368.1,478.7 377.2,481.8 386.5,487.2 396,495 405.8,505.3 416.2,518.8 430.4,540.5 443.7,562.8 451.2,578.1 456.2,591.4 459.1,603.3 459.9,614 458.6,623.6 455.2,632 449.4,639.4" fill="#787878" filter="url(#b3)"/><polygon points="614.3,270.5 638.7,274.5 654.2,282.5 666.6,294.9 676.5,311.7 684,332.7 689.3,358.3 692.2,388.6 692.7,425.3 689.8,481.3 684.9,537.1 679.3,573.4 672.1,603 663.4,627.6 653,647.4 640.9,662.6 626.9,673.1 610.4,678.9 585.7,679.5 561.3,675.5 545.8,667.5 533.4,655.1 523.5,638.3 516,617.3 510.7,591.7 507.8,561.4 507.3,524.7 510.2,468.7 515.1,412.9 520.7,376.6 527.9,347 536.6,322.4 547,302.6 559.1,287.4 573.1,276.9 589.6,271.1" fill="#6c6c6c" stroke="#181818" stroke-width="19" filter="url(#b1)"/><polygon points="613.8,278 636.3,281.8 650.6,289.5 661.9,301.4 671,317.5 677.9,337.7 682.7,362.3 685.3,391.5 685.6,426.9 682.8,480.8 678.1,534.6 672.8,569.5 666.2,598.1 658,621.8 648.4,640.9 637.2,655.6 624.2,665.8 609,671.4 586.2,672 563.7,668.2 549.4,660.5 538.1,648.6 529,632.5 522.1,612.3 517.3,587.7 514.7,558.5 514.4,523.1 517.2,469.2 521.9,415.4 527.2,380.5 533.8,351.9 542,328.2 551.6,309.1 562.8,294.4 575.8,284.2 591,278.6" fill="none" stroke="#3c3c3c" stroke-width="22" opacity="0.5" filter="url(#b2)"/><polygon points="610.5,325.4 623.3,328 631.4,333.6 637.8,342.5 642.7,354.6 646.4,369.9 648.9,388.4 650,410.6 649.7,437.4 647.4,478.3 644,519.2 640.5,545.8 636.3,567.5 631.4,585.6 625.6,600.2 619,611.5 611.4,619.4 602.6,623.9 589.5,624.6 576.7,622 568.6,616.4 562.2,607.5 557.3,595.4 553.6,580.1 551.1,561.6 550,539.4 550.3,512.6 552.6,471.7 556,430.8 559.5,404.2 563.7,382.5 568.6,364.4 574.4,349.8 581,338.5 588.6,330.6 597.4,326.1" fill="#7c7c7c" filter="url(#b3)"/><ellipse cx="495" cy="545" rx="22" ry="60" fill="#1e1e1e" filter="url(#b2)"/></g><rect x="498.8" y="693" width="363.7" height="245" filter="url(#nz)"/></g>
<rect x="500.5" y="694.7" width="360.3" height="241.6" fill="none" stroke="#000" stroke-width="3.4"/>
<clipPath id="c2"><rect x="883.8" y="696.1" width="359.6" height="240.9"/></clipPath>
<g clip-path="url(#c2)"><rect x="882.8" y="695.1" width="361.6" height="242.9" fill="#f5f5f5"/><g transform="translate(874 685) scale(0.26553)"><polygon points="45,450 80,470 150,430 180,400 220,420 250,470 300,455 380,470 430,430 470,380 500,330 480,260 470,180 500,135 540,150 580,190 640,180 720,190 790,220 830,300 830,370 900,340 970,310 1020,300 1050,240 1040,180 1000,100 1010,50 1140,50 1150,120 1190,180 1210,260 1230,310 1270,230 1290,180 1340,190 1330,260 1280,340 1240,400 1200,470 1150,520 1050,530 980,560 950,640 930,720 880,780 800,780 760,720 700,710 620,640 560,650 480,680 420,700 400,780 370,800 340,740 250,720 200,770 100,790 45,750" fill="#a8a8a8" filter="url(#cl)" stroke-linejoin="round"/><g fill="#bebebe" opacity="0.85" filter="url(#b3)"><circle cx="300" cy="660" r="55"/><circle cx="380" cy="720" r="40"/><circle cx="120" cy="740" r="55"/><circle cx="220" cy="720" r="50"/><circle cx="850" cy="720" r="50"/><circle cx="920" cy="650" r="40"/><circle cx="760" cy="680" r="50"/><circle cx="1290" cy="250" r="40"/><circle cx="450" cy="420" r="30"/><circle cx="1150" cy="420" r="45"/><circle cx="1080" cy="460" r="40"/></g><g fill="#6c6c6c" opacity="0.85" filter="url(#b3)"><circle cx="900" cy="450" r="80"/><circle cx="1000" cy="420" r="70"/><circle cx="1100" cy="400" r="60"/><circle cx="860" cy="560" r="70"/><circle cx="1080" cy="130" r="60"/><circle cx="1110" cy="240" r="70"/><circle cx="1070" cy="310" r="50"/><circle cx="960" cy="360" r="50"/><circle cx="1160" cy="330" r="40"/></g><g fill="#505050" opacity="0.8" filter="url(#b3)"><circle cx="1130" cy="260" r="40"/><circle cx="900" cy="380" r="45"/><circle cx="1090" cy="110" r="35"/><circle cx="1000" cy="330" r="30"/></g><g fill="#acacac" opacity="0.8" filter="url(#b3)"><circle cx="1100" cy="440" r="35"/><circle cx="1010" cy="490" r="35"/><circle cx="820" cy="620" r="40"/><circle cx="1180" cy="440" r="30"/></g><ellipse cx="150" cy="560" rx="105" ry="115" fill="#707070" filter="url(#b2)"/><ellipse cx="140" cy="540" rx="60" ry="60" fill="#878787" opacity="0.8" filter="url(#b3)"/><polyline points="55,650 120,680 190,650 240,590" fill="none" stroke="#262626" stroke-width="28" filter="url(#b2)" stroke-linecap="round" stroke-linejoin="round"/><g fill="#505050" opacity="0.9" filter="url(#b3)"><circle cx="310" cy="510" r="55"/><circle cx="330" cy="580" r="40"/></g><circle cx="510" cy="180" r="45" fill="#8c8c8c" filter="url(#b2)"/><g fill="#3c3c3c" filter="url(#b3)"><circle cx="660" cy="300" r="115"/><circle cx="700" cy="390" r="95"/><circle cx="600" cy="260" r="65"/><circle cx="760" cy="270" r="60"/><circle cx="590" cy="350" r="65"/></g><g fill="#262626" opacity="0.8" filter="url(#b3)"><circle cx="630" cy="270" r="45"/><circle cx="700" cy="420" r="45"/><circle cx="560" cy="330" r="40"/></g><polygon points="549.2,399.8 572,413.7 585,426.3 593.8,440.3 598.9,456.1 600.6,473.7 598.8,493.2 593.5,514.9 584,539.7 566.1,575.8 546.2,610.9 530.9,632.5 515.9,649.1 500.7,661.4 485.2,669.9 469.3,674.5 452.8,675 435.1,671.3 410.8,660.2 388,646.3 375,633.7 366.2,619.7 361.1,603.9 359.4,586.3 361.2,566.8 366.5,545.1 376,520.3 393.9,484.2 413.8,449.1 429.1,427.5 444.1,410.9 459.3,398.6 474.8,390.1 490.7,385.5 507.2,385 524.9,388.7" fill="#2a2a2a" filter="url(#b2)"/><polygon points="529.9,444.9 539.1,450.9 544.1,456.8 547,463.8 548.2,471.9 547.8,481.3 545.6,492 541.8,504 535.8,518 525.3,538.8 514,559.1 505.7,571.8 497.9,581.8 490.2,589.5 482.7,595.1 475.3,598.7 467.8,600.2 460.2,599.3 450.1,595.1 440.9,589.1 435.9,583.2 433,576.2 431.8,568.1 432.2,558.7 434.4,548 438.2,536 444.2,522 454.7,501.2 466,480.9 474.3,468.2 482.1,458.2 489.8,450.5 497.3,444.9 504.7,441.3 512.2,439.8 519.8,440.7" fill="#484848" opacity="0.8" filter="url(#b3)"/><ellipse cx="712" cy="540" rx="30" ry="40" fill="#fcfcfc" filter="url(#b1)"/><polygon points="1363.3,334 1383.9,343.3 1396,353.1 1404.5,365.2 1410,379.6 1412.6,396.6 1412.4,416 1409.2,438.3 1402.7,464.4 1389.5,503.2 1374.6,541.4 1362.9,565.6 1351,584.7 1338.7,599.8 1325.8,611 1312.3,618.6 1298,622.4 1282.5,622.1 1260.7,616 1240.1,606.7 1228,596.9 1219.5,584.8 1214,570.4 1211.4,553.4 1211.6,534 1214.8,511.7 1221.3,485.6 1234.5,446.8 1249.4,408.6 1261.1,384.4 1273,365.3 1285.3,350.2 1298.2,339 1311.7,331.4 1326,327.6 1341.5,327.9" fill="#626262" stroke="#202020" stroke-width="14" filter="url(#b1)"/><polygon points="1354.2,386 1364.1,390.8 1369.6,396.4 1373.2,403.7 1375.2,412.7 1375.5,423.5 1374.3,436.1 1371.3,450.6 1366.5,467.8 1357.6,493.7 1347.8,519.2 1340.4,535.5 1333.3,548.5 1326.2,559 1319,567 1311.7,572.7 1304.3,575.9 1296.5,576.6 1285.8,574 1275.9,569.2 1270.4,563.6 1266.8,556.3 1264.8,547.3 1264.5,536.5 1265.7,523.9 1268.7,509.4 1273.5,492.2 1282.4,466.3 1292.2,440.8 1299.6,424.5 1306.7,411.5 1313.8,401 1321,393 1328.3,387.3 1335.7,384.1 1343.5,383.4" fill="#767676" opacity="0.8" filter="url(#b3)"/></g><rect x="882.8" y="695.1" width="361.6" height="242.9" filter="url(#nz)"/></g>
<rect x="884.5" y="696.8" width="358.2" height="239.5" fill="none" stroke="#000" stroke-width="3.4"/>
<clipPath id="c3"><rect x="1263.8" y="694" width="359.6" height="241.6"/></clipPath>
<g clip-path="url(#c3)"><rect x="1262.8" y="693" width="361.6" height="243.6" fill="#f5f5f5"/><g transform="translate(1254 685) scale(0.26553)"><polygon points="496.9,444.1 469.7,464.9 447.6,473.7 424.8,475.7 400.6,471.7 374.9,461.9 347.6,446.1 318.3,424.1 286,394.5 240.1,345.6 196.3,294.9 170.2,259.6 151.4,228.2 138.6,199.4 131.5,172.8 130,148.4 134.5,125.9 145.5,104.8 169.1,79.9 196.3,59.1 218.4,50.3 241.2,48.3 265.4,52.3 291.1,62.1 318.4,77.9 347.7,99.9 380,129.5 425.9,178.4 469.7,229.1 495.8,264.4 514.6,295.8 527.4,324.6 534.5,351.2 536,375.6 531.5,398.1 520.5,419.2" fill="#878787" filter="url(#b3)"/><polygon points="485.6,432.2 463.5,448.6 445.2,454.9 425.9,455.4 405,450.5 382.5,440.5 358.3,425.2 332,404.4 302.7,376.9 260.7,331.9 220.4,285.4 196,253.4 178.1,225.1 165.5,199.4 157.9,176 155.2,154.7 157.7,135.5 165.8,118 184.4,97.8 206.5,81.4 224.8,75.1 244.1,74.6 265,79.5 287.5,89.5 311.7,104.8 338,125.6 367.3,153.1 409.3,198.1 449.6,244.6 474,276.6 491.9,304.9 504.5,330.6 512.1,354 514.8,375.3 512.3,394.5 504.2,412" fill="#3a3a3a" filter="url(#b2)"/><polygon points="449.5,392.7 433.3,405.3 419.7,410.3 405.3,411.1 389.8,407.9 373.1,401 355,390.2 335.4,375.4 313.5,355.6 282.1,323.1 252,289.6 233.8,266.3 220.4,245.8 210.9,227 205.1,209.8 203,194.1 204.8,179.9 210.7,166.7 224.5,151.3 240.7,138.7 254.3,133.7 268.7,132.9 284.2,136.1 300.9,143 319,153.8 338.6,168.6 360.5,188.4 391.9,220.9 422,254.4 440.2,277.7 453.6,298.2 463.1,317 468.9,334.2 471,349.9 469.2,364.1 463.3,377.3" fill="none" stroke="#191919" stroke-width="18" opacity="0.9" filter="url(#b2)"/><polygon points="436,376.5 422.6,387.2 411.2,391.5 399.1,392.1 385.8,389.4 371.4,383.5 355.8,374.4 338.8,361.8 319.6,345 292,317.4 265.5,288.9 249.4,269.2 237.3,251.7 228.7,235.7 223.3,221.2 221.1,207.8 222.2,195.7 226.8,184.5 238,171.5 251.4,160.8 262.8,156.5 274.9,155.9 288.2,158.6 302.6,164.5 318.2,173.6 335.2,186.2 354.4,203 382,230.6 408.5,259.1 424.6,278.8 436.7,296.3 445.3,312.3 450.7,326.8 452.9,340.2 451.8,352.3 447.2,363.5" fill="#8c8c8c" filter="url(#b2)"/><polygon points="406.5,345.9 398.8,351.8 392,353.7 384.4,353.2 375.9,350.6 366.4,345.8 355.9,338.9 344.3,329.7 331.1,317.7 311.8,298.3 293.1,278.4 281.6,264.7 272.8,252.8 266.3,242.1 261.8,232.5 259.5,223.9 259.3,216.3 261.4,209.5 267.5,202.1 275.2,196.2 282,194.3 289.6,194.8 298.1,197.4 307.6,202.2 318.1,209.1 329.7,218.3 342.9,230.3 362.2,249.7 380.9,269.6 392.4,283.3 401.2,295.2 407.7,305.9 412.2,315.5 414.5,324.1 414.7,331.7 412.6,338.5" fill="#9b9b9b" opacity="0.7" filter="url(#b3)"/><circle cx="505" cy="385" r="55" fill="#202020" filter="url(#b2)"/><polyline points="115,170 125,250" fill="none" stroke="#fafafa" stroke-width="6" filter="url(#b1)" stroke-linecap="round" stroke-linejoin="round"/><polygon points="860,171 925,152 1057,265 1094,452 1104,687 1057,828 972,847 897,781 841,631 813,481 831,359" fill="#7d7d7d" filter="url(#b3)" stroke-linejoin="round"/><polygon points="890,260 940,240 1025,320 1060,460 1060,600 880,600 850,480 860,380" fill="#525252" opacity="0.9" filter="url(#b3)" stroke-linejoin="round"/><polygon points="998.5,823.7 969,823.9 949.3,818.4 932.6,807.9 918,792.5 905.4,772.3 894.8,747.1 886.1,716.6 879.2,679.1 872.9,621.4 869.1,563.4 869.4,525.3 872.6,493.7 878.7,467.1 887.6,445 899.3,427.3 913.9,414.1 932.4,405.3 961.5,400.3 991,400.1 1010.7,405.6 1027.4,416.1 1042,431.5 1054.6,451.7 1065.2,476.9 1073.9,507.4 1080.8,544.9 1087.1,602.6 1090.9,660.6 1090.6,698.7 1087.4,730.3 1081.3,756.9 1072.4,779 1060.7,796.7 1046.1,809.9 1027.6,818.7" fill="#3e3e3e" filter="url(#b2)"/><polygon points="992.3,777.3 969.6,777.3 954.4,772.7 941.5,764 930.3,751.3 920.5,734.6 912.2,713.8 905.4,688.6 899.9,657.8 894.8,610.2 891.6,562.4 891.6,531.1 894,505.1 898.5,483.2 905.2,465.1 914.1,450.6 925.3,439.8 939.5,432.6 961.7,428.7 984.4,428.7 999.6,433.3 1012.5,442 1023.7,454.7 1033.5,471.4 1041.8,492.2 1048.6,517.4 1054.1,548.2 1059.2,595.8 1062.4,643.6 1062.4,674.9 1060,700.9 1055.5,722.8 1048.8,740.9 1039.9,755.4 1028.7,766.2 1014.5,773.4" fill="none" stroke="#232323" stroke-width="16" opacity="0.9" filter="url(#b2)"/><polygon points="991.6,769.9 971,769.8 957.2,765.3 945.4,756.9 935.1,744.7 926.2,728.6 918.6,708.7 912.2,684.6 907.1,655.1 902.3,609.5 899.1,563.8 899.1,533.9 901.1,509 905.1,488.1 911.2,470.7 919.2,456.9 929.3,446.6 942.1,439.8 962.4,436.1 983,436.2 996.8,440.7 1008.6,449.1 1018.9,461.3 1027.8,477.4 1035.4,497.3 1041.8,521.4 1046.9,550.9 1051.7,596.5 1054.9,642.2 1054.9,672.1 1052.9,697 1048.9,717.9 1042.8,735.3 1034.8,749.1 1024.7,759.4 1011.9,766.2" fill="#767676" filter="url(#b2)"/><polygon points="990.9,761.4 972.7,761.2 960.5,756.9 950.1,748.8 941,737.2 933,721.9 926.2,703 920.5,680 915.8,652 911.3,608.8 908.2,565.4 908,536.9 909.6,513.4 913,493.5 918.2,477.1 925.2,464.1 934.1,454.3 945.3,448 963.1,444.6 981.3,444.8 993.5,449.1 1003.9,457.2 1013,468.8 1021,484.1 1027.8,503 1033.5,526 1038.2,554 1042.7,597.2 1045.8,640.6 1046,669.1 1044.4,692.6 1041,712.5 1035.8,728.9 1028.8,741.9 1019.9,751.7 1008.7,758" fill="none" stroke="#bebebe" stroke-width="5" opacity="0.65" filter="url(#b1)"/><polygon points="650,380 760,400 851,439 885,560 880,658 720,658" fill="#3e3e3e" filter="url(#b3)" stroke-linejoin="round"/><polygon points="670,400 760,430 800,520 760,620 700,630" fill="#282828" opacity="0.9" filter="url(#b2)" stroke-linejoin="round"/><polygon points="609.3,308 637.2,316.2 654.2,327.8 666.9,344.1 676,365.2 681.8,391 684.2,421.7 683.3,457.8 678.5,500.9 667.1,566.2 653.2,631.1 641.5,672.8 628.8,706.6 615.1,734.2 600,756 583.7,772.1 565.8,782.5 545.7,786.9 516.7,784 488.8,775.8 471.8,764.2 459.1,747.9 450,726.8 444.2,701 441.8,670.3 442.7,634.2 447.5,591.1 458.9,525.8 472.8,460.9 484.5,419.2 497.2,385.4 510.9,357.8 526,336 542.3,319.9 560.2,309.5 580.3,305.1" fill="#222222" filter="url(#b2)"/><polygon points="593.4,330.4 608,335.5 616.5,344.1 622.5,356.9 626.4,373.9 628.1,395.1 627.9,420.5 625.5,450.7 620.7,487 611.1,542.2 600.2,597.2 591.7,632.8 583.1,661.8 574.3,685.7 565,704.8 555.4,719.3 545.2,729.1 534.1,734.1 518.6,733.6 504,728.5 495.5,719.9 489.5,707.1 485.6,690.1 483.9,668.9 484.1,643.5 486.5,613.3 491.3,577 500.9,521.8 511.8,466.8 520.3,431.2 528.9,402.2 537.7,378.3 547,359.2 556.6,344.7 566.8,334.9 577.9,329.9" fill="#9c9c9c" filter="url(#b2)"/><polyline points="725,434 772,490 697,565 720,612 730,678" fill="none" stroke="#fcfcfc" stroke-width="13" filter="url(#b1)" stroke-linecap="round" stroke-linejoin="round"/><ellipse cx="760" cy="500" rx="22" ry="30" transform="rotate(30 760 500)" fill="#fafafa" opacity="0.9" filter="url(#b2)"/><polyline points="847,340 795,434 819,500" fill="none" stroke="#fcfcfc" stroke-width="12" filter="url(#b1)" stroke-linecap="round" stroke-linejoin="round"/></g><rect x="1262.8" y="693" width="361.6" height="243.6" filter="url(#nz)"/></g>
<rect x="1264.5" y="694.7" width="358.2" height="240.2" fill="none" stroke="#000" stroke-width="3.4"/>
<clipPath id="c4"><rect x="1646.8" y="696.1" width="360.6" height="241.1"/></clipPath>
<g clip-path="url(#c4)"><rect x="1645.8" y="695.1" width="362.6" height="243.1" fill="#f5f5f5"/><g transform="translate(1628 685) scale(0.26553)"><polygon points="880,600 1250,560 1330,700 1300,900 1000,930 860,800" fill="#dadada" opacity="0.85" filter="url(#b3)" stroke-linejoin="round"/><polygon points="300,330 480,280 520,600 330,640" fill="#dedede" opacity="0.8" filter="url(#b3)" stroke-linejoin="round"/><g fill="#d0d0d0" opacity="0.9" filter="url(#cl)"><circle cx="380" cy="350" r="55"/><circle cx="350" cy="450" r="55"/><circle cx="380" cy="540" r="50"/><circle cx="300" cy="600" r="45"/><circle cx="450" cy="280" r="40"/><circle cx="1000" cy="660" r="90"/><circle cx="1100" cy="700" r="80"/><circle cx="900" cy="720" r="70"/><circle cx="1180" cy="620" r="60"/><circle cx="1150" cy="780" r="60"/><circle cx="1230" cy="860" r="60"/><circle cx="1050" cy="780" r="50"/><circle cx="700" cy="800" r="50"/><circle cx="820" cy="580" r="40"/><circle cx="880" cy="330" r="40"/><circle cx="600" cy="400" r="40"/><circle cx="250" cy="620" r="40"/></g><g fill="#a5a5a5" opacity="0.6" filter="url(#b3)"><circle cx="950" cy="650" r="50"/><circle cx="1050" cy="680" r="50"/><circle cx="1150" cy="700" r="40"/><circle cx="900" cy="600" r="30"/><circle cx="350" cy="480" r="40"/></g><g fill="#fcfcfc" filter="url(#b2)"><circle cx="700" cy="480" r="70"/><circle cx="680" cy="580" r="50"/><circle cx="740" cy="420" r="40"/><circle cx="980" cy="880" r="70"/><circle cx="900" cy="900" r="50"/><circle cx="350" cy="680" r="35"/><circle cx="400" cy="720" r="25"/><circle cx="640" cy="700" r="40"/><circle cx="380" cy="640" r="30"/></g><polygon points="340.9,969.8 312,982.5 290.5,985.7 270,983 249.7,974.7 229.4,961.2 209.1,942.1 188.6,917.3 167.2,885.3 138.5,834 112,781.5 97.4,745.8 88.3,714.9 83.9,687.5 84,663.1 88.5,641.7 97.7,623.1 112.4,607.1 139.1,590.2 168,577.5 189.5,574.3 210,577 230.3,585.3 250.6,598.8 270.9,617.9 291.4,642.7 312.8,674.7 341.5,726 368,778.5 382.6,814.2 391.7,845.1 396.1,872.5 396,896.9 391.5,918.3 382.3,936.9 367.6,952.9" fill="#b0b0b0" filter="url(#b2)"/><g fill="#f0f0f0" filter="url(#b2)"><circle cx="90" cy="730" r="25"/><circle cx="100" cy="900" r="30"/></g><polygon points="505,50 790,50 870,160 930,260 900,330 830,385 700,385 600,400 520,330 492,200" fill="#808080" filter="url(#cl)" stroke-linejoin="round"/><polygon points="800,330 900,300 930,380 860,420 800,400" fill="#8c8c8c" opacity="0.8" filter="url(#b3)" stroke-linejoin="round"/><polyline points="530,110 520,250 560,340" fill="none" stroke="#3e3e3e" stroke-width="44" opacity="0.9" filter="url(#b3)" stroke-linecap="round" stroke-linejoin="round"/><polyline points="640,230 590,340" fill="none" stroke="#aaaaaa" stroke-width="26" opacity="0.8" filter="url(#b3)" stroke-linecap="round" stroke-linejoin="round"/><g fill="#5a5a5a" opacity="0.8" filter="url(#b3)"><circle cx="700" cy="330" r="50"/><circle cx="640" cy="120" r="40"/></g><polygon points="560.3,697.5 537.5,702.5 521,701 505.8,694.4 491.2,683.2 477.1,667.2 463.4,646.6 450,620.9 436.5,588.7 419.2,538.3 403.6,487.3 395.6,453.3 391.3,424.6 390.2,399.9 392.3,378.7 397.5,361 405.9,346.8 418.3,335.8 439.7,326.5 462.5,321.5 479,323 494.2,329.6 508.8,340.8 522.9,356.8 536.6,377.4 550,403.1 563.5,435.3 580.8,485.7 596.4,536.7 604.4,570.7 608.7,599.4 609.8,624.1 607.7,645.3 602.5,663 594.1,677.2 581.7,688.2" fill="#969696" filter="url(#b2)"/><polyline points="524,349 570,460 599,612" fill="none" stroke="#303030" stroke-width="10" filter="url(#b1)" stroke-linecap="round" stroke-linejoin="round"/><ellipse cx="118" cy="580" rx="72" ry="104" fill="#3c3c3c" stroke="#141414" stroke-width="10" filter="url(#b1)"/><ellipse cx="105" cy="570" rx="45" ry="65" fill="#505050" opacity="0.8" filter="url(#b3)"/><ellipse cx="552" cy="815" rx="108" ry="112" fill="#7d7d7d" filter="url(#b2)"/><ellipse cx="552" cy="809" rx="80" ry="90" fill="#767676" stroke="#373737" stroke-width="8" filter="url(#b1)"/><ellipse cx="765" cy="912" rx="78" ry="64" fill="#5f5f5f" stroke="#1e1e1e" stroke-width="9" filter="url(#b1)"/><ellipse cx="762" cy="915" rx="45" ry="35" fill="#696969" opacity="0.8" filter="url(#b3)"/><ellipse cx="790" cy="645" rx="90" ry="60" transform="rotate(-10 790 645)" fill="#484848" filter="url(#b2)"/><ellipse cx="800" cy="640" rx="50" ry="35" transform="rotate(-10 800 640)" fill="#323232" opacity="0.8" filter="url(#b3)"/><g fill="#8c8c8c" opacity="0.7" filter="url(#b3)"><circle cx="960" cy="640" r="55"/><circle cx="1050" cy="660" r="50"/><circle cx="900" cy="620" r="35"/></g><polygon points="1184.5,534.8 1176.7,557.5 1166.9,571.1 1153.7,581 1137.1,587.9 1117,592 1093.4,593.1 1065.9,591.3 1033.1,586.2 983.8,574.9 935,561.7 903.7,550.9 878.5,539.5 858.2,527.4 842.4,514.5 831,500.6 824,485.6 821.7,469 825.5,445.2 833.3,422.5 843.1,408.9 856.3,399 872.9,392.1 893,388 916.6,386.9 944.1,388.7 976.9,393.8 1026.2,405.1 1075,418.3 1106.3,429.1 1131.5,440.5 1151.8,452.6 1167.6,465.5 1179,479.4 1186,494.4 1188.3,511" fill="#787878" stroke="#2d2d2d" stroke-width="6" filter="url(#b1)"/><polygon points="1057,494.2 1053.3,504.5 1048.3,510.6 1041.4,515 1032.7,517.8 1022,519.3 1009.4,519.4 994.6,518 977,515 950.3,508.8 923.9,501.8 906.9,496.1 893.2,490.4 882.1,484.4 873.4,478.1 867,471.5 863,464.4 861.4,456.7 863,445.8 866.7,435.5 871.7,429.4 878.6,425 887.3,422.2 898,420.7 910.6,420.6 925.4,422 943,425 969.7,431.2 996.1,438.2 1013.1,443.9 1026.8,449.6 1037.9,455.6 1046.6,461.9 1053,468.5 1057,475.6 1058.6,483.3" fill="#8c8c8c" opacity="0.7" filter="url(#b3)"/><polyline points="1010,385 1060,320 1120,300 1200,290" fill="none" stroke="#bebebe" stroke-width="14" filter="url(#b2)" stroke-linecap="round" stroke-linejoin="round"/><g fill="#828282" opacity="0.9" filter="url(#cl)"><circle cx="1400" cy="470" r="50"/><circle cx="1350" cy="540" r="50"/><circle cx="1380" cy="620" r="60"/><circle cx="1300" cy="680" r="60"/><circle cx="1330" cy="760" r="50"/><circle cx="1400" cy="720" r="50"/></g><g fill="#232323" filter="url(#b2)"><circle cx="1350" cy="880" r="70"/><circle cx="1420" cy="900" r="60"/><circle cx="1290" cy="880" r="40"/></g></g><rect x="1645.8" y="695.1" width="362.6" height="243.1" filter="url(#nz)"/></g>
<rect x="1647.5" y="696.8" width="359.2" height="239.7" fill="none" stroke="#000" stroke-width="3.4"/>
<rect x="1839.8" y="962" width="73.4" height="10.4" fill="#000"/>
<text x="1917.48" y="971" font-size="40" textLength="84.39" lengthAdjust="spacingAndGlyphs" fill="#111" xml:space="preserve">1 μm</text>
</svg>
</body></html>
